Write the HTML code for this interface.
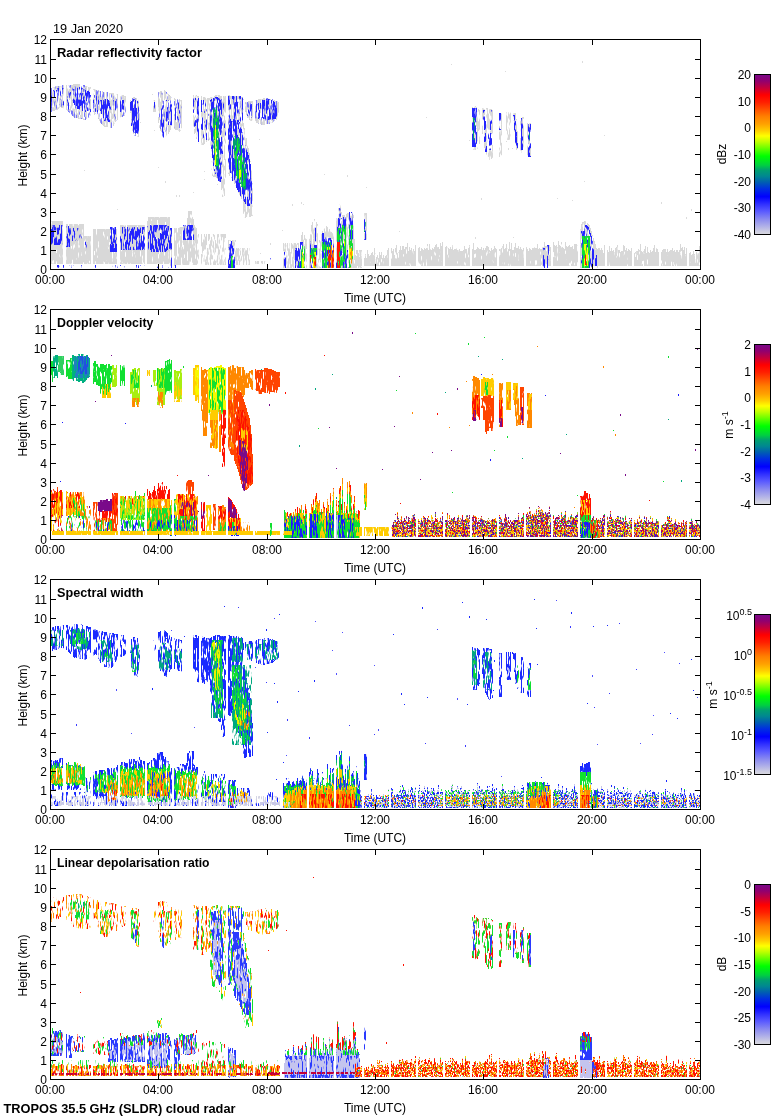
<!DOCTYPE html><html><head><meta charset="utf-8"><style>html,body{margin:0;padding:0;background:#fff;overflow:hidden}svg{display:block}text{shape-rendering:auto}</style></head><body><svg width="780" height="1120" viewBox="0 0 780 1120" shape-rendering="crispEdges">
<defs><linearGradient id="cb" x1="0" y1="0" x2="0" y2="1"><stop offset="0" stop-color="#7a0a8a"/><stop offset="0.04" stop-color="#900070"/><stop offset="0.08" stop-color="#c00040"/><stop offset="0.128" stop-color="#ff0000"/><stop offset="0.174" stop-color="#ff2000"/><stop offset="0.218" stop-color="#ff5000"/><stop offset="0.263" stop-color="#ff8000"/><stop offset="0.308" stop-color="#ffa000"/><stop offset="0.352" stop-color="#ffd000"/><stop offset="0.384" stop-color="#ffff00"/><stop offset="0.42" stop-color="#c0ff00"/><stop offset="0.465" stop-color="#60ff00"/><stop offset="0.51" stop-color="#00ff00"/><stop offset="0.566" stop-color="#00d040"/><stop offset="0.597" stop-color="#00a070"/><stop offset="0.635" stop-color="#008890"/><stop offset="0.672" stop-color="#0060b0"/><stop offset="0.713" stop-color="#0030e0"/><stop offset="0.764" stop-color="#0000ff"/><stop offset="0.81" stop-color="#3030ff"/><stop offset="0.855" stop-color="#5a5aff"/><stop offset="0.902" stop-color="#8888f0"/><stop offset="0.948" stop-color="#b0b0e8"/><stop offset="0.985" stop-color="#d0d0e0"/><stop offset="1.0" stop-color="#d8d8e0"/></linearGradient></defs>
<rect width="780" height="1120" fill="#fff"/>
<defs><filter id="f0_8_2" filterUnits="userSpaceOnUse" x="50" y="39" width="651" height="231" color-interpolation-filters="sRGB"><feTurbulence type="fractalNoise" baseFrequency="0.8 0.1" numOctaves="2" seed="43" result="t"/><feColorMatrix in="t" type="matrix" values="0 0 0 0 0 0 0 0 0 0 0 0 0 0 0 -12 0 0 0 4.464" result="m"/><feComposite in="SourceGraphic" in2="m" operator="in"/></filter><filter id="f0_15_2" filterUnits="userSpaceOnUse" x="50" y="39" width="651" height="231" color-interpolation-filters="sRGB"><feTurbulence type="fractalNoise" baseFrequency="0.8 0.1" numOctaves="2" seed="50" result="t"/><feColorMatrix in="t" type="matrix" values="0 0 0 0 0 0 0 0 0 0 0 0 0 0 0 -12 0 0 0 4.914" result="m"/><feComposite in="SourceGraphic" in2="m" operator="in"/></filter><filter id="f0_18_0" filterUnits="userSpaceOnUse" x="50" y="39" width="651" height="231" color-interpolation-filters="sRGB"><feTurbulence type="fractalNoise" baseFrequency="0.8 0.1" numOctaves="2" seed="19" result="t"/><feColorMatrix in="t" type="matrix" values="0 0 0 0 0 0 0 0 0 0 0 0 0 0 0 -12 0 0 0 5.093" result="m"/><feComposite in="SourceGraphic" in2="m" operator="in"/></filter><filter id="f0_18_2" filterUnits="userSpaceOnUse" x="50" y="39" width="651" height="231" color-interpolation-filters="sRGB"><feTurbulence type="fractalNoise" baseFrequency="0.8 0.1" numOctaves="2" seed="53" result="t"/><feColorMatrix in="t" type="matrix" values="0 0 0 0 0 0 0 0 0 0 0 0 0 0 0 -12 0 0 0 5.093" result="m"/><feComposite in="SourceGraphic" in2="m" operator="in"/></filter><filter id="f0_20_2" filterUnits="userSpaceOnUse" x="50" y="39" width="651" height="231" color-interpolation-filters="sRGB"><feTurbulence type="fractalNoise" baseFrequency="0.8 0.1" numOctaves="2" seed="55" result="t"/><feColorMatrix in="t" type="matrix" values="0 0 0 0 0 0 0 0 0 0 0 0 0 0 0 -12 0 0 0 5.224" result="m"/><feComposite in="SourceGraphic" in2="m" operator="in"/></filter><filter id="f0_22_2" filterUnits="userSpaceOnUse" x="50" y="39" width="651" height="231" color-interpolation-filters="sRGB"><feTurbulence type="fractalNoise" baseFrequency="0.8 0.1" numOctaves="2" seed="57" result="t"/><feColorMatrix in="t" type="matrix" values="0 0 0 0 0 0 0 0 0 0 0 0 0 0 0 -12 0 0 0 5.356" result="m"/><feComposite in="SourceGraphic" in2="m" operator="in"/></filter><filter id="f0_25_2" filterUnits="userSpaceOnUse" x="50" y="39" width="651" height="231" color-interpolation-filters="sRGB"><feTurbulence type="fractalNoise" baseFrequency="0.8 0.1" numOctaves="2" seed="60" result="t"/><feColorMatrix in="t" type="matrix" values="0 0 0 0 0 0 0 0 0 0 0 0 0 0 0 -12 0 0 0 5.542" result="m"/><feComposite in="SourceGraphic" in2="m" operator="in"/></filter><filter id="f0_28_2" filterUnits="userSpaceOnUse" x="50" y="39" width="651" height="231" color-interpolation-filters="sRGB"><feTurbulence type="fractalNoise" baseFrequency="0.8 0.1" numOctaves="2" seed="63" result="t"/><feColorMatrix in="t" type="matrix" values="0 0 0 0 0 0 0 0 0 0 0 0 0 0 0 -12 0 0 0 5.674" result="m"/><feComposite in="SourceGraphic" in2="m" operator="in"/></filter><filter id="f0_30_2" filterUnits="userSpaceOnUse" x="50" y="39" width="651" height="231" color-interpolation-filters="sRGB"><feTurbulence type="fractalNoise" baseFrequency="0.8 0.1" numOctaves="2" seed="65" result="t"/><feColorMatrix in="t" type="matrix" values="0 0 0 0 0 0 0 0 0 0 0 0 0 0 0 -12 0 0 0 5.762" result="m"/><feComposite in="SourceGraphic" in2="m" operator="in"/></filter><filter id="f0_35_2" filterUnits="userSpaceOnUse" x="50" y="39" width="651" height="231" color-interpolation-filters="sRGB"><feTurbulence type="fractalNoise" baseFrequency="0.8 0.1" numOctaves="2" seed="70" result="t"/><feColorMatrix in="t" type="matrix" values="0 0 0 0 0 0 0 0 0 0 0 0 0 0 0 -12 0 0 0 5.982" result="m"/><feComposite in="SourceGraphic" in2="m" operator="in"/></filter><filter id="f0_40_0" filterUnits="userSpaceOnUse" x="50" y="39" width="651" height="231" color-interpolation-filters="sRGB"><feTurbulence type="fractalNoise" baseFrequency="0.8 0.1" numOctaves="2" seed="41" result="t"/><feColorMatrix in="t" type="matrix" values="0 0 0 0 0 0 0 0 0 0 0 0 0 0 0 -12 0 0 0 6.161" result="m"/><feComposite in="SourceGraphic" in2="m" operator="in"/></filter><filter id="f0_40_2" filterUnits="userSpaceOnUse" x="50" y="39" width="651" height="231" color-interpolation-filters="sRGB"><feTurbulence type="fractalNoise" baseFrequency="0.8 0.1" numOctaves="2" seed="75" result="t"/><feColorMatrix in="t" type="matrix" values="0 0 0 0 0 0 0 0 0 0 0 0 0 0 0 -12 0 0 0 6.161" result="m"/><feComposite in="SourceGraphic" in2="m" operator="in"/></filter><filter id="f0_45_0" filterUnits="userSpaceOnUse" x="50" y="39" width="651" height="231" color-interpolation-filters="sRGB"><feTurbulence type="fractalNoise" baseFrequency="0.8 0.1" numOctaves="2" seed="46" result="t"/><feColorMatrix in="t" type="matrix" values="0 0 0 0 0 0 0 0 0 0 0 0 0 0 0 -12 0 0 0 6.336" result="m"/><feComposite in="SourceGraphic" in2="m" operator="in"/></filter><filter id="f0_45_2" filterUnits="userSpaceOnUse" x="50" y="39" width="651" height="231" color-interpolation-filters="sRGB"><feTurbulence type="fractalNoise" baseFrequency="0.8 0.1" numOctaves="2" seed="80" result="t"/><feColorMatrix in="t" type="matrix" values="0 0 0 0 0 0 0 0 0 0 0 0 0 0 0 -12 0 0 0 6.336" result="m"/><feComposite in="SourceGraphic" in2="m" operator="in"/></filter><filter id="f0_50_0" filterUnits="userSpaceOnUse" x="50" y="39" width="651" height="231" color-interpolation-filters="sRGB"><feTurbulence type="fractalNoise" baseFrequency="0.8 0.1" numOctaves="2" seed="51" result="t"/><feColorMatrix in="t" type="matrix" values="0 0 0 0 0 0 0 0 0 0 0 0 0 0 0 -12 0 0 0 6.512" result="m"/><feComposite in="SourceGraphic" in2="m" operator="in"/></filter><filter id="f0_50_2" filterUnits="userSpaceOnUse" x="50" y="39" width="651" height="231" color-interpolation-filters="sRGB"><feTurbulence type="fractalNoise" baseFrequency="0.8 0.1" numOctaves="2" seed="85" result="t"/><feColorMatrix in="t" type="matrix" values="0 0 0 0 0 0 0 0 0 0 0 0 0 0 0 -12 0 0 0 6.512" result="m"/><feComposite in="SourceGraphic" in2="m" operator="in"/></filter><filter id="f0_55_0" filterUnits="userSpaceOnUse" x="50" y="39" width="651" height="231" color-interpolation-filters="sRGB"><feTurbulence type="fractalNoise" baseFrequency="0.8 0.1" numOctaves="2" seed="56" result="t"/><feColorMatrix in="t" type="matrix" values="0 0 0 0 0 0 0 0 0 0 0 0 0 0 0 -12 0 0 0 6.687" result="m"/><feComposite in="SourceGraphic" in2="m" operator="in"/></filter><filter id="f0_55_2" filterUnits="userSpaceOnUse" x="50" y="39" width="651" height="231" color-interpolation-filters="sRGB"><feTurbulence type="fractalNoise" baseFrequency="0.8 0.1" numOctaves="2" seed="90" result="t"/><feColorMatrix in="t" type="matrix" values="0 0 0 0 0 0 0 0 0 0 0 0 0 0 0 -12 0 0 0 6.687" result="m"/><feComposite in="SourceGraphic" in2="m" operator="in"/></filter><filter id="f0_60_0" filterUnits="userSpaceOnUse" x="50" y="39" width="651" height="231" color-interpolation-filters="sRGB"><feTurbulence type="fractalNoise" baseFrequency="0.8 0.1" numOctaves="2" seed="61" result="t"/><feColorMatrix in="t" type="matrix" values="0 0 0 0 0 0 0 0 0 0 0 0 0 0 0 -12 0 0 0 6.862" result="m"/><feComposite in="SourceGraphic" in2="m" operator="in"/></filter><filter id="f0_60_2" filterUnits="userSpaceOnUse" x="50" y="39" width="651" height="231" color-interpolation-filters="sRGB"><feTurbulence type="fractalNoise" baseFrequency="0.8 0.1" numOctaves="2" seed="95" result="t"/><feColorMatrix in="t" type="matrix" values="0 0 0 0 0 0 0 0 0 0 0 0 0 0 0 -12 0 0 0 6.862" result="m"/><feComposite in="SourceGraphic" in2="m" operator="in"/></filter><filter id="f0_65_2" filterUnits="userSpaceOnUse" x="50" y="39" width="651" height="231" color-interpolation-filters="sRGB"><feTurbulence type="fractalNoise" baseFrequency="0.8 0.1" numOctaves="2" seed="100" result="t"/><feColorMatrix in="t" type="matrix" values="0 0 0 0 0 0 0 0 0 0 0 0 0 0 0 -12 0 0 0 7.052" result="m"/><feComposite in="SourceGraphic" in2="m" operator="in"/></filter><filter id="f0_70_0" filterUnits="userSpaceOnUse" x="50" y="39" width="651" height="231" color-interpolation-filters="sRGB"><feTurbulence type="fractalNoise" baseFrequency="0.8 0.1" numOctaves="2" seed="71" result="t"/><feColorMatrix in="t" type="matrix" values="0 0 0 0 0 0 0 0 0 0 0 0 0 0 0 -12 0 0 0 7.261" result="m"/><feComposite in="SourceGraphic" in2="m" operator="in"/></filter><filter id="f0_70_2" filterUnits="userSpaceOnUse" x="50" y="39" width="651" height="231" color-interpolation-filters="sRGB"><feTurbulence type="fractalNoise" baseFrequency="0.8 0.1" numOctaves="2" seed="105" result="t"/><feColorMatrix in="t" type="matrix" values="0 0 0 0 0 0 0 0 0 0 0 0 0 0 0 -12 0 0 0 7.261" result="m"/><feComposite in="SourceGraphic" in2="m" operator="in"/></filter><filter id="f0_72_2" filterUnits="userSpaceOnUse" x="50" y="39" width="651" height="231" color-interpolation-filters="sRGB"><feTurbulence type="fractalNoise" baseFrequency="0.8 0.1" numOctaves="2" seed="107" result="t"/><feColorMatrix in="t" type="matrix" values="0 0 0 0 0 0 0 0 0 0 0 0 0 0 0 -12 0 0 0 7.344" result="m"/><feComposite in="SourceGraphic" in2="m" operator="in"/></filter><filter id="f0_75_0" filterUnits="userSpaceOnUse" x="50" y="39" width="651" height="231" color-interpolation-filters="sRGB"><feTurbulence type="fractalNoise" baseFrequency="0.8 0.1" numOctaves="2" seed="76" result="t"/><feColorMatrix in="t" type="matrix" values="0 0 0 0 0 0 0 0 0 0 0 0 0 0 0 -12 0 0 0 7.480" result="m"/><feComposite in="SourceGraphic" in2="m" operator="in"/></filter><filter id="f0_75_2" filterUnits="userSpaceOnUse" x="50" y="39" width="651" height="231" color-interpolation-filters="sRGB"><feTurbulence type="fractalNoise" baseFrequency="0.8 0.1" numOctaves="2" seed="110" result="t"/><feColorMatrix in="t" type="matrix" values="0 0 0 0 0 0 0 0 0 0 0 0 0 0 0 -12 0 0 0 7.480" result="m"/><feComposite in="SourceGraphic" in2="m" operator="in"/></filter><filter id="f0_80_0" filterUnits="userSpaceOnUse" x="50" y="39" width="651" height="231" color-interpolation-filters="sRGB"><feTurbulence type="fractalNoise" baseFrequency="0.8 0.1" numOctaves="2" seed="81" result="t"/><feColorMatrix in="t" type="matrix" values="0 0 0 0 0 0 0 0 0 0 0 0 0 0 0 -12 0 0 0 7.766" result="m"/><feComposite in="SourceGraphic" in2="m" operator="in"/></filter><filter id="f0_80_2" filterUnits="userSpaceOnUse" x="50" y="39" width="651" height="231" color-interpolation-filters="sRGB"><feTurbulence type="fractalNoise" baseFrequency="0.8 0.1" numOctaves="2" seed="115" result="t"/><feColorMatrix in="t" type="matrix" values="0 0 0 0 0 0 0 0 0 0 0 0 0 0 0 -12 0 0 0 7.766" result="m"/><feComposite in="SourceGraphic" in2="m" operator="in"/></filter><filter id="f0_82_2" filterUnits="userSpaceOnUse" x="50" y="39" width="651" height="231" color-interpolation-filters="sRGB"><feTurbulence type="fractalNoise" baseFrequency="0.8 0.1" numOctaves="2" seed="117" result="t"/><feColorMatrix in="t" type="matrix" values="0 0 0 0 0 0 0 0 0 0 0 0 0 0 0 -12 0 0 0 7.880" result="m"/><feComposite in="SourceGraphic" in2="m" operator="in"/></filter><filter id="f0_92_2" filterUnits="userSpaceOnUse" x="50" y="39" width="651" height="231" color-interpolation-filters="sRGB"><feTurbulence type="fractalNoise" baseFrequency="0.8 0.1" numOctaves="2" seed="127" result="t"/><feColorMatrix in="t" type="matrix" values="0 0 0 0 0 0 0 0 0 0 0 0 0 0 0 -12 0 0 0 8.611" result="m"/><feComposite in="SourceGraphic" in2="m" operator="in"/></filter><filter id="f0_94_2" filterUnits="userSpaceOnUse" x="50" y="39" width="651" height="231" color-interpolation-filters="sRGB"><feTurbulence type="fractalNoise" baseFrequency="0.8 0.1" numOctaves="2" seed="129" result="t"/><feColorMatrix in="t" type="matrix" values="0 0 0 0 0 0 0 0 0 0 0 0 0 0 0 -12 0 0 0 8.833" result="m"/><feComposite in="SourceGraphic" in2="m" operator="in"/></filter><filter id="f1_10_0" filterUnits="userSpaceOnUse" x="50" y="309" width="651" height="231" color-interpolation-filters="sRGB"><feTurbulence type="fractalNoise" baseFrequency="0.8 0.1" numOctaves="2" seed="111" result="t"/><feColorMatrix in="t" type="matrix" values="0 0 0 0 0 0 0 0 0 0 0 0 0 0 0 -12 0 0 0 4.629" result="m"/><feComposite in="SourceGraphic" in2="m" operator="in"/></filter><filter id="f1_15_0" filterUnits="userSpaceOnUse" x="50" y="309" width="651" height="231" color-interpolation-filters="sRGB"><feTurbulence type="fractalNoise" baseFrequency="0.8 0.1" numOctaves="2" seed="116" result="t"/><feColorMatrix in="t" type="matrix" values="0 0 0 0 0 0 0 0 0 0 0 0 0 0 0 -12 0 0 0 4.914" result="m"/><feComposite in="SourceGraphic" in2="m" operator="in"/></filter><filter id="f1_20_0" filterUnits="userSpaceOnUse" x="50" y="309" width="651" height="231" color-interpolation-filters="sRGB"><feTurbulence type="fractalNoise" baseFrequency="0.8 0.1" numOctaves="2" seed="121" result="t"/><feColorMatrix in="t" type="matrix" values="0 0 0 0 0 0 0 0 0 0 0 0 0 0 0 -12 0 0 0 5.224" result="m"/><feComposite in="SourceGraphic" in2="m" operator="in"/></filter><filter id="f1_20_2" filterUnits="userSpaceOnUse" x="50" y="309" width="651" height="231" color-interpolation-filters="sRGB"><feTurbulence type="fractalNoise" baseFrequency="0.8 0.1" numOctaves="2" seed="155" result="t"/><feColorMatrix in="t" type="matrix" values="0 0 0 0 0 0 0 0 0 0 0 0 0 0 0 -12 0 0 0 5.224" result="m"/><feComposite in="SourceGraphic" in2="m" operator="in"/></filter><filter id="f1_21_15" filterUnits="userSpaceOnUse" x="50" y="309" width="651" height="231" color-interpolation-filters="sRGB"><feTurbulence type="fractalNoise" baseFrequency="0.9 0.4" numOctaves="2" seed="377" result="t"/><feColorMatrix in="t" type="matrix" values="0 0 0 0 0 0 0 0 0 0 0 0 0 0 0 -12 0 0 0 5.290" result="m"/><feComposite in="SourceGraphic" in2="m" operator="in"/></filter><filter id="f1_22_12" filterUnits="userSpaceOnUse" x="50" y="309" width="651" height="231" color-interpolation-filters="sRGB"><feTurbulence type="fractalNoise" baseFrequency="0.9 0.4" numOctaves="2" seed="327" result="t"/><feColorMatrix in="t" type="matrix" values="0 0 0 0 0 0 0 0 0 0 0 0 0 0 0 -12 0 0 0 5.356" result="m"/><feComposite in="SourceGraphic" in2="m" operator="in"/></filter><filter id="f1_25_0" filterUnits="userSpaceOnUse" x="50" y="309" width="651" height="231" color-interpolation-filters="sRGB"><feTurbulence type="fractalNoise" baseFrequency="0.8 0.1" numOctaves="2" seed="126" result="t"/><feColorMatrix in="t" type="matrix" values="0 0 0 0 0 0 0 0 0 0 0 0 0 0 0 -12 0 0 0 5.542" result="m"/><feComposite in="SourceGraphic" in2="m" operator="in"/></filter><filter id="f1_25_2" filterUnits="userSpaceOnUse" x="50" y="309" width="651" height="231" color-interpolation-filters="sRGB"><feTurbulence type="fractalNoise" baseFrequency="0.8 0.1" numOctaves="2" seed="160" result="t"/><feColorMatrix in="t" type="matrix" values="0 0 0 0 0 0 0 0 0 0 0 0 0 0 0 -12 0 0 0 5.542" result="m"/><feComposite in="SourceGraphic" in2="m" operator="in"/></filter><filter id="f1_28_0" filterUnits="userSpaceOnUse" x="50" y="309" width="651" height="231" color-interpolation-filters="sRGB"><feTurbulence type="fractalNoise" baseFrequency="0.8 0.1" numOctaves="2" seed="129" result="t"/><feColorMatrix in="t" type="matrix" values="0 0 0 0 0 0 0 0 0 0 0 0 0 0 0 -12 0 0 0 5.674" result="m"/><feComposite in="SourceGraphic" in2="m" operator="in"/></filter><filter id="f1_28_11" filterUnits="userSpaceOnUse" x="50" y="309" width="651" height="231" color-interpolation-filters="sRGB"><feTurbulence type="fractalNoise" baseFrequency="0.9 0.4" numOctaves="2" seed="316" result="t"/><feColorMatrix in="t" type="matrix" values="0 0 0 0 0 0 0 0 0 0 0 0 0 0 0 -12 0 0 0 5.674" result="m"/><feComposite in="SourceGraphic" in2="m" operator="in"/></filter><filter id="f1_29_10" filterUnits="userSpaceOnUse" x="50" y="309" width="651" height="231" color-interpolation-filters="sRGB"><feTurbulence type="fractalNoise" baseFrequency="0.9 0.4" numOctaves="2" seed="300" result="t"/><feColorMatrix in="t" type="matrix" values="0 0 0 0 0 0 0 0 0 0 0 0 0 0 0 -12 0 0 0 5.718" result="m"/><feComposite in="SourceGraphic" in2="m" operator="in"/></filter><filter id="f1_30_0" filterUnits="userSpaceOnUse" x="50" y="309" width="651" height="231" color-interpolation-filters="sRGB"><feTurbulence type="fractalNoise" baseFrequency="0.8 0.1" numOctaves="2" seed="131" result="t"/><feColorMatrix in="t" type="matrix" values="0 0 0 0 0 0 0 0 0 0 0 0 0 0 0 -12 0 0 0 5.762" result="m"/><feComposite in="SourceGraphic" in2="m" operator="in"/></filter><filter id="f1_30_2" filterUnits="userSpaceOnUse" x="50" y="309" width="651" height="231" color-interpolation-filters="sRGB"><feTurbulence type="fractalNoise" baseFrequency="0.8 0.1" numOctaves="2" seed="165" result="t"/><feColorMatrix in="t" type="matrix" values="0 0 0 0 0 0 0 0 0 0 0 0 0 0 0 -12 0 0 0 5.762" result="m"/><feComposite in="SourceGraphic" in2="m" operator="in"/></filter><filter id="f1_30_16" filterUnits="userSpaceOnUse" x="50" y="309" width="651" height="231" color-interpolation-filters="sRGB"><feTurbulence type="fractalNoise" baseFrequency="0.9 0.4" numOctaves="2" seed="403" result="t"/><feColorMatrix in="t" type="matrix" values="0 0 0 0 0 0 0 0 0 0 0 0 0 0 0 -12 0 0 0 5.762" result="m"/><feComposite in="SourceGraphic" in2="m" operator="in"/></filter><filter id="f1_33_13" filterUnits="userSpaceOnUse" x="50" y="309" width="651" height="231" color-interpolation-filters="sRGB"><feTurbulence type="fractalNoise" baseFrequency="0.9 0.4" numOctaves="2" seed="355" result="t"/><feColorMatrix in="t" type="matrix" values="0 0 0 0 0 0 0 0 0 0 0 0 0 0 0 -12 0 0 0 5.894" result="m"/><feComposite in="SourceGraphic" in2="m" operator="in"/></filter><filter id="f1_35_0" filterUnits="userSpaceOnUse" x="50" y="309" width="651" height="231" color-interpolation-filters="sRGB"><feTurbulence type="fractalNoise" baseFrequency="0.8 0.1" numOctaves="2" seed="136" result="t"/><feColorMatrix in="t" type="matrix" values="0 0 0 0 0 0 0 0 0 0 0 0 0 0 0 -12 0 0 0 5.982" result="m"/><feComposite in="SourceGraphic" in2="m" operator="in"/></filter><filter id="f1_35_2" filterUnits="userSpaceOnUse" x="50" y="309" width="651" height="231" color-interpolation-filters="sRGB"><feTurbulence type="fractalNoise" baseFrequency="0.8 0.1" numOctaves="2" seed="170" result="t"/><feColorMatrix in="t" type="matrix" values="0 0 0 0 0 0 0 0 0 0 0 0 0 0 0 -12 0 0 0 5.982" result="m"/><feComposite in="SourceGraphic" in2="m" operator="in"/></filter><filter id="f1_40_0" filterUnits="userSpaceOnUse" x="50" y="309" width="651" height="231" color-interpolation-filters="sRGB"><feTurbulence type="fractalNoise" baseFrequency="0.8 0.1" numOctaves="2" seed="141" result="t"/><feColorMatrix in="t" type="matrix" values="0 0 0 0 0 0 0 0 0 0 0 0 0 0 0 -12 0 0 0 6.161" result="m"/><feComposite in="SourceGraphic" in2="m" operator="in"/></filter><filter id="f1_40_2" filterUnits="userSpaceOnUse" x="50" y="309" width="651" height="231" color-interpolation-filters="sRGB"><feTurbulence type="fractalNoise" baseFrequency="0.8 0.1" numOctaves="2" seed="175" result="t"/><feColorMatrix in="t" type="matrix" values="0 0 0 0 0 0 0 0 0 0 0 0 0 0 0 -12 0 0 0 6.161" result="m"/><feComposite in="SourceGraphic" in2="m" operator="in"/></filter><filter id="f1_45_0" filterUnits="userSpaceOnUse" x="50" y="309" width="651" height="231" color-interpolation-filters="sRGB"><feTurbulence type="fractalNoise" baseFrequency="0.8 0.1" numOctaves="2" seed="146" result="t"/><feColorMatrix in="t" type="matrix" values="0 0 0 0 0 0 0 0 0 0 0 0 0 0 0 -12 0 0 0 6.336" result="m"/><feComposite in="SourceGraphic" in2="m" operator="in"/></filter><filter id="f1_45_2" filterUnits="userSpaceOnUse" x="50" y="309" width="651" height="231" color-interpolation-filters="sRGB"><feTurbulence type="fractalNoise" baseFrequency="0.8 0.1" numOctaves="2" seed="180" result="t"/><feColorMatrix in="t" type="matrix" values="0 0 0 0 0 0 0 0 0 0 0 0 0 0 0 -12 0 0 0 6.336" result="m"/><feComposite in="SourceGraphic" in2="m" operator="in"/></filter><filter id="f1_50_0" filterUnits="userSpaceOnUse" x="50" y="309" width="651" height="231" color-interpolation-filters="sRGB"><feTurbulence type="fractalNoise" baseFrequency="0.8 0.1" numOctaves="2" seed="151" result="t"/><feColorMatrix in="t" type="matrix" values="0 0 0 0 0 0 0 0 0 0 0 0 0 0 0 -12 0 0 0 6.512" result="m"/><feComposite in="SourceGraphic" in2="m" operator="in"/></filter><filter id="f1_50_2" filterUnits="userSpaceOnUse" x="50" y="309" width="651" height="231" color-interpolation-filters="sRGB"><feTurbulence type="fractalNoise" baseFrequency="0.8 0.1" numOctaves="2" seed="185" result="t"/><feColorMatrix in="t" type="matrix" values="0 0 0 0 0 0 0 0 0 0 0 0 0 0 0 -12 0 0 0 6.512" result="m"/><feComposite in="SourceGraphic" in2="m" operator="in"/></filter><filter id="f1_50_14" filterUnits="userSpaceOnUse" x="50" y="309" width="651" height="231" color-interpolation-filters="sRGB"><feTurbulence type="fractalNoise" baseFrequency="0.9 0.4" numOctaves="2" seed="389" result="t"/><feColorMatrix in="t" type="matrix" values="0 0 0 0 0 0 0 0 0 0 0 0 0 0 0 -12 0 0 0 6.512" result="m"/><feComposite in="SourceGraphic" in2="m" operator="in"/></filter><filter id="f1_55_0" filterUnits="userSpaceOnUse" x="50" y="309" width="651" height="231" color-interpolation-filters="sRGB"><feTurbulence type="fractalNoise" baseFrequency="0.8 0.1" numOctaves="2" seed="156" result="t"/><feColorMatrix in="t" type="matrix" values="0 0 0 0 0 0 0 0 0 0 0 0 0 0 0 -12 0 0 0 6.687" result="m"/><feComposite in="SourceGraphic" in2="m" operator="in"/></filter><filter id="f1_55_2" filterUnits="userSpaceOnUse" x="50" y="309" width="651" height="231" color-interpolation-filters="sRGB"><feTurbulence type="fractalNoise" baseFrequency="0.8 0.1" numOctaves="2" seed="190" result="t"/><feColorMatrix in="t" type="matrix" values="0 0 0 0 0 0 0 0 0 0 0 0 0 0 0 -12 0 0 0 6.687" result="m"/><feComposite in="SourceGraphic" in2="m" operator="in"/></filter><filter id="f1_60_0" filterUnits="userSpaceOnUse" x="50" y="309" width="651" height="231" color-interpolation-filters="sRGB"><feTurbulence type="fractalNoise" baseFrequency="0.8 0.1" numOctaves="2" seed="161" result="t"/><feColorMatrix in="t" type="matrix" values="0 0 0 0 0 0 0 0 0 0 0 0 0 0 0 -12 0 0 0 6.862" result="m"/><feComposite in="SourceGraphic" in2="m" operator="in"/></filter><filter id="f1_60_2" filterUnits="userSpaceOnUse" x="50" y="309" width="651" height="231" color-interpolation-filters="sRGB"><feTurbulence type="fractalNoise" baseFrequency="0.8 0.1" numOctaves="2" seed="195" result="t"/><feColorMatrix in="t" type="matrix" values="0 0 0 0 0 0 0 0 0 0 0 0 0 0 0 -12 0 0 0 6.862" result="m"/><feComposite in="SourceGraphic" in2="m" operator="in"/></filter><filter id="f1_70_0" filterUnits="userSpaceOnUse" x="50" y="309" width="651" height="231" color-interpolation-filters="sRGB"><feTurbulence type="fractalNoise" baseFrequency="0.8 0.1" numOctaves="2" seed="171" result="t"/><feColorMatrix in="t" type="matrix" values="0 0 0 0 0 0 0 0 0 0 0 0 0 0 0 -12 0 0 0 7.261" result="m"/><feComposite in="SourceGraphic" in2="m" operator="in"/></filter><filter id="f1_70_2" filterUnits="userSpaceOnUse" x="50" y="309" width="651" height="231" color-interpolation-filters="sRGB"><feTurbulence type="fractalNoise" baseFrequency="0.8 0.1" numOctaves="2" seed="205" result="t"/><feColorMatrix in="t" type="matrix" values="0 0 0 0 0 0 0 0 0 0 0 0 0 0 0 -12 0 0 0 7.261" result="m"/><feComposite in="SourceGraphic" in2="m" operator="in"/></filter><filter id="f1_75_0" filterUnits="userSpaceOnUse" x="50" y="309" width="651" height="231" color-interpolation-filters="sRGB"><feTurbulence type="fractalNoise" baseFrequency="0.8 0.1" numOctaves="2" seed="176" result="t"/><feColorMatrix in="t" type="matrix" values="0 0 0 0 0 0 0 0 0 0 0 0 0 0 0 -12 0 0 0 7.480" result="m"/><feComposite in="SourceGraphic" in2="m" operator="in"/></filter><filter id="f1_75_2" filterUnits="userSpaceOnUse" x="50" y="309" width="651" height="231" color-interpolation-filters="sRGB"><feTurbulence type="fractalNoise" baseFrequency="0.8 0.1" numOctaves="2" seed="210" result="t"/><feColorMatrix in="t" type="matrix" values="0 0 0 0 0 0 0 0 0 0 0 0 0 0 0 -12 0 0 0 7.480" result="m"/><feComposite in="SourceGraphic" in2="m" operator="in"/></filter><filter id="f1_78_0" filterUnits="userSpaceOnUse" x="50" y="309" width="651" height="231" color-interpolation-filters="sRGB"><feTurbulence type="fractalNoise" baseFrequency="0.8 0.1" numOctaves="2" seed="179" result="t"/><feColorMatrix in="t" type="matrix" values="0 0 0 0 0 0 0 0 0 0 0 0 0 0 0 -12 0 0 0 7.651" result="m"/><feComposite in="SourceGraphic" in2="m" operator="in"/></filter><filter id="f1_80_0" filterUnits="userSpaceOnUse" x="50" y="309" width="651" height="231" color-interpolation-filters="sRGB"><feTurbulence type="fractalNoise" baseFrequency="0.8 0.1" numOctaves="2" seed="181" result="t"/><feColorMatrix in="t" type="matrix" values="0 0 0 0 0 0 0 0 0 0 0 0 0 0 0 -12 0 0 0 7.766" result="m"/><feComposite in="SourceGraphic" in2="m" operator="in"/></filter><filter id="f1_80_2" filterUnits="userSpaceOnUse" x="50" y="309" width="651" height="231" color-interpolation-filters="sRGB"><feTurbulence type="fractalNoise" baseFrequency="0.8 0.1" numOctaves="2" seed="215" result="t"/><feColorMatrix in="t" type="matrix" values="0 0 0 0 0 0 0 0 0 0 0 0 0 0 0 -12 0 0 0 7.766" result="m"/><feComposite in="SourceGraphic" in2="m" operator="in"/></filter><filter id="f1_82_0" filterUnits="userSpaceOnUse" x="50" y="309" width="651" height="231" color-interpolation-filters="sRGB"><feTurbulence type="fractalNoise" baseFrequency="0.8 0.1" numOctaves="2" seed="183" result="t"/><feColorMatrix in="t" type="matrix" values="0 0 0 0 0 0 0 0 0 0 0 0 0 0 0 -12 0 0 0 7.880" result="m"/><feComposite in="SourceGraphic" in2="m" operator="in"/></filter><filter id="f1_82_2" filterUnits="userSpaceOnUse" x="50" y="309" width="651" height="231" color-interpolation-filters="sRGB"><feTurbulence type="fractalNoise" baseFrequency="0.8 0.1" numOctaves="2" seed="217" result="t"/><feColorMatrix in="t" type="matrix" values="0 0 0 0 0 0 0 0 0 0 0 0 0 0 0 -12 0 0 0 7.880" result="m"/><feComposite in="SourceGraphic" in2="m" operator="in"/></filter><filter id="f1_85_0" filterUnits="userSpaceOnUse" x="50" y="309" width="651" height="231" color-interpolation-filters="sRGB"><feTurbulence type="fractalNoise" baseFrequency="0.8 0.1" numOctaves="2" seed="186" result="t"/><feColorMatrix in="t" type="matrix" values="0 0 0 0 0 0 0 0 0 0 0 0 0 0 0 -12 0 0 0 8.069" result="m"/><feComposite in="SourceGraphic" in2="m" operator="in"/></filter><filter id="f1_85_2" filterUnits="userSpaceOnUse" x="50" y="309" width="651" height="231" color-interpolation-filters="sRGB"><feTurbulence type="fractalNoise" baseFrequency="0.8 0.1" numOctaves="2" seed="220" result="t"/><feColorMatrix in="t" type="matrix" values="0 0 0 0 0 0 0 0 0 0 0 0 0 0 0 -12 0 0 0 8.069" result="m"/><feComposite in="SourceGraphic" in2="m" operator="in"/></filter><filter id="f1_88_0" filterUnits="userSpaceOnUse" x="50" y="309" width="651" height="231" color-interpolation-filters="sRGB"><feTurbulence type="fractalNoise" baseFrequency="0.8 0.1" numOctaves="2" seed="189" result="t"/><feColorMatrix in="t" type="matrix" values="0 0 0 0 0 0 0 0 0 0 0 0 0 0 0 -12 0 0 0 8.264" result="m"/><feComposite in="SourceGraphic" in2="m" operator="in"/></filter><filter id="f1_88_2" filterUnits="userSpaceOnUse" x="50" y="309" width="651" height="231" color-interpolation-filters="sRGB"><feTurbulence type="fractalNoise" baseFrequency="0.8 0.1" numOctaves="2" seed="223" result="t"/><feColorMatrix in="t" type="matrix" values="0 0 0 0 0 0 0 0 0 0 0 0 0 0 0 -12 0 0 0 8.264" result="m"/><feComposite in="SourceGraphic" in2="m" operator="in"/></filter><filter id="f1_90_0" filterUnits="userSpaceOnUse" x="50" y="309" width="651" height="231" color-interpolation-filters="sRGB"><feTurbulence type="fractalNoise" baseFrequency="0.8 0.1" numOctaves="2" seed="191" result="t"/><feColorMatrix in="t" type="matrix" values="0 0 0 0 0 0 0 0 0 0 0 0 0 0 0 -12 0 0 0 8.394" result="m"/><feComposite in="SourceGraphic" in2="m" operator="in"/></filter><filter id="f1_90_2" filterUnits="userSpaceOnUse" x="50" y="309" width="651" height="231" color-interpolation-filters="sRGB"><feTurbulence type="fractalNoise" baseFrequency="0.8 0.1" numOctaves="2" seed="225" result="t"/><feColorMatrix in="t" type="matrix" values="0 0 0 0 0 0 0 0 0 0 0 0 0 0 0 -12 0 0 0 8.394" result="m"/><feComposite in="SourceGraphic" in2="m" operator="in"/></filter><filter id="f1_92_2" filterUnits="userSpaceOnUse" x="50" y="309" width="651" height="231" color-interpolation-filters="sRGB"><feTurbulence type="fractalNoise" baseFrequency="0.8 0.1" numOctaves="2" seed="227" result="t"/><feColorMatrix in="t" type="matrix" values="0 0 0 0 0 0 0 0 0 0 0 0 0 0 0 -12 0 0 0 8.611" result="m"/><feComposite in="SourceGraphic" in2="m" operator="in"/></filter><filter id="f1_96_0" filterUnits="userSpaceOnUse" x="50" y="309" width="651" height="231" color-interpolation-filters="sRGB"><feTurbulence type="fractalNoise" baseFrequency="0.8 0.1" numOctaves="2" seed="197" result="t"/><feColorMatrix in="t" type="matrix" values="0 0 0 0 0 0 0 0 0 0 0 0 0 0 0 -12 0 0 0 9.088" result="m"/><feComposite in="SourceGraphic" in2="m" operator="in"/></filter><filter id="f2_7_16" filterUnits="userSpaceOnUse" x="50" y="579" width="651" height="231" color-interpolation-filters="sRGB"><feTurbulence type="fractalNoise" baseFrequency="0.9 0.4" numOctaves="2" seed="480" result="t"/><feColorMatrix in="t" type="matrix" values="0 0 0 0 0 0 0 0 0 0 0 0 0 0 0 -12 0 0 0 4.344" result="m"/><feComposite in="SourceGraphic" in2="m" operator="in"/></filter><filter id="f2_12_0" filterUnits="userSpaceOnUse" x="50" y="579" width="651" height="231" color-interpolation-filters="sRGB"><feTurbulence type="fractalNoise" baseFrequency="0.8 0.1" numOctaves="2" seed="213" result="t"/><feColorMatrix in="t" type="matrix" values="0 0 0 0 0 0 0 0 0 0 0 0 0 0 0 -12 0 0 0 4.743" result="m"/><feComposite in="SourceGraphic" in2="m" operator="in"/></filter><filter id="f2_12_12" filterUnits="userSpaceOnUse" x="50" y="579" width="651" height="231" color-interpolation-filters="sRGB"><feTurbulence type="fractalNoise" baseFrequency="0.9 0.4" numOctaves="2" seed="417" result="t"/><feColorMatrix in="t" type="matrix" values="0 0 0 0 0 0 0 0 0 0 0 0 0 0 0 -12 0 0 0 4.743" result="m"/><feComposite in="SourceGraphic" in2="m" operator="in"/></filter><filter id="f2_12_13" filterUnits="userSpaceOnUse" x="50" y="579" width="651" height="231" color-interpolation-filters="sRGB"><feTurbulence type="fractalNoise" baseFrequency="0.9 0.4" numOctaves="2" seed="434" result="t"/><feColorMatrix in="t" type="matrix" values="0 0 0 0 0 0 0 0 0 0 0 0 0 0 0 -12 0 0 0 4.743" result="m"/><feComposite in="SourceGraphic" in2="m" operator="in"/></filter><filter id="f2_14_15" filterUnits="userSpaceOnUse" x="50" y="579" width="651" height="231" color-interpolation-filters="sRGB"><feTurbulence type="fractalNoise" baseFrequency="0.9 0.4" numOctaves="2" seed="470" result="t"/><feColorMatrix in="t" type="matrix" values="0 0 0 0 0 0 0 0 0 0 0 0 0 0 0 -12 0 0 0 4.857" result="m"/><feComposite in="SourceGraphic" in2="m" operator="in"/></filter><filter id="f2_14_19" filterUnits="userSpaceOnUse" x="50" y="579" width="651" height="231" color-interpolation-filters="sRGB"><feTurbulence type="fractalNoise" baseFrequency="0.9 0.4" numOctaves="2" seed="538" result="t"/><feColorMatrix in="t" type="matrix" values="0 0 0 0 0 0 0 0 0 0 0 0 0 0 0 -12 0 0 0 4.857" result="m"/><feComposite in="SourceGraphic" in2="m" operator="in"/></filter><filter id="f2_15_0" filterUnits="userSpaceOnUse" x="50" y="579" width="651" height="231" color-interpolation-filters="sRGB"><feTurbulence type="fractalNoise" baseFrequency="0.8 0.1" numOctaves="2" seed="216" result="t"/><feColorMatrix in="t" type="matrix" values="0 0 0 0 0 0 0 0 0 0 0 0 0 0 0 -12 0 0 0 4.914" result="m"/><feComposite in="SourceGraphic" in2="m" operator="in"/></filter><filter id="f2_15_2" filterUnits="userSpaceOnUse" x="50" y="579" width="651" height="231" color-interpolation-filters="sRGB"><feTurbulence type="fractalNoise" baseFrequency="0.8 0.1" numOctaves="2" seed="250" result="t"/><feColorMatrix in="t" type="matrix" values="0 0 0 0 0 0 0 0 0 0 0 0 0 0 0 -12 0 0 0 4.914" result="m"/><feComposite in="SourceGraphic" in2="m" operator="in"/></filter><filter id="f2_18_18" filterUnits="userSpaceOnUse" x="50" y="579" width="651" height="231" color-interpolation-filters="sRGB"><feTurbulence type="fractalNoise" baseFrequency="0.9 0.4" numOctaves="2" seed="525" result="t"/><feColorMatrix in="t" type="matrix" values="0 0 0 0 0 0 0 0 0 0 0 0 0 0 0 -12 0 0 0 5.093" result="m"/><feComposite in="SourceGraphic" in2="m" operator="in"/></filter><filter id="f2_20_0" filterUnits="userSpaceOnUse" x="50" y="579" width="651" height="231" color-interpolation-filters="sRGB"><feTurbulence type="fractalNoise" baseFrequency="0.8 0.1" numOctaves="2" seed="221" result="t"/><feColorMatrix in="t" type="matrix" values="0 0 0 0 0 0 0 0 0 0 0 0 0 0 0 -12 0 0 0 5.224" result="m"/><feComposite in="SourceGraphic" in2="m" operator="in"/></filter><filter id="f2_20_2" filterUnits="userSpaceOnUse" x="50" y="579" width="651" height="231" color-interpolation-filters="sRGB"><feTurbulence type="fractalNoise" baseFrequency="0.8 0.1" numOctaves="2" seed="255" result="t"/><feColorMatrix in="t" type="matrix" values="0 0 0 0 0 0 0 0 0 0 0 0 0 0 0 -12 0 0 0 5.224" result="m"/><feComposite in="SourceGraphic" in2="m" operator="in"/></filter><filter id="f2_20_17" filterUnits="userSpaceOnUse" x="50" y="579" width="651" height="231" color-interpolation-filters="sRGB"><feTurbulence type="fractalNoise" baseFrequency="0.9 0.4" numOctaves="2" seed="510" result="t"/><feColorMatrix in="t" type="matrix" values="0 0 0 0 0 0 0 0 0 0 0 0 0 0 0 -12 0 0 0 5.224" result="m"/><feComposite in="SourceGraphic" in2="m" operator="in"/></filter><filter id="f2_25_2" filterUnits="userSpaceOnUse" x="50" y="579" width="651" height="231" color-interpolation-filters="sRGB"><feTurbulence type="fractalNoise" baseFrequency="0.8 0.1" numOctaves="2" seed="260" result="t"/><feColorMatrix in="t" type="matrix" values="0 0 0 0 0 0 0 0 0 0 0 0 0 0 0 -12 0 0 0 5.542" result="m"/><feComposite in="SourceGraphic" in2="m" operator="in"/></filter><filter id="f2_30_0" filterUnits="userSpaceOnUse" x="50" y="579" width="651" height="231" color-interpolation-filters="sRGB"><feTurbulence type="fractalNoise" baseFrequency="0.8 0.1" numOctaves="2" seed="231" result="t"/><feColorMatrix in="t" type="matrix" values="0 0 0 0 0 0 0 0 0 0 0 0 0 0 0 -12 0 0 0 5.762" result="m"/><feComposite in="SourceGraphic" in2="m" operator="in"/></filter><filter id="f2_30_2" filterUnits="userSpaceOnUse" x="50" y="579" width="651" height="231" color-interpolation-filters="sRGB"><feTurbulence type="fractalNoise" baseFrequency="0.8 0.1" numOctaves="2" seed="265" result="t"/><feColorMatrix in="t" type="matrix" values="0 0 0 0 0 0 0 0 0 0 0 0 0 0 0 -12 0 0 0 5.762" result="m"/><feComposite in="SourceGraphic" in2="m" operator="in"/></filter><filter id="f2_33_14" filterUnits="userSpaceOnUse" x="50" y="579" width="651" height="231" color-interpolation-filters="sRGB"><feTurbulence type="fractalNoise" baseFrequency="0.9 0.4" numOctaves="2" seed="472" result="t"/><feColorMatrix in="t" type="matrix" values="0 0 0 0 0 0 0 0 0 0 0 0 0 0 0 -12 0 0 0 5.894" result="m"/><feComposite in="SourceGraphic" in2="m" operator="in"/></filter><filter id="f2_35_0" filterUnits="userSpaceOnUse" x="50" y="579" width="651" height="231" color-interpolation-filters="sRGB"><feTurbulence type="fractalNoise" baseFrequency="0.8 0.1" numOctaves="2" seed="236" result="t"/><feColorMatrix in="t" type="matrix" values="0 0 0 0 0 0 0 0 0 0 0 0 0 0 0 -12 0 0 0 5.982" result="m"/><feComposite in="SourceGraphic" in2="m" operator="in"/></filter><filter id="f2_35_2" filterUnits="userSpaceOnUse" x="50" y="579" width="651" height="231" color-interpolation-filters="sRGB"><feTurbulence type="fractalNoise" baseFrequency="0.8 0.1" numOctaves="2" seed="270" result="t"/><feColorMatrix in="t" type="matrix" values="0 0 0 0 0 0 0 0 0 0 0 0 0 0 0 -12 0 0 0 5.982" result="m"/><feComposite in="SourceGraphic" in2="m" operator="in"/></filter><filter id="f2_40_0" filterUnits="userSpaceOnUse" x="50" y="579" width="651" height="231" color-interpolation-filters="sRGB"><feTurbulence type="fractalNoise" baseFrequency="0.8 0.1" numOctaves="2" seed="241" result="t"/><feColorMatrix in="t" type="matrix" values="0 0 0 0 0 0 0 0 0 0 0 0 0 0 0 -12 0 0 0 6.161" result="m"/><feComposite in="SourceGraphic" in2="m" operator="in"/></filter><filter id="f2_40_2" filterUnits="userSpaceOnUse" x="50" y="579" width="651" height="231" color-interpolation-filters="sRGB"><feTurbulence type="fractalNoise" baseFrequency="0.8 0.1" numOctaves="2" seed="275" result="t"/><feColorMatrix in="t" type="matrix" values="0 0 0 0 0 0 0 0 0 0 0 0 0 0 0 -12 0 0 0 6.161" result="m"/><feComposite in="SourceGraphic" in2="m" operator="in"/></filter><filter id="f2_40_11" filterUnits="userSpaceOnUse" x="50" y="579" width="651" height="231" color-interpolation-filters="sRGB"><feTurbulence type="fractalNoise" baseFrequency="0.9 0.4" numOctaves="2" seed="428" result="t"/><feColorMatrix in="t" type="matrix" values="0 0 0 0 0 0 0 0 0 0 0 0 0 0 0 -12 0 0 0 6.161" result="m"/><feComposite in="SourceGraphic" in2="m" operator="in"/></filter><filter id="f2_45_0" filterUnits="userSpaceOnUse" x="50" y="579" width="651" height="231" color-interpolation-filters="sRGB"><feTurbulence type="fractalNoise" baseFrequency="0.8 0.1" numOctaves="2" seed="246" result="t"/><feColorMatrix in="t" type="matrix" values="0 0 0 0 0 0 0 0 0 0 0 0 0 0 0 -12 0 0 0 6.336" result="m"/><feComposite in="SourceGraphic" in2="m" operator="in"/></filter><filter id="f2_45_1" filterUnits="userSpaceOnUse" x="50" y="579" width="651" height="231" color-interpolation-filters="sRGB"><feTurbulence type="fractalNoise" baseFrequency="0.8 0.1" numOctaves="2" seed="263" result="t"/><feColorMatrix in="t" type="matrix" values="0 0 0 0 0 0 0 0 0 0 0 0 0 0 0 -12 0 0 0 6.336" result="m"/><feComposite in="SourceGraphic" in2="m" operator="in"/></filter><filter id="f2_45_2" filterUnits="userSpaceOnUse" x="50" y="579" width="651" height="231" color-interpolation-filters="sRGB"><feTurbulence type="fractalNoise" baseFrequency="0.8 0.1" numOctaves="2" seed="280" result="t"/><feColorMatrix in="t" type="matrix" values="0 0 0 0 0 0 0 0 0 0 0 0 0 0 0 -12 0 0 0 6.336" result="m"/><feComposite in="SourceGraphic" in2="m" operator="in"/></filter><filter id="f2_48_0" filterUnits="userSpaceOnUse" x="50" y="579" width="651" height="231" color-interpolation-filters="sRGB"><feTurbulence type="fractalNoise" baseFrequency="0.8 0.1" numOctaves="2" seed="249" result="t"/><feColorMatrix in="t" type="matrix" values="0 0 0 0 0 0 0 0 0 0 0 0 0 0 0 -12 0 0 0 6.441" result="m"/><feComposite in="SourceGraphic" in2="m" operator="in"/></filter><filter id="f2_50_0" filterUnits="userSpaceOnUse" x="50" y="579" width="651" height="231" color-interpolation-filters="sRGB"><feTurbulence type="fractalNoise" baseFrequency="0.8 0.1" numOctaves="2" seed="251" result="t"/><feColorMatrix in="t" type="matrix" values="0 0 0 0 0 0 0 0 0 0 0 0 0 0 0 -12 0 0 0 6.512" result="m"/><feComposite in="SourceGraphic" in2="m" operator="in"/></filter><filter id="f2_50_2" filterUnits="userSpaceOnUse" x="50" y="579" width="651" height="231" color-interpolation-filters="sRGB"><feTurbulence type="fractalNoise" baseFrequency="0.8 0.1" numOctaves="2" seed="285" result="t"/><feColorMatrix in="t" type="matrix" values="0 0 0 0 0 0 0 0 0 0 0 0 0 0 0 -12 0 0 0 6.512" result="m"/><feComposite in="SourceGraphic" in2="m" operator="in"/></filter><filter id="f2_55_0" filterUnits="userSpaceOnUse" x="50" y="579" width="651" height="231" color-interpolation-filters="sRGB"><feTurbulence type="fractalNoise" baseFrequency="0.8 0.1" numOctaves="2" seed="256" result="t"/><feColorMatrix in="t" type="matrix" values="0 0 0 0 0 0 0 0 0 0 0 0 0 0 0 -12 0 0 0 6.687" result="m"/><feComposite in="SourceGraphic" in2="m" operator="in"/></filter><filter id="f2_55_2" filterUnits="userSpaceOnUse" x="50" y="579" width="651" height="231" color-interpolation-filters="sRGB"><feTurbulence type="fractalNoise" baseFrequency="0.8 0.1" numOctaves="2" seed="290" result="t"/><feColorMatrix in="t" type="matrix" values="0 0 0 0 0 0 0 0 0 0 0 0 0 0 0 -12 0 0 0 6.687" result="m"/><feComposite in="SourceGraphic" in2="m" operator="in"/></filter><filter id="f2_60_0" filterUnits="userSpaceOnUse" x="50" y="579" width="651" height="231" color-interpolation-filters="sRGB"><feTurbulence type="fractalNoise" baseFrequency="0.8 0.1" numOctaves="2" seed="261" result="t"/><feColorMatrix in="t" type="matrix" values="0 0 0 0 0 0 0 0 0 0 0 0 0 0 0 -12 0 0 0 6.862" result="m"/><feComposite in="SourceGraphic" in2="m" operator="in"/></filter><filter id="f2_60_2" filterUnits="userSpaceOnUse" x="50" y="579" width="651" height="231" color-interpolation-filters="sRGB"><feTurbulence type="fractalNoise" baseFrequency="0.8 0.1" numOctaves="2" seed="295" result="t"/><feColorMatrix in="t" type="matrix" values="0 0 0 0 0 0 0 0 0 0 0 0 0 0 0 -12 0 0 0 6.862" result="m"/><feComposite in="SourceGraphic" in2="m" operator="in"/></filter><filter id="f2_60_10" filterUnits="userSpaceOnUse" x="50" y="579" width="651" height="231" color-interpolation-filters="sRGB"><feTurbulence type="fractalNoise" baseFrequency="0.9 0.4" numOctaves="2" seed="431" result="t"/><feColorMatrix in="t" type="matrix" values="0 0 0 0 0 0 0 0 0 0 0 0 0 0 0 -12 0 0 0 6.862" result="m"/><feComposite in="SourceGraphic" in2="m" operator="in"/></filter><filter id="f2_65_0" filterUnits="userSpaceOnUse" x="50" y="579" width="651" height="231" color-interpolation-filters="sRGB"><feTurbulence type="fractalNoise" baseFrequency="0.8 0.1" numOctaves="2" seed="266" result="t"/><feColorMatrix in="t" type="matrix" values="0 0 0 0 0 0 0 0 0 0 0 0 0 0 0 -12 0 0 0 7.052" result="m"/><feComposite in="SourceGraphic" in2="m" operator="in"/></filter><filter id="f2_65_2" filterUnits="userSpaceOnUse" x="50" y="579" width="651" height="231" color-interpolation-filters="sRGB"><feTurbulence type="fractalNoise" baseFrequency="0.8 0.1" numOctaves="2" seed="300" result="t"/><feColorMatrix in="t" type="matrix" values="0 0 0 0 0 0 0 0 0 0 0 0 0 0 0 -12 0 0 0 7.052" result="m"/><feComposite in="SourceGraphic" in2="m" operator="in"/></filter><filter id="f2_70_0" filterUnits="userSpaceOnUse" x="50" y="579" width="651" height="231" color-interpolation-filters="sRGB"><feTurbulence type="fractalNoise" baseFrequency="0.8 0.1" numOctaves="2" seed="271" result="t"/><feColorMatrix in="t" type="matrix" values="0 0 0 0 0 0 0 0 0 0 0 0 0 0 0 -12 0 0 0 7.261" result="m"/><feComposite in="SourceGraphic" in2="m" operator="in"/></filter><filter id="f2_70_2" filterUnits="userSpaceOnUse" x="50" y="579" width="651" height="231" color-interpolation-filters="sRGB"><feTurbulence type="fractalNoise" baseFrequency="0.8 0.1" numOctaves="2" seed="305" result="t"/><feColorMatrix in="t" type="matrix" values="0 0 0 0 0 0 0 0 0 0 0 0 0 0 0 -12 0 0 0 7.261" result="m"/><feComposite in="SourceGraphic" in2="m" operator="in"/></filter><filter id="f2_75_0" filterUnits="userSpaceOnUse" x="50" y="579" width="651" height="231" color-interpolation-filters="sRGB"><feTurbulence type="fractalNoise" baseFrequency="0.8 0.1" numOctaves="2" seed="276" result="t"/><feColorMatrix in="t" type="matrix" values="0 0 0 0 0 0 0 0 0 0 0 0 0 0 0 -12 0 0 0 7.480" result="m"/><feComposite in="SourceGraphic" in2="m" operator="in"/></filter><filter id="f2_75_2" filterUnits="userSpaceOnUse" x="50" y="579" width="651" height="231" color-interpolation-filters="sRGB"><feTurbulence type="fractalNoise" baseFrequency="0.8 0.1" numOctaves="2" seed="310" result="t"/><feColorMatrix in="t" type="matrix" values="0 0 0 0 0 0 0 0 0 0 0 0 0 0 0 -12 0 0 0 7.480" result="m"/><feComposite in="SourceGraphic" in2="m" operator="in"/></filter><filter id="f2_80_0" filterUnits="userSpaceOnUse" x="50" y="579" width="651" height="231" color-interpolation-filters="sRGB"><feTurbulence type="fractalNoise" baseFrequency="0.8 0.1" numOctaves="2" seed="281" result="t"/><feColorMatrix in="t" type="matrix" values="0 0 0 0 0 0 0 0 0 0 0 0 0 0 0 -12 0 0 0 7.766" result="m"/><feComposite in="SourceGraphic" in2="m" operator="in"/></filter><filter id="f2_80_2" filterUnits="userSpaceOnUse" x="50" y="579" width="651" height="231" color-interpolation-filters="sRGB"><feTurbulence type="fractalNoise" baseFrequency="0.8 0.1" numOctaves="2" seed="315" result="t"/><feColorMatrix in="t" type="matrix" values="0 0 0 0 0 0 0 0 0 0 0 0 0 0 0 -12 0 0 0 7.766" result="m"/><feComposite in="SourceGraphic" in2="m" operator="in"/></filter><filter id="f2_85_2" filterUnits="userSpaceOnUse" x="50" y="579" width="651" height="231" color-interpolation-filters="sRGB"><feTurbulence type="fractalNoise" baseFrequency="0.8 0.1" numOctaves="2" seed="320" result="t"/><feColorMatrix in="t" type="matrix" values="0 0 0 0 0 0 0 0 0 0 0 0 0 0 0 -12 0 0 0 8.069" result="m"/><feComposite in="SourceGraphic" in2="m" operator="in"/></filter><filter id="f2_88_2" filterUnits="userSpaceOnUse" x="50" y="579" width="651" height="231" color-interpolation-filters="sRGB"><feTurbulence type="fractalNoise" baseFrequency="0.8 0.1" numOctaves="2" seed="323" result="t"/><feColorMatrix in="t" type="matrix" values="0 0 0 0 0 0 0 0 0 0 0 0 0 0 0 -12 0 0 0 8.264" result="m"/><feComposite in="SourceGraphic" in2="m" operator="in"/></filter><filter id="f3_8_0" filterUnits="userSpaceOnUse" x="50" y="849" width="651" height="231" color-interpolation-filters="sRGB"><feTurbulence type="fractalNoise" baseFrequency="0.8 0.1" numOctaves="2" seed="309" result="t"/><feColorMatrix in="t" type="matrix" values="0 0 0 0 0 0 0 0 0 0 0 0 0 0 0 -12 0 0 0 4.464" result="m"/><feComposite in="SourceGraphic" in2="m" operator="in"/></filter><filter id="f3_10_0" filterUnits="userSpaceOnUse" x="50" y="849" width="651" height="231" color-interpolation-filters="sRGB"><feTurbulence type="fractalNoise" baseFrequency="0.8 0.1" numOctaves="2" seed="311" result="t"/><feColorMatrix in="t" type="matrix" values="0 0 0 0 0 0 0 0 0 0 0 0 0 0 0 -12 0 0 0 4.629" result="m"/><feComposite in="SourceGraphic" in2="m" operator="in"/></filter><filter id="f3_10_2" filterUnits="userSpaceOnUse" x="50" y="849" width="651" height="231" color-interpolation-filters="sRGB"><feTurbulence type="fractalNoise" baseFrequency="0.8 0.1" numOctaves="2" seed="345" result="t"/><feColorMatrix in="t" type="matrix" values="0 0 0 0 0 0 0 0 0 0 0 0 0 0 0 -12 0 0 0 4.629" result="m"/><feComposite in="SourceGraphic" in2="m" operator="in"/></filter><filter id="f3_10_10" filterUnits="userSpaceOnUse" x="50" y="849" width="651" height="231" color-interpolation-filters="sRGB"><feTurbulence type="fractalNoise" baseFrequency="0.9 0.4" numOctaves="2" seed="481" result="t"/><feColorMatrix in="t" type="matrix" values="0 0 0 0 0 0 0 0 0 0 0 0 0 0 0 -12 0 0 0 4.629" result="m"/><feComposite in="SourceGraphic" in2="m" operator="in"/></filter><filter id="f3_11_2" filterUnits="userSpaceOnUse" x="50" y="849" width="651" height="231" color-interpolation-filters="sRGB"><feTurbulence type="fractalNoise" baseFrequency="0.8 0.1" numOctaves="2" seed="346" result="t"/><feColorMatrix in="t" type="matrix" values="0 0 0 0 0 0 0 0 0 0 0 0 0 0 0 -12 0 0 0 4.686" result="m"/><feComposite in="SourceGraphic" in2="m" operator="in"/></filter><filter id="f3_12_0" filterUnits="userSpaceOnUse" x="50" y="849" width="651" height="231" color-interpolation-filters="sRGB"><feTurbulence type="fractalNoise" baseFrequency="0.8 0.1" numOctaves="2" seed="313" result="t"/><feColorMatrix in="t" type="matrix" values="0 0 0 0 0 0 0 0 0 0 0 0 0 0 0 -12 0 0 0 4.743" result="m"/><feComposite in="SourceGraphic" in2="m" operator="in"/></filter><filter id="f3_12_2" filterUnits="userSpaceOnUse" x="50" y="849" width="651" height="231" color-interpolation-filters="sRGB"><feTurbulence type="fractalNoise" baseFrequency="0.8 0.1" numOctaves="2" seed="347" result="t"/><feColorMatrix in="t" type="matrix" values="0 0 0 0 0 0 0 0 0 0 0 0 0 0 0 -12 0 0 0 4.743" result="m"/><feComposite in="SourceGraphic" in2="m" operator="in"/></filter><filter id="f3_14_0" filterUnits="userSpaceOnUse" x="50" y="849" width="651" height="231" color-interpolation-filters="sRGB"><feTurbulence type="fractalNoise" baseFrequency="0.8 0.1" numOctaves="2" seed="315" result="t"/><feColorMatrix in="t" type="matrix" values="0 0 0 0 0 0 0 0 0 0 0 0 0 0 0 -12 0 0 0 4.857" result="m"/><feComposite in="SourceGraphic" in2="m" operator="in"/></filter><filter id="f3_14_2" filterUnits="userSpaceOnUse" x="50" y="849" width="651" height="231" color-interpolation-filters="sRGB"><feTurbulence type="fractalNoise" baseFrequency="0.8 0.1" numOctaves="2" seed="349" result="t"/><feColorMatrix in="t" type="matrix" values="0 0 0 0 0 0 0 0 0 0 0 0 0 0 0 -12 0 0 0 4.857" result="m"/><feComposite in="SourceGraphic" in2="m" operator="in"/></filter><filter id="f3_15_0" filterUnits="userSpaceOnUse" x="50" y="849" width="651" height="231" color-interpolation-filters="sRGB"><feTurbulence type="fractalNoise" baseFrequency="0.8 0.1" numOctaves="2" seed="316" result="t"/><feColorMatrix in="t" type="matrix" values="0 0 0 0 0 0 0 0 0 0 0 0 0 0 0 -12 0 0 0 4.914" result="m"/><feComposite in="SourceGraphic" in2="m" operator="in"/></filter><filter id="f3_15_2" filterUnits="userSpaceOnUse" x="50" y="849" width="651" height="231" color-interpolation-filters="sRGB"><feTurbulence type="fractalNoise" baseFrequency="0.8 0.1" numOctaves="2" seed="350" result="t"/><feColorMatrix in="t" type="matrix" values="0 0 0 0 0 0 0 0 0 0 0 0 0 0 0 -12 0 0 0 4.914" result="m"/><feComposite in="SourceGraphic" in2="m" operator="in"/></filter><filter id="f3_18_0" filterUnits="userSpaceOnUse" x="50" y="849" width="651" height="231" color-interpolation-filters="sRGB"><feTurbulence type="fractalNoise" baseFrequency="0.8 0.1" numOctaves="2" seed="319" result="t"/><feColorMatrix in="t" type="matrix" values="0 0 0 0 0 0 0 0 0 0 0 0 0 0 0 -12 0 0 0 5.093" result="m"/><feComposite in="SourceGraphic" in2="m" operator="in"/></filter><filter id="f3_18_2" filterUnits="userSpaceOnUse" x="50" y="849" width="651" height="231" color-interpolation-filters="sRGB"><feTurbulence type="fractalNoise" baseFrequency="0.8 0.1" numOctaves="2" seed="353" result="t"/><feColorMatrix in="t" type="matrix" values="0 0 0 0 0 0 0 0 0 0 0 0 0 0 0 -12 0 0 0 5.093" result="m"/><feComposite in="SourceGraphic" in2="m" operator="in"/></filter><filter id="f3_20_0" filterUnits="userSpaceOnUse" x="50" y="849" width="651" height="231" color-interpolation-filters="sRGB"><feTurbulence type="fractalNoise" baseFrequency="0.8 0.1" numOctaves="2" seed="321" result="t"/><feColorMatrix in="t" type="matrix" values="0 0 0 0 0 0 0 0 0 0 0 0 0 0 0 -12 0 0 0 5.224" result="m"/><feComposite in="SourceGraphic" in2="m" operator="in"/></filter><filter id="f3_20_2" filterUnits="userSpaceOnUse" x="50" y="849" width="651" height="231" color-interpolation-filters="sRGB"><feTurbulence type="fractalNoise" baseFrequency="0.8 0.1" numOctaves="2" seed="355" result="t"/><feColorMatrix in="t" type="matrix" values="0 0 0 0 0 0 0 0 0 0 0 0 0 0 0 -12 0 0 0 5.224" result="m"/><feComposite in="SourceGraphic" in2="m" operator="in"/></filter><filter id="f3_22_0" filterUnits="userSpaceOnUse" x="50" y="849" width="651" height="231" color-interpolation-filters="sRGB"><feTurbulence type="fractalNoise" baseFrequency="0.8 0.1" numOctaves="2" seed="323" result="t"/><feColorMatrix in="t" type="matrix" values="0 0 0 0 0 0 0 0 0 0 0 0 0 0 0 -12 0 0 0 5.356" result="m"/><feComposite in="SourceGraphic" in2="m" operator="in"/></filter><filter id="f3_22_2" filterUnits="userSpaceOnUse" x="50" y="849" width="651" height="231" color-interpolation-filters="sRGB"><feTurbulence type="fractalNoise" baseFrequency="0.8 0.1" numOctaves="2" seed="357" result="t"/><feColorMatrix in="t" type="matrix" values="0 0 0 0 0 0 0 0 0 0 0 0 0 0 0 -12 0 0 0 5.356" result="m"/><feComposite in="SourceGraphic" in2="m" operator="in"/></filter><filter id="f3_25_0" filterUnits="userSpaceOnUse" x="50" y="849" width="651" height="231" color-interpolation-filters="sRGB"><feTurbulence type="fractalNoise" baseFrequency="0.8 0.1" numOctaves="2" seed="326" result="t"/><feColorMatrix in="t" type="matrix" values="0 0 0 0 0 0 0 0 0 0 0 0 0 0 0 -12 0 0 0 5.542" result="m"/><feComposite in="SourceGraphic" in2="m" operator="in"/></filter><filter id="f3_25_2" filterUnits="userSpaceOnUse" x="50" y="849" width="651" height="231" color-interpolation-filters="sRGB"><feTurbulence type="fractalNoise" baseFrequency="0.8 0.1" numOctaves="2" seed="360" result="t"/><feColorMatrix in="t" type="matrix" values="0 0 0 0 0 0 0 0 0 0 0 0 0 0 0 -12 0 0 0 5.542" result="m"/><feComposite in="SourceGraphic" in2="m" operator="in"/></filter><filter id="f3_30_0" filterUnits="userSpaceOnUse" x="50" y="849" width="651" height="231" color-interpolation-filters="sRGB"><feTurbulence type="fractalNoise" baseFrequency="0.8 0.1" numOctaves="2" seed="331" result="t"/><feColorMatrix in="t" type="matrix" values="0 0 0 0 0 0 0 0 0 0 0 0 0 0 0 -12 0 0 0 5.762" result="m"/><feComposite in="SourceGraphic" in2="m" operator="in"/></filter><filter id="f3_30_2" filterUnits="userSpaceOnUse" x="50" y="849" width="651" height="231" color-interpolation-filters="sRGB"><feTurbulence type="fractalNoise" baseFrequency="0.8 0.1" numOctaves="2" seed="365" result="t"/><feColorMatrix in="t" type="matrix" values="0 0 0 0 0 0 0 0 0 0 0 0 0 0 0 -12 0 0 0 5.762" result="m"/><feComposite in="SourceGraphic" in2="m" operator="in"/></filter><filter id="f3_30_11" filterUnits="userSpaceOnUse" x="50" y="849" width="651" height="231" color-interpolation-filters="sRGB"><feTurbulence type="fractalNoise" baseFrequency="0.9 0.4" numOctaves="2" seed="518" result="t"/><feColorMatrix in="t" type="matrix" values="0 0 0 0 0 0 0 0 0 0 0 0 0 0 0 -12 0 0 0 5.762" result="m"/><feComposite in="SourceGraphic" in2="m" operator="in"/></filter><filter id="f3_35_0" filterUnits="userSpaceOnUse" x="50" y="849" width="651" height="231" color-interpolation-filters="sRGB"><feTurbulence type="fractalNoise" baseFrequency="0.8 0.1" numOctaves="2" seed="336" result="t"/><feColorMatrix in="t" type="matrix" values="0 0 0 0 0 0 0 0 0 0 0 0 0 0 0 -12 0 0 0 5.982" result="m"/><feComposite in="SourceGraphic" in2="m" operator="in"/></filter><filter id="f3_35_2" filterUnits="userSpaceOnUse" x="50" y="849" width="651" height="231" color-interpolation-filters="sRGB"><feTurbulence type="fractalNoise" baseFrequency="0.8 0.1" numOctaves="2" seed="370" result="t"/><feColorMatrix in="t" type="matrix" values="0 0 0 0 0 0 0 0 0 0 0 0 0 0 0 -12 0 0 0 5.982" result="m"/><feComposite in="SourceGraphic" in2="m" operator="in"/></filter><filter id="f3_35_12" filterUnits="userSpaceOnUse" x="50" y="849" width="651" height="231" color-interpolation-filters="sRGB"><feTurbulence type="fractalNoise" baseFrequency="0.9 0.4" numOctaves="2" seed="540" result="t"/><feColorMatrix in="t" type="matrix" values="0 0 0 0 0 0 0 0 0 0 0 0 0 0 0 -12 0 0 0 5.982" result="m"/><feComposite in="SourceGraphic" in2="m" operator="in"/></filter><filter id="f3_40_0" filterUnits="userSpaceOnUse" x="50" y="849" width="651" height="231" color-interpolation-filters="sRGB"><feTurbulence type="fractalNoise" baseFrequency="0.8 0.1" numOctaves="2" seed="341" result="t"/><feColorMatrix in="t" type="matrix" values="0 0 0 0 0 0 0 0 0 0 0 0 0 0 0 -12 0 0 0 6.161" result="m"/><feComposite in="SourceGraphic" in2="m" operator="in"/></filter><filter id="f3_40_2" filterUnits="userSpaceOnUse" x="50" y="849" width="651" height="231" color-interpolation-filters="sRGB"><feTurbulence type="fractalNoise" baseFrequency="0.8 0.1" numOctaves="2" seed="375" result="t"/><feColorMatrix in="t" type="matrix" values="0 0 0 0 0 0 0 0 0 0 0 0 0 0 0 -12 0 0 0 6.161" result="m"/><feComposite in="SourceGraphic" in2="m" operator="in"/></filter><filter id="f3_40_13" filterUnits="userSpaceOnUse" x="50" y="849" width="651" height="231" color-interpolation-filters="sRGB"><feTurbulence type="fractalNoise" baseFrequency="0.9 0.4" numOctaves="2" seed="562" result="t"/><feColorMatrix in="t" type="matrix" values="0 0 0 0 0 0 0 0 0 0 0 0 0 0 0 -12 0 0 0 6.161" result="m"/><feComposite in="SourceGraphic" in2="m" operator="in"/></filter><filter id="f3_45_0" filterUnits="userSpaceOnUse" x="50" y="849" width="651" height="231" color-interpolation-filters="sRGB"><feTurbulence type="fractalNoise" baseFrequency="0.8 0.1" numOctaves="2" seed="346" result="t"/><feColorMatrix in="t" type="matrix" values="0 0 0 0 0 0 0 0 0 0 0 0 0 0 0 -12 0 0 0 6.336" result="m"/><feComposite in="SourceGraphic" in2="m" operator="in"/></filter><filter id="f3_45_2" filterUnits="userSpaceOnUse" x="50" y="849" width="651" height="231" color-interpolation-filters="sRGB"><feTurbulence type="fractalNoise" baseFrequency="0.8 0.1" numOctaves="2" seed="380" result="t"/><feColorMatrix in="t" type="matrix" values="0 0 0 0 0 0 0 0 0 0 0 0 0 0 0 -12 0 0 0 6.336" result="m"/><feComposite in="SourceGraphic" in2="m" operator="in"/></filter><filter id="f3_50_0" filterUnits="userSpaceOnUse" x="50" y="849" width="651" height="231" color-interpolation-filters="sRGB"><feTurbulence type="fractalNoise" baseFrequency="0.8 0.1" numOctaves="2" seed="351" result="t"/><feColorMatrix in="t" type="matrix" values="0 0 0 0 0 0 0 0 0 0 0 0 0 0 0 -12 0 0 0 6.512" result="m"/><feComposite in="SourceGraphic" in2="m" operator="in"/></filter><filter id="f3_50_2" filterUnits="userSpaceOnUse" x="50" y="849" width="651" height="231" color-interpolation-filters="sRGB"><feTurbulence type="fractalNoise" baseFrequency="0.8 0.1" numOctaves="2" seed="385" result="t"/><feColorMatrix in="t" type="matrix" values="0 0 0 0 0 0 0 0 0 0 0 0 0 0 0 -12 0 0 0 6.512" result="m"/><feComposite in="SourceGraphic" in2="m" operator="in"/></filter><filter id="f3_55_0" filterUnits="userSpaceOnUse" x="50" y="849" width="651" height="231" color-interpolation-filters="sRGB"><feTurbulence type="fractalNoise" baseFrequency="0.8 0.1" numOctaves="2" seed="356" result="t"/><feColorMatrix in="t" type="matrix" values="0 0 0 0 0 0 0 0 0 0 0 0 0 0 0 -12 0 0 0 6.687" result="m"/><feComposite in="SourceGraphic" in2="m" operator="in"/></filter><filter id="f3_55_2" filterUnits="userSpaceOnUse" x="50" y="849" width="651" height="231" color-interpolation-filters="sRGB"><feTurbulence type="fractalNoise" baseFrequency="0.8 0.1" numOctaves="2" seed="390" result="t"/><feColorMatrix in="t" type="matrix" values="0 0 0 0 0 0 0 0 0 0 0 0 0 0 0 -12 0 0 0 6.687" result="m"/><feComposite in="SourceGraphic" in2="m" operator="in"/></filter><filter id="f3_60_0" filterUnits="userSpaceOnUse" x="50" y="849" width="651" height="231" color-interpolation-filters="sRGB"><feTurbulence type="fractalNoise" baseFrequency="0.8 0.1" numOctaves="2" seed="361" result="t"/><feColorMatrix in="t" type="matrix" values="0 0 0 0 0 0 0 0 0 0 0 0 0 0 0 -12 0 0 0 6.862" result="m"/><feComposite in="SourceGraphic" in2="m" operator="in"/></filter><filter id="f3_60_1" filterUnits="userSpaceOnUse" x="50" y="849" width="651" height="231" color-interpolation-filters="sRGB"><feTurbulence type="fractalNoise" baseFrequency="0.8 0.1" numOctaves="2" seed="378" result="t"/><feColorMatrix in="t" type="matrix" values="0 0 0 0 0 0 0 0 0 0 0 0 0 0 0 -12 0 0 0 6.862" result="m"/><feComposite in="SourceGraphic" in2="m" operator="in"/></filter><filter id="f3_60_2" filterUnits="userSpaceOnUse" x="50" y="849" width="651" height="231" color-interpolation-filters="sRGB"><feTurbulence type="fractalNoise" baseFrequency="0.8 0.1" numOctaves="2" seed="395" result="t"/><feColorMatrix in="t" type="matrix" values="0 0 0 0 0 0 0 0 0 0 0 0 0 0 0 -12 0 0 0 6.862" result="m"/><feComposite in="SourceGraphic" in2="m" operator="in"/></filter><filter id="f3_65_2" filterUnits="userSpaceOnUse" x="50" y="849" width="651" height="231" color-interpolation-filters="sRGB"><feTurbulence type="fractalNoise" baseFrequency="0.8 0.1" numOctaves="2" seed="400" result="t"/><feColorMatrix in="t" type="matrix" values="0 0 0 0 0 0 0 0 0 0 0 0 0 0 0 -12 0 0 0 7.052" result="m"/><feComposite in="SourceGraphic" in2="m" operator="in"/></filter><filter id="f3_68_2" filterUnits="userSpaceOnUse" x="50" y="849" width="651" height="231" color-interpolation-filters="sRGB"><feTurbulence type="fractalNoise" baseFrequency="0.8 0.1" numOctaves="2" seed="403" result="t"/><feColorMatrix in="t" type="matrix" values="0 0 0 0 0 0 0 0 0 0 0 0 0 0 0 -12 0 0 0 7.177" result="m"/><feComposite in="SourceGraphic" in2="m" operator="in"/></filter><filter id="f3_70_0" filterUnits="userSpaceOnUse" x="50" y="849" width="651" height="231" color-interpolation-filters="sRGB"><feTurbulence type="fractalNoise" baseFrequency="0.8 0.1" numOctaves="2" seed="371" result="t"/><feColorMatrix in="t" type="matrix" values="0 0 0 0 0 0 0 0 0 0 0 0 0 0 0 -12 0 0 0 7.261" result="m"/><feComposite in="SourceGraphic" in2="m" operator="in"/></filter><filter id="f3_70_2" filterUnits="userSpaceOnUse" x="50" y="849" width="651" height="231" color-interpolation-filters="sRGB"><feTurbulence type="fractalNoise" baseFrequency="0.8 0.1" numOctaves="2" seed="405" result="t"/><feColorMatrix in="t" type="matrix" values="0 0 0 0 0 0 0 0 0 0 0 0 0 0 0 -12 0 0 0 7.261" result="m"/><feComposite in="SourceGraphic" in2="m" operator="in"/></filter><filter id="f3_75_2" filterUnits="userSpaceOnUse" x="50" y="849" width="651" height="231" color-interpolation-filters="sRGB"><feTurbulence type="fractalNoise" baseFrequency="0.8 0.1" numOctaves="2" seed="410" result="t"/><feColorMatrix in="t" type="matrix" values="0 0 0 0 0 0 0 0 0 0 0 0 0 0 0 -12 0 0 0 7.480" result="m"/><feComposite in="SourceGraphic" in2="m" operator="in"/></filter><filter id="f3_80_0" filterUnits="userSpaceOnUse" x="50" y="849" width="651" height="231" color-interpolation-filters="sRGB"><feTurbulence type="fractalNoise" baseFrequency="0.8 0.1" numOctaves="2" seed="381" result="t"/><feColorMatrix in="t" type="matrix" values="0 0 0 0 0 0 0 0 0 0 0 0 0 0 0 -12 0 0 0 7.766" result="m"/><feComposite in="SourceGraphic" in2="m" operator="in"/></filter><filter id="f3_80_1" filterUnits="userSpaceOnUse" x="50" y="849" width="651" height="231" color-interpolation-filters="sRGB"><feTurbulence type="fractalNoise" baseFrequency="0.8 0.1" numOctaves="2" seed="398" result="t"/><feColorMatrix in="t" type="matrix" values="0 0 0 0 0 0 0 0 0 0 0 0 0 0 0 -12 0 0 0 7.766" result="m"/><feComposite in="SourceGraphic" in2="m" operator="in"/></filter><filter id="f3_85_0" filterUnits="userSpaceOnUse" x="50" y="849" width="651" height="231" color-interpolation-filters="sRGB"><feTurbulence type="fractalNoise" baseFrequency="0.8 0.1" numOctaves="2" seed="386" result="t"/><feColorMatrix in="t" type="matrix" values="0 0 0 0 0 0 0 0 0 0 0 0 0 0 0 -12 0 0 0 8.069" result="m"/><feComposite in="SourceGraphic" in2="m" operator="in"/></filter><filter id="f3_90_2" filterUnits="userSpaceOnUse" x="50" y="849" width="651" height="231" color-interpolation-filters="sRGB"><feTurbulence type="fractalNoise" baseFrequency="0.8 0.1" numOctaves="2" seed="425" result="t"/><feColorMatrix in="t" type="matrix" values="0 0 0 0 0 0 0 0 0 0 0 0 0 0 0 -12 0 0 0 8.394" result="m"/><feComposite in="SourceGraphic" in2="m" operator="in"/></filter><filter id="f3_92_0" filterUnits="userSpaceOnUse" x="50" y="849" width="651" height="231" color-interpolation-filters="sRGB"><feTurbulence type="fractalNoise" baseFrequency="0.8 0.1" numOctaves="2" seed="393" result="t"/><feColorMatrix in="t" type="matrix" values="0 0 0 0 0 0 0 0 0 0 0 0 0 0 0 -12 0 0 0 8.611" result="m"/><feComposite in="SourceGraphic" in2="m" operator="in"/></filter><path id="s0" d="M50 88L57 86L66 85L80 84L92 88L100 91L117 94L126 96V115L117 120L112 128L104 127L100 122L96 114L92 117L85 120L75 118L66 110L60 107L57 110L50 112Z"/><path id="s1" d="M130 100L134 97L139 99L140 120L139 137L134 136L131 125Z"/><path id="s2" d="M158 92L165 90L172 98L182 100V132L176 130L172 128L166 138L160 130L158 120Z"/><path id="s3" d="M245 102L255 100L265 98L272 99L279 102V118L272 123L262 125L255 122L248 120L245 110Z"/><path id="s4" d="M392 525H393V522H394V520H395H396V522H397V512H398V518H399V520.5H400V519H401V515.5H402V521H403H404V518H405V519.5H406V516H407V520.5H408V517H409V517.5H410V521H411V518H412V514.5H413H414V513.5H415V519H416V520.5H417V518.5H418H419V520.5H420V522H421V518H422V520.5H423V516H424V516.5H425V518H426V519.5H427V518H428V516H429V519H430V520.5H431V515H432V515.5H433V519.5H434V520.5H435V511.5H436V519H437V518H438V522H439V521H440V517H441V520.5H442V511.5H443V520H444V520.5H445V519.5H446H447V513H448V520.5H449V513.5H450V520H451V518H452V518.5H453V517.5H454V517H455V520.5H456V521H457V517.5H458V515H459V520H460V517.5H461V518.5H462V514.5H463V519.5H464H465V518.5H466V515H467H468V518H469V515H470V519H471V519.5H472V516.5H473V515H474H475V516H476V516.5H477V521.5H478V517.5H479V519H480V517.5H481V515.5H482V518.5H483V519.5H484H485V521H486H487V520H488V518H489V520H490V521H491V519.5H492V518.5H493V519H494V518.5H495V517.5H496V520.5H497V517.5H498V518.5H499V514H500V517H501V518.5H502V522.5H503V522H504V517.5H505V514H506V517H507V520.5H508V516H509V521.5H510V520H511V522H512V520H513H514V519.5H515V518H516V520H517H518V513H519V518.5H520V521.5H521V518H522V517H523V513H524V509H525V516H526V514H527V511.5H528V514H529V505.5H530V511H531V515H532V514H533V514.5H534V513H535V515H536V509H537V515H538V506H539V507H540V510H541V509H542V509.5H543V512.5H544V513.5H545V512H546V513H547V512.5H548V511.5H549V505.5H550V514H551V513.5H552V508H553V515H554V519.5H555V518H556V517H557H558V515H559V515.5H560V518.5H561V511.5H562V516.5H563V515.5H564V516H565V511H566V520.5H567V520H568V517H569V518.5H570V515.5H571V513.5H572V516.5H573H574V518H575V516H576V515H577V512H578V517H579V518.5H580V513H581H582V511.5H583V518H584V512.5H585V517H586V515H587V510H588V513.5H589V519.5H590V515.5H591V519.5H592V518H593V516H594V520H595V521H596V517.5H597V520H598V518.5H599V520.5H600V518H601V521H602V518H603V514.5H604V513.5H605V511.5H606V519H607V516H608V521H609V517H610V511H611V516.5H612V517.5H613V518.5H614V520.5H615V519H616V517.5H617V514.5H618V516H619V520H620V516.5H621V520.5H622V517H623V518H624V522H625V514.5H626V521H627V522.5H628V521.5H629V518H630V519.5H631V518H632V522.5H633V521H634V520H635V523H636H637V519H638V521.5H639V514.5H640V519.5H641V518.5H642V520.5H643V521.5H644V516H645V521H646V516.5H647V523H648V519.5H649V522H650V515.5H651V521.5H652V517.5H653V522.5H654H655V521.5H656V518.5H657V520.5H658H659H660V518H661V525H662V524.5H663V524H664V523H665V522H666V523.5H667V516H668V516.5H669V516H670V520.5H671V517.5H672V524H673H674V522.5H675V518.5H676V524H677V523.5H678V522H679V523H680V525.5H681V521.5H682V522.5H683V519.5H684V525H685V521.5H686V520.5H687V518H688V521H689V521.5H690V521H691V517.5H692V521H693V525H694V523.5H695V525H696V519.5H697V522.5H698V524H699V524.5H700V537H699H698H697H696H695H694H693H692H691H690H689H688H687H686H685H684H683H682H681H680H679H678H677H676H675H674H673H672H671H670H669H668H667H666H665H664H663H662H661H660H659H658H657H656H655H654H653H652H651H650H649H648H647H646H645H644H643H642H641H640H639H638H637H636H635H634H633H632H631H630H629H628H627H626H625H624H623H622H621H620H619H618H617H616H615H614H613H612H611H610H609H608H607H606H605H604H603H602H601H600H599H598H597H596H595H594H593H592H591H590H589H588H587H586H585H584H583H582H581H580H579H578H577H576H575H574H573H572H571H570H569H568H567H566H565H564H563H562H561H560H559H558H557H556H555H554H553H552H551H550H549H548H547H546H545H544H543H542H541H540H539H538H537H536H535H534H533H532H531H530H529H528H527H526H525H524H523H522H521H520H519H518H517H516H515H514H513H512H511H510H509H508H507H506H505H504H503H502H501H500H499H498H497H496H495H494H493H492H491H490H489H488H487H486H485H484H483H482H481H480H479H478H477H476H475H474H473H472H471H470H469H468H467H466H465H464H463H462H461H460H459H458H457H456H455H454H453H452H451H450H449H448H447H446H445H444H443H442H441H440H439H438H437H436H435H434H433H432H431H430H429H428H427H426H425H424H423H422H421H420H419H418H417H416H415H414H413H412H411H410H409H408H407H406H405H404H403H402H401H400H399H398H397H396H395H394H393H392Z"/><path id="s5" d="M284 794.5H285V794H286V789H287V794H288V785.5H289V787H290V788H291V791H292V786.5H293V793H294V789H295V791.5H296V790H297V783H298V793H299V785.5H300V785H301V794.5H302V776.5H303V787.5H304V785.5H305V790.5H306V785H307V773H308V788.5H309V776.5H310V773H311V769.5H312V776H313V784.5H314V787H315V786.5H316V787.5H317V774H318V778H319V792H320V791.5H321V794.5H322V777H323V794.5H324V788H325V792H326V791.5H327V769H328V785.5H329V779.5H330V773H331V783H332V773.5H333V772.5H334V777H335H336V759.5H337V768H338V784H339V756H340V760H341V753H342V769H343V780H344V784.5H345V773.5H346V790.5H347V768.5H348V769.5H349V761H350V789.5H351V776H352V777.5H353V776H354V783.5H355V795H356V770.5H357V777.5H358V794H359V786H360V808H284Z"/><path id="s6" d="M360 791.5H361V796H362V796.5H363V792H364V797H365V797.5H366V796H367H368V794H369V797H370V797.5H371V788.5H372V797.5H373V795H374V798H375V799H376V795H377V796H378V797H379V796H380H381V797.5H382V794.5H383V792H384V798.5H385V795.5H386H387V796.5H388V789H389V792H390V789H391V787.5H392V788.5H393V796H394V793.5H395V796H396V793.5H397V789.5H398V795H399V790.5H400V785.5H401V792.5H402V785H403H404V789.5H405H406V794H407V792.5H408V789H409V794H410V790H411V786.5H412V788H413V791.5H414V791H415V786.5H416V784H417V794.5H418V790H419V784H420V793.5H421V790.5H422V790H423V791H424V786H425V789.5H426V794H427V784.5H428V791H429V790H430H431V788H432V790.5H433V787.5H434V790H435V793.5H436V792.5H437V789.5H438V785H439V793H440V791.5H441V789H442V792H443V789H444V790H445H446V792.5H447V791.5H448V793.5H449V793H450H451V785.5H452V784H453V793H454V793.5H455V794H456V789H457V785.5H458V787.5H459V791H460V788H461V786H462V792H463V791.5H464V790H465V791H466V792.5H467V790.5H468H469V791.5H470V789.5H471V787.5H472V790.5H473V789H474V792H475V791.5H476V790.5H477V782.5H478V789.5H479V787.5H480V791H481V786.5H482V789H483V792.5H484V791.5H485V791H486V794.5H487V785.5H488V789.5H489V785.5H490V791H491H492V783.5H493V786.5H494V789H495V793H496V792H497V793H498V789.5H499V791.5H500H501H502V784H503V787H504V790.5H505H506V794.5H507V792H508V793H509H510V789.5H511V792H512V789.5H513V789H514V786H515V791H516V792H517V787.5H518V790.5H519V791.5H520V792H521V788H522V785H523V786.5H524V791H525V785H526V790.5H527V784.5H528V789.5H529V784.5H530V788H531V785.5H532V788.5H533V787.5H534V786.5H535V781H536V786H537V784.5H538V785.5H539V783H540V790.5H541V788H542V787H543V783.5H544V789H545V789.5H546V785H547V782H548V788H549V784.5H550V789.5H551V787.5H552H553V791H554H555V789H556V791H557V790.5H558V784H559V791.5H560V788H561V792H562V785.5H563V793H564H565V790.5H566V788H567V789H568V791.5H569V792H570V791.5H571V791H572V789H573H574V783.5H575V789.5H576V792H577V793H578V794H579V789.5H580V789H581V792.5H582V790H583V785.5H584V793H585V791.5H586V792.5H587V791.5H588V791H589V793.5H590V784.5H591V782.5H592V791.5H593V788H594V791.5H595V793H596V790H597V787.5H598V789.5H599V790H600V790.5H601V785H602V787.5H603V789.5H604V792H605V790.5H606V789.5H607V789H608V790H609V794.5H610V788.5H611V791H612V793.5H613V791.5H614V786H615V791H616V792H617V788H618V788.5H619V791.5H620V790H621V792H622V790.5H623V792H624V790H625V793H626V791.5H627V785H628V792.5H629V793H630V790H631V793H632V790.5H633V791.5H634V794.5H635H636V794H637V793H638V792H639V791H640V790H641V794.5H642V793H643V795.5H644V793.5H645V788H646V794H647V792H648V793H649V790.5H650V788.5H651V793.5H652V789.5H653V789H654V791.5H655V792.5H656V794H657V793.5H658V791.5H659V795H660V794.5H661V792.5H662V794.5H663V791.5H664V795H665V789H666V795H667V790.5H668V793.5H669V790H670V793.5H671V796.5H672V793.5H673V792H674V796H675V794H676V795.5H677V794.5H678V793H679V797H680V793H681V787.5H682V790H683V793H684V789H685V794.5H686V789.5H687V795H688V793.5H689V792H690V792.5H691V793.5H692V796.5H693V793H694V789H695V796.5H696V797.5H697V795H698V797.5H699V793.5H700V808H699H698H697H696H695H694H693H692H691H690H689H688H687H686H685H684H683H682H681H680H679H678H677H676H675H674H673H672H671H670H669H668H667H666H665H664H663H662H661H660H659H658H657H656H655H654H653H652H651H650H649H648H647H646H645H644H643H642H641H640H639H638H637H636H635H634H633H632H631H630H629H628H627H626H625H624H623H622H621H620H619H618H617H616H615H614H613H612H611H610H609H608H607H606H605H604H603H602H601H600H599H598H597H596H595H594H593H592H591H590H589H588H587H586H585H584H583H582H581H580H579H578H577H576H575H574H573H572H571H570H569H568H567H566H565H564H563H562H561H560H559H558H557H556H555H554H553H552H551H550H549H548H547H546H545H544H543H542H541H540H539H538H537H536H535H534H533H532H531H530H529H528H527H526H525H524H523H522H521H520H519H518H517H516H515H514H513H512H511H510H509H508H507H506H505H504H503H502H501H500H499H498H497H496H495H494H493H492H491H490H489H488H487H486H485H484H483H482H481H480H479H478H477H476H475H474H473H472H471H470H469H468H467H466H465H464H463H462H461H460H459H458H457H456H455H454H453H452H451H450H449H448H447H446H445H444H443H442H441H440H439H438H437H436H435H434H433H432H431H430H429H428H427H426H425H424H423H422H421H420H419H418H417H416H415H414H413H412H411H410H409H408H407H406H405H404H403H402H401H400H399H398H397H396H395H394H393H392H391H390H389H388H387H386H385H384H383H382H381H380H379H378H377H376H375H374H373H372H371H370H369H368H367H366H365H364H363H362H361H360Z"/><path id="s7" d="M360 795.5H362V797H364V796H366H368V797.5H370V795H372V795.5H374V796.5H376V796H378V794.5H380V795.5H382V797.5H384V795H386H388V795.5H390V796.5H392V795H394V796H396V797H398V795H400V797.5H402V795.5H404H406V795H408H410H412V796.5H414V795.5H416H418H420V796.5H422V794.5H424V796.5H426H428V797H430H432H434V795H436H438V796.5H440V797H442V795.5H444V796.5H446H448V797H450V795H452V797.5H454V796.5H456V797.5H458V796H460H462V797H464V797.5H466V797H468V797.5H470V796.5H472V795.5H474V795H476V796H478V797H480H482V796.5H484V795.5H486V797.5H488V795.5H490V795H492V796H494H496V797H498V796.5H500V797H502H504V795H506V797H508V795.5H510V796.5H512V796H514V798H516V797H518V795.5H520V797H522V795H524V796.5H526V795.5H528V795H530V796.5H532H534V798H536V795.5H538V797H540V797.5H542H544H546V795.5H548V798H550V795.5H552V796H554V797H556V796.5H558V798H560V796.5H562V795.5H564V798H566V795H568V798H570V796.5H572V795H574V797.5H576V797H578V795.5H580V797.5H582V795.5H584V796.5H586V797.5H588V797H590V798H592V797H594V795.5H596V796.5H598V797.5H600V796H602H604V795.5H606V796.5H608V796H610V798H612H614H616H618V795.5H620H622H624V798H626V796H628V797.5H630H632V798H634V795.5H636V796H638H640V797.5H642V796H644V795.5H646V798.5H648V797.5H650V796.5H652V795.5H654V798H656V797H658H660V798H662V797H664V798H666V796H668V797H670H672V798H674H676V797.5H678V798.5H680V797H682V796.5H684V798H686V796.5H688V795.5H690V797H692V797.5H694H696V798.5H698V796H700V806H698H696H694H692H690H688H686H684H682H680H678H676H674H672H670H668H666H664H662H660H658H656H654H652H650H648H646H644H642H640H638H636H634H632H630H628H626H624H622H620H618H616H614H612H610H608H606H604H602H600H598H596H594H592H590H588H586H584H582H580H578H576H574H572H570H568H566H564H562H560H558H556H554H552H550H548H546H544H542H540H538H536H534H532H530H528H526H524H522H520H518H516H514H512H510H508H506H504H502H500H498H496H494H492H490H488H486H484H482H480H478H476H474H472H470H468H466H464H462H460H458H456H454H452H450H448H446H444H442H440H438H436H434H432H430H428H426H424H422H420H418H416H414H412H410H408H406H404H402H400H398H396H394H392H390H388H386H384H382H380H378H376H374H372H370H368H366H364H362H360Z"/><path id="s8" d="M50 898L57 896L66 895L80 894L92 898L100 901L117 904L126 906V925L117 930L112 938L104 937L100 932L96 924L92 927L85 930L75 928L66 920L60 917L57 920L50 922Z"/><path id="s9" d="M130 910L134 907L139 909L140 930L139 947L134 946L131 935Z"/><path id="s10" d="M158 902L165 900L172 908L182 910V942L176 940L172 938L166 948L160 940L158 930Z"/><path id="s11" d="M193 905L201 906L210 909V950L203 955H199L193 940Z"/><path id="s12" d="M245 912L255 910L265 908L272 909L279 912V928L272 933L262 935L255 932L248 930L245 920Z"/><path id="s13" d="M209 908L216 905L224 906L228 905L232 906V985L229 986L226 975L225 1006L222 1007L221 992H219L217 988L212 986L210 960L209 930Z"/><path id="s14" d="M232 906H240L244 910L243 930L247 950L252 975L253 1010V1026L244 1028L242 1010L235 995L230 980L232 940Z"/><path id="s15" d="M51 1064.5H53V1064H55V1065.5H57H59V1065H61V1064H63V1064.5H65V1063.5H67H69V1065.5H71V1063.5H73V1066H75V1065H77V1065.5H79V1064H81V1066H83V1064.5H85V1065.5H87V1064.5H89V1065H91V1063.5H93V1065.5H95V1066H97V1065H99H101H103V1064H105V1064.5H107H109V1064H111V1066H113V1064H115V1065.5H117V1064H119V1066H121V1064H123V1064.5H125V1064H127V1065H129V1065.5H131V1065H133V1064H135V1066H137V1065.5H139V1065H141V1064.5H143V1065.5H145V1066H147V1064H149V1063.5H151V1065H153V1065.5H155H157H159V1066H161V1065.5H163V1066.5H165V1065.5H167V1065H169V1065.5H171V1063.5H173V1064H175V1063.5H177V1065H179V1064H181V1066H183V1063.5H185V1065.5H187V1064H189V1064.5H191V1064H193H195V1065H197V1066H199V1064.5H201V1065.5H203H205V1066H207V1066.5H209V1063.5H211V1066.5H213V1066H215V1064.5H217V1064H219V1064.5H221V1066H223V1064.5H225H227V1066.5H229V1064.5H231V1065.5H233V1064H235V1064.5H237V1065H239V1064H241V1063.5H243V1066H245V1064H247V1065.5H249H251V1065H253V1063.5H255V1065H257V1065.5H259V1063.5H261V1066H263H265V1064.5H267V1064H269V1066H271H273V1064H275V1066H277V1064.5H279V1065.5H281H282V1076H281H279H277H275H273H271H269H267H265H263H261H259H257H255H253H251H249H247H245H243H241H239H237H235H233H231H229H227H225H223H221H219H217H215H213H211H209H207H205H203H201H199H197H195H193H191H189H187H185H183H181H179H177H175H173H171H169H167H165H163H161H159H157H155H153H151H149H147H145H143H141H139H137H135H133H131H129H127H125H123H121H119H117H115H113H111H109H107H105H103H101H99H97H95H93H91H89H87H85H83H81H79H77H75H73H71H69H67H65H63H61H59H57H55H53H51Z"/><path id="s16" d="M355 1063H356V1067.5H357V1067H358V1066.5H359V1065.5H360V1067H361V1066H362V1067.5H363V1070H364V1067.5H365V1070H366V1066.5H367V1068H368V1065H369V1070.5H370V1068.5H371V1063.5H372V1065.5H373V1065H374V1067H375V1066.5H376H377V1060H378V1063H379V1059.5H380V1064.5H381V1060.5H382V1064.5H383V1067H384V1066.5H385V1063.5H386V1066.5H387V1062.5H388V1066H389V1061H390V1064.5H391V1061H392V1062.5H393H394V1064.5H395V1067H396V1065H397V1064H398V1061.5H399V1059H400V1059.5H401V1061H402V1058.5H403V1061H404V1063H405V1061H406V1060H407H408V1063H409H410V1061.5H411V1059H412V1062.5H413V1064H414V1060.5H415V1055.5H416V1059.5H417V1061.5H418V1059H419V1056.5H420V1064H421V1061H422V1060H423V1063.5H424V1060H425V1058H426V1061.5H427V1063H428V1059.5H429V1058H430V1060.5H431H432V1063.5H433V1062H434V1057.5H435V1062H436V1064.5H437V1063H438V1065H439V1064H440V1057H441V1061H442V1061.5H443V1060.5H444V1064.5H445V1061H446V1063.5H447V1063H448V1060.5H449V1064.5H450V1058H451V1062.5H452V1057.5H453V1059H454V1061H455V1062H456V1060.5H457V1064H458V1063.5H459V1064.5H460V1062.5H461V1064.5H462V1057.5H463V1064.5H464V1062.5H465V1055.5H466V1061H467H468H469V1060.5H470V1064H471V1062.5H472V1064.5H473V1062H474V1061.5H475V1061H476V1064H477V1062.5H478V1065H479V1060.5H480V1061.5H481V1063.5H482V1063H483H484V1062H485V1060.5H486V1062H487V1059H488V1062.5H489V1055H490V1061.5H491V1054H492V1061.5H493H494H495V1062H496V1059.5H497V1065H498V1057H499V1058H500V1061.5H501V1064H502V1063.5H503V1060H504H505V1061H506V1061.5H507V1061H508V1058.5H509V1062.5H510V1063H511V1061H512V1062.5H513V1063H514V1061H515V1062H516V1063.5H517V1062.5H518V1056.5H519V1059H520V1061.5H521V1063H522V1059H523V1061H524V1060H525V1056.5H526V1061.5H527V1061H528V1060.5H529V1057.5H530V1052H531V1055.5H532V1060H533H534V1052H535V1060H536V1057H537V1059H538V1057H539V1052.5H540V1060H541V1061.5H542V1051H543V1054H544V1057.5H545V1050.5H546V1061.5H547V1056H548V1057H549V1056H550V1059.5H551V1057.5H552V1061H553H554V1060.5H555V1056H556V1053H557V1058.5H558V1061.5H559V1063.5H560V1061H561V1060H562H563V1058H564H565V1060H566V1060.5H567V1062H568V1062.5H569V1057H570V1063.5H571V1061.5H572V1062.5H573H574V1061H575V1055H576V1059.5H577V1062H578V1064H579V1061H580V1058H581V1061H582V1057.5H583V1058.5H584V1061.5H585V1062.5H586H587V1060.5H588V1056.5H589V1060.5H590V1056H591V1064.5H592V1061H593V1056.5H594V1057H595V1061.5H596V1062.5H597V1060H598V1063H599V1055.5H600V1063H601V1064H602V1062H603V1060.5H604H605V1061H606V1060.5H607H608V1063H609V1063.5H610V1061H611V1063H612V1062.5H613V1062H614V1056.5H615V1059H616V1056.5H617V1064.5H618V1062H619V1063.5H620V1064H621V1062H622V1060.5H623V1055H624V1057H625V1058.5H626V1063H627H628V1056.5H629V1058.5H630V1060.5H631V1064.5H632V1059.5H633V1062.5H634H635V1061H636V1060H637V1056H638V1061.5H639V1055.5H640V1063H641V1060.5H642V1061.5H643V1063H644V1062.5H645V1060H646V1059H647V1060.5H648V1064.5H649V1062.5H650V1062H651H652V1064H653V1062H654V1063H655V1064H656V1061H657V1063.5H658H659V1062.5H660V1065H661V1058.5H662V1062.5H663V1064H664V1063.5H665V1062H666V1054.5H667V1063H668V1066.5H669V1066H670V1063H671V1066.5H672V1066H673V1061H674V1067.5H675V1063.5H676V1065H677V1066H678V1058.5H679V1065H680V1066H681V1063.5H682V1059H683V1062.5H684V1065H685V1068H686V1059.5H687V1068H688V1061.5H689V1063.5H690V1058H691V1065H692V1065.5H693V1061H694V1057.5H695V1066H696V1063.5H697V1062.5H698V1061.5H699V1061H700V1077H699H698H697H696H695H694H693H692H691H690H689H688H687H686H685H684H683H682H681H680H679H678H677H676H675H674H673H672H671H670H669H668H667H666H665H664H663H662H661H660H659H658H657H656H655H654H653H652H651H650H649H648H647H646H645H644H643H642H641H640H639H638H637H636H635H634H633H632H631H630H629H628H627H626H625H624H623H622H621H620H619H618H617H616H615H614H613H612H611H610H609H608H607H606H605H604H603H602H601H600H599H598H597H596H595H594H593H592H591H590H589H588H587H586H585H584H583H582H581H580H579H578H577H576H575H574H573H572H571H570H569H568H567H566H565H564H563H562H561H560H559H558H557H556H555H554H553H552H551H550H549H548H547H546H545H544H543H542H541H540H539H538H537H536H535H534H533H532H531H530H529H528H527H526H525H524H523H522H521H520H519H518H517H516H515H514H513H512H511H510H509H508H507H506H505H504H503H502H501H500H499H498H497H496H495H494H493H492H491H490H489H488H487H486H485H484H483H482H481H480H479H478H477H476H475H474H473H472H471H470H469H468H467H466H465H464H463H462H461H460H459H458H457H456H455H454H453H452H451H450H449H448H447H446H445H444H443H442H441H440H439H438H437H436H435H434H433H432H431H430H429H428H427H426H425H424H423H422H421H420H419H418H417H416H415H414H413H412H411H410H409H408H407H406H405H404H403H402H401H400H399H398H397H396H395H394H393H392H391H390H389H388H387H386H385H384H383H382H381H380H379H378H377H376H375H374H373H372H371H370H369H368H367H366H365H364H363H362H361H360H359H358H357H356H355Z"/><path id="s17" d="M471 918L474 915L480 920V953L477 960H473L471 950Z"/><path id="s18" d="M482 918H487L493 920V968L489 970L485 962L482 940Z"/></defs>
<g><rect x="686" y="217" width="1" height="2" fill="#dcdcdc"/><rect x="524" y="172" width="1" height="1" fill="#dcdcdc"/><rect x="481" y="198" width="1" height="2" fill="#dcdcdc"/><rect x="145" y="176" width="1" height="1" fill="#dcdcdc"/><rect x="471" y="230" width="1" height="2" fill="#dcdcdc"/><rect x="204" y="179" width="1" height="1" fill="#dcdcdc"/><rect x="217" y="184" width="1" height="1" fill="#dcdcdc"/><rect x="505" y="71" width="1" height="1" fill="#dcdcdc"/><rect x="176" y="195" width="1" height="2" fill="#dcdcdc"/><rect x="321" y="251" width="1" height="1" fill="#dcdcdc"/><rect x="604" y="135" width="1" height="1" fill="#dcdcdc"/><rect x="366" y="187" width="1" height="1" fill="#dcdcdc"/><rect x="579" y="69" width="1" height="2" fill="#dcdcdc"/><rect x="303" y="204" width="1" height="1" fill="#dcdcdc"/><rect x="183" y="244" width="1" height="1" fill="#dcdcdc"/><rect x="687" y="133" width="1" height="2" fill="#dcdcdc"/><rect x="512" y="148" width="1" height="1" fill="#dcdcdc"/><rect x="292" y="204" width="1" height="2" fill="#dcdcdc"/><rect x="606" y="187" width="1" height="2" fill="#dcdcdc"/><rect x="152" y="94" width="1" height="1" fill="#dcdcdc"/><rect x="301" y="202" width="1" height="2" fill="#dcdcdc"/><rect x="158" y="167" width="1" height="1" fill="#dcdcdc"/><rect x="399" y="231" width="1" height="1" fill="#dcdcdc"/><rect x="259" y="139" width="1" height="1" fill="#dcdcdc"/><rect x="584" y="181" width="1" height="1" fill="#dcdcdc"/><rect x="311" y="229" width="1" height="1" fill="#dcdcdc"/><rect x="165" y="181" width="1" height="2" fill="#dcdcdc"/><rect x="426" y="117" width="1" height="1" fill="#dcdcdc"/><rect x="179" y="130" width="1" height="2" fill="#dcdcdc"/><rect x="508" y="148" width="1" height="2" fill="#dcdcdc"/><rect x="183" y="243" width="1" height="1" fill="#dcdcdc"/><rect x="65" y="186" width="1" height="2" fill="#dcdcdc"/><rect x="451" y="64" width="1" height="1" fill="#dcdcdc"/><rect x="154" y="130" width="1" height="1" fill="#dcdcdc"/><rect x="221" y="167" width="1" height="1" fill="#dcdcdc"/><rect x="513" y="237" width="1" height="1" fill="#dcdcdc"/><rect x="691" y="209" width="1" height="2" fill="#dcdcdc"/><rect x="501" y="253" width="1" height="1" fill="#dcdcdc"/><rect x="250" y="161" width="1" height="1" fill="#dcdcdc"/><rect x="282" y="230" width="1" height="1" fill="#dcdcdc"/><rect x="117" y="209" width="1" height="1" fill="#dcdcdc"/><rect x="557" y="198" width="1" height="1" fill="#dcdcdc"/><rect x="124" y="245" width="1" height="2" fill="#dcdcdc"/><rect x="506" y="141" width="1" height="1" fill="#dcdcdc"/><rect x="204" y="171" width="1" height="1" fill="#dcdcdc"/><rect x="469" y="140" width="1" height="1" fill="#dcdcdc"/><rect x="347" y="175" width="1" height="2" fill="#dcdcdc"/><rect x="270" y="243" width="1" height="2" fill="#dcdcdc"/><rect x="572" y="200" width="1" height="1" fill="#dcdcdc"/><rect x="140" y="122" width="1" height="1" fill="#dcdcdc"/><rect x="475" y="237" width="1" height="2" fill="#dcdcdc"/><rect x="324" y="174" width="1" height="1" fill="#dcdcdc"/><rect x="193" y="192" width="1" height="1" fill="#dcdcdc"/><rect x="582" y="61" width="1" height="2" fill="#dcdcdc"/><rect x="239" y="119" width="1" height="1" fill="#dcdcdc"/><rect x="194" y="225" width="1" height="1" fill="#dcdcdc"/><rect x="661" y="202" width="1" height="2" fill="#dcdcdc"/><rect x="260" y="253" width="1" height="1" fill="#dcdcdc"/><rect x="84" y="170" width="1" height="1" fill="#dcdcdc"/><rect x="179" y="195" width="1" height="2" fill="#dcdcdc"/><rect x="492" y="374" width="1" height="1" fill="#ff8800"/><rect x="469" y="425" width="1" height="1" fill="#ff8800"/><rect x="332" y="374" width="1" height="1" fill="#00a880"/><rect x="336" y="468" width="1" height="1" fill="#7a0a8a"/><rect x="620" y="414" width="1" height="2" fill="#7a0a8a"/><rect x="478" y="356" width="1" height="1" fill="#00a880"/><rect x="65" y="484" width="1" height="1" fill="#1a1aff"/><rect x="659" y="393" width="1" height="2" fill="#ff8800"/><rect x="216" y="438" width="1" height="1" fill="#ff8800"/><rect x="145" y="433" width="1" height="1" fill="#00a880"/><rect x="299" y="445" width="1" height="2" fill="#00a880"/><rect x="603" y="366" width="1" height="2" fill="#ff8800"/><rect x="668" y="419" width="1" height="1" fill="#00a880"/><rect x="545" y="395" width="1" height="1" fill="#1a1aff"/><rect x="574" y="507" width="1" height="1" fill="#ff8800"/><rect x="269" y="404" width="1" height="2" fill="#7a0a8a"/><rect x="318" y="428" width="1" height="1" fill="#10e030"/><rect x="663" y="481" width="1" height="1" fill="#10e030"/><rect x="452" y="492" width="1" height="1" fill="#10e030"/><rect x="229" y="420" width="1" height="1" fill="#10e030"/><rect x="346" y="506" width="1" height="2" fill="#ff8800"/><rect x="349" y="499" width="1" height="2" fill="#00a880"/><rect x="363" y="329" width="1" height="1" fill="#ff8800"/><rect x="329" y="427" width="1" height="1" fill="#7a0a8a"/><rect x="125" y="423" width="1" height="1" fill="#1a1aff"/><rect x="177" y="475" width="1" height="1" fill="#ff1000"/><rect x="53" y="386" width="1" height="1" fill="#ff8800"/><rect x="649" y="500" width="1" height="1" fill="#ff1000"/><rect x="60" y="372" width="1" height="1" fill="#10e030"/><rect x="93" y="375" width="1" height="1" fill="#10e030"/><rect x="352" y="332" width="1" height="2" fill="#7a0a8a"/><rect x="245" y="415" width="1" height="2" fill="#00a880"/><rect x="395" y="514" width="1" height="1" fill="#7a0a8a"/><rect x="62" y="422" width="1" height="1" fill="#1a1aff"/><rect x="336" y="497" width="1" height="2" fill="#00a880"/><rect x="451" y="450" width="1" height="1" fill="#7a0a8a"/><rect x="399" y="376" width="1" height="1" fill="#7a0a8a"/><rect x="60" y="481" width="1" height="1" fill="#1a1aff"/><rect x="494" y="450" width="1" height="1" fill="#10e030"/><rect x="415" y="333" width="1" height="1" fill="#10e030"/><rect x="435" y="520" width="1" height="1" fill="#7a0a8a"/><rect x="315" y="388" width="1" height="2" fill="#00a880"/><rect x="285" y="392" width="1" height="2" fill="#ff1000"/><rect x="396" y="390" width="1" height="1" fill="#10e030"/><rect x="420" y="479" width="1" height="1" fill="#7a0a8a"/><rect x="668" y="356" width="1" height="2" fill="#10e030"/><rect x="142" y="518" width="1" height="1" fill="#1a1aff"/><rect x="507" y="436" width="1" height="2" fill="#10e030"/><rect x="613" y="430" width="1" height="1" fill="#10e030"/><rect x="80" y="519" width="1" height="1" fill="#ff8800"/><rect x="564" y="515" width="1" height="2" fill="#00a880"/><rect x="481" y="374" width="1" height="1" fill="#1a1aff"/><rect x="382" y="469" width="1" height="1" fill="#7a0a8a"/><rect x="151" y="385" width="1" height="2" fill="#00a880"/><rect x="111" y="355" width="1" height="1" fill="#7a0a8a"/><rect x="502" y="359" width="1" height="1" fill="#00a880"/><rect x="400" y="503" width="1" height="1" fill="#ff1000"/><rect x="695" y="449" width="1" height="2" fill="#7a0a8a"/><rect x="490" y="459" width="1" height="2" fill="#1a1aff"/><rect x="449" y="427" width="1" height="1" fill="#ff8800"/><rect x="97" y="380" width="1" height="2" fill="#ff8800"/><rect x="118" y="474" width="1" height="2" fill="#1a1aff"/><rect x="457" y="388" width="1" height="2" fill="#7a0a8a"/><rect x="183" y="366" width="1" height="2" fill="#10e030"/><rect x="445" y="392" width="1" height="1" fill="#00a880"/><rect x="432" y="452" width="1" height="1" fill="#7a0a8a"/><rect x="261" y="369" width="1" height="2" fill="#00a880"/><rect x="412" y="412" width="1" height="2" fill="#ff8800"/><rect x="466" y="381" width="1" height="1" fill="#ff8800"/><rect x="625" y="474" width="1" height="2" fill="#7a0a8a"/><rect x="537" y="346" width="1" height="1" fill="#ff8800"/><rect x="560" y="453" width="1" height="1" fill="#7a0a8a"/><rect x="324" y="355" width="1" height="1" fill="#ff1000"/><rect x="208" y="475" width="1" height="1" fill="#7a0a8a"/><rect x="577" y="495" width="1" height="1" fill="#10e030"/><rect x="394" y="426" width="1" height="1" fill="#7a0a8a"/><rect x="95" y="401" width="1" height="1" fill="#7a0a8a"/><rect x="697" y="349" width="1" height="1" fill="#7a0a8a"/><rect x="615" y="434" width="1" height="2" fill="#ff8800"/><rect x="198" y="511" width="1" height="1" fill="#7a0a8a"/><rect x="437" y="413" width="1" height="2" fill="#ff1000"/><rect x="471" y="500" width="1" height="1" fill="#00a880"/><rect x="681" y="480" width="1" height="2" fill="#00a880"/><rect x="468" y="343" width="1" height="2" fill="#10e030"/><rect x="135" y="370" width="1" height="2" fill="#7a0a8a"/><rect x="89" y="506" width="1" height="2" fill="#7a0a8a"/><rect x="678" y="394" width="1" height="2" fill="#1a1aff"/><rect x="566" y="434" width="1" height="1" fill="#00a880"/><rect x="484" y="337" width="1" height="1" fill="#10e030"/><rect x="522" y="458" width="1" height="1" fill="#00a880"/><rect x="593" y="626" width="1" height="1" fill="#1a2aff"/><rect x="96" y="772" width="1" height="2" fill="#5050ff"/><rect x="551" y="617" width="1" height="2" fill="#3a3aff"/><rect x="652" y="734" width="1" height="1" fill="#3a3aff"/><rect x="247" y="791" width="1" height="2" fill="#1a2aff"/><rect x="465" y="745" width="1" height="2" fill="#3a3aff"/><rect x="571" y="612" width="1" height="2" fill="#1a2aff"/><rect x="597" y="744" width="1" height="1" fill="#5050ff"/><rect x="194" y="727" width="1" height="1" fill="#5050ff"/><rect x="274" y="618" width="1" height="1" fill="#3a3aff"/><rect x="266" y="629" width="1" height="2" fill="#1a2aff"/><rect x="277" y="701" width="1" height="2" fill="#1a2aff"/><rect x="76" y="724" width="1" height="2" fill="#3a3aff"/><rect x="587" y="703" width="1" height="1" fill="#1a2aff"/><rect x="688" y="756" width="1" height="2" fill="#5050ff"/><rect x="298" y="691" width="1" height="1" fill="#1a2aff"/><rect x="570" y="626" width="1" height="2" fill="#3a3aff"/><rect x="679" y="663" width="1" height="1" fill="#3a3aff"/><rect x="475" y="662" width="1" height="1" fill="#3a3aff"/><rect x="166" y="638" width="1" height="1" fill="#1a2aff"/><rect x="196" y="669" width="1" height="1" fill="#1a2aff"/><rect x="556" y="600" width="1" height="1" fill="#5050ff"/><rect x="404" y="704" width="1" height="1" fill="#1a2aff"/><rect x="640" y="743" width="1" height="1" fill="#5050ff"/><rect x="525" y="790" width="1" height="1" fill="#5050ff"/><rect x="84" y="792" width="1" height="1" fill="#3a3aff"/><rect x="315" y="621" width="1" height="1" fill="#5050ff"/><rect x="133" y="771" width="1" height="2" fill="#5050ff"/><rect x="276" y="779" width="1" height="1" fill="#1a2aff"/><rect x="332" y="650" width="1" height="1" fill="#5050ff"/><rect x="374" y="665" width="1" height="1" fill="#5050ff"/><rect x="633" y="777" width="1" height="1" fill="#1a2aff"/><rect x="274" y="683" width="1" height="1" fill="#1a2aff"/><rect x="217" y="687" width="1" height="1" fill="#1a2aff"/><rect x="592" y="675" width="1" height="2" fill="#5050ff"/><rect x="314" y="680" width="1" height="2" fill="#1a2aff"/><rect x="501" y="776" width="1" height="1" fill="#5050ff"/><rect x="56" y="761" width="1" height="1" fill="#5050ff"/><rect x="196" y="646" width="1" height="2" fill="#1a2aff"/><rect x="279" y="614" width="1" height="1" fill="#1a2aff"/><rect x="238" y="681" width="1" height="1" fill="#5050ff"/><rect x="659" y="622" width="1" height="2" fill="#5050ff"/><rect x="255" y="667" width="1" height="1" fill="#5050ff"/><rect x="666" y="780" width="1" height="2" fill="#1a2aff"/><rect x="469" y="616" width="1" height="2" fill="#1a2aff"/><rect x="670" y="713" width="1" height="1" fill="#1a2aff"/><rect x="116" y="689" width="1" height="2" fill="#5050ff"/><rect x="266" y="682" width="1" height="1" fill="#3a3aff"/><rect x="594" y="707" width="1" height="1" fill="#3a3aff"/><rect x="349" y="725" width="1" height="1" fill="#3a3aff"/><rect x="273" y="659" width="1" height="1" fill="#1a2aff"/><rect x="536" y="628" width="1" height="1" fill="#1a2aff"/><rect x="194" y="663" width="1" height="1" fill="#3a3aff"/><rect x="664" y="652" width="1" height="1" fill="#5050ff"/><rect x="401" y="693" width="1" height="2" fill="#1a2aff"/><rect x="204" y="771" width="1" height="2" fill="#3a3aff"/><rect x="176" y="659" width="1" height="1" fill="#3a3aff"/><rect x="691" y="659" width="1" height="1" fill="#1a2aff"/><rect x="457" y="698" width="1" height="2" fill="#5050ff"/><rect x="425" y="743" width="1" height="1" fill="#3a3aff"/><rect x="171" y="630" width="1" height="1" fill="#5050ff"/><rect x="283" y="762" width="1" height="1" fill="#1a2aff"/><rect x="697" y="697" width="1" height="1" fill="#5050ff"/><rect x="238" y="607" width="1" height="1" fill="#3a3aff"/><rect x="119" y="686" width="1" height="1" fill="#1a2aff"/><rect x="462" y="602" width="1" height="1" fill="#1a2aff"/><rect x="427" y="697" width="1" height="1" fill="#1a2aff"/><rect x="611" y="785" width="1" height="2" fill="#1a2aff"/><rect x="693" y="690" width="1" height="1" fill="#1a2aff"/><rect x="374" y="734" width="1" height="1" fill="#3a3aff"/><rect x="486" y="619" width="1" height="1" fill="#1a2aff"/><rect x="541" y="777" width="1" height="1" fill="#1a2aff"/><rect x="623" y="787" width="1" height="2" fill="#1a2aff"/><rect x="494" y="660" width="1" height="2" fill="#1a2aff"/><rect x="309" y="737" width="1" height="2" fill="#3a3aff"/><rect x="286" y="755" width="1" height="1" fill="#5050ff"/><rect x="534" y="599" width="1" height="1" fill="#1a2aff"/><rect x="619" y="623" width="1" height="1" fill="#3a3aff"/><rect x="281" y="682" width="1" height="2" fill="#1a2aff"/><rect x="293" y="792" width="1" height="1" fill="#1a2aff"/><rect x="55" y="645" width="1" height="1" fill="#3a3aff"/><rect x="609" y="693" width="1" height="1" fill="#3a3aff"/><rect x="73" y="778" width="1" height="2" fill="#1a2aff"/><rect x="607" y="625" width="1" height="1" fill="#1a2aff"/><rect x="499" y="677" width="1" height="2" fill="#1a2aff"/><rect x="422" y="607" width="1" height="2" fill="#1a2aff"/><rect x="131" y="733" width="1" height="1" fill="#5050ff"/><rect x="653" y="715" width="1" height="1" fill="#5050ff"/><rect x="224" y="606" width="1" height="1" fill="#1a2aff"/><rect x="342" y="632" width="1" height="1" fill="#5050ff"/><rect x="336" y="673" width="1" height="2" fill="#5050ff"/><rect x="393" y="634" width="1" height="1" fill="#1a2aff"/><rect x="378" y="729" width="1" height="2" fill="#5050ff"/><rect x="636" y="669" width="1" height="1" fill="#3a3aff"/><rect x="496" y="788" width="1" height="2" fill="#1a2aff"/><rect x="493" y="690" width="1" height="1" fill="#1a2aff"/><rect x="437" y="629" width="1" height="1" fill="#3a3aff"/><rect x="267" y="732" width="1" height="1" fill="#1a2aff"/><rect x="512" y="652" width="1" height="2" fill="#1a2aff"/><rect x="633" y="717" width="1" height="2" fill="#1a2aff"/><rect x="184" y="636" width="1" height="1" fill="#1a2aff"/><rect x="467" y="704" width="1" height="1" fill="#1a2aff"/><rect x="308" y="677" width="1" height="1" fill="#3a3aff"/><rect x="287" y="719" width="1" height="2" fill="#3a3aff"/><rect x="152" y="688" width="1" height="2" fill="#1a2aff"/><rect x="217" y="786" width="1" height="2" fill="#1a2aff"/><rect x="677" y="718" width="1" height="1" fill="#1a2aff"/><rect x="59" y="761" width="1" height="2" fill="#5050ff"/><rect x="537" y="664" width="1" height="1" fill="#1a2aff"/><rect x="479" y="786" width="1" height="2" fill="#1a2aff"/><rect x="286" y="930" width="1" height="1" fill="#ff1000"/><rect x="386" y="1042" width="1" height="2" fill="#ff1000"/><rect x="268" y="950" width="1" height="1" fill="#ff1000"/><rect x="313" y="877" width="1" height="1" fill="#ff1000"/><rect x="80" y="992" width="1" height="1" fill="#ff1000"/><rect x="403" y="964" width="1" height="2" fill="#ff1000"/></g>
<g fill="#d8d8d8" filter="url(#f0_65_2)"><use href="#s0"/><use href="#s1"/><path d="M153 100H156V112H153Z"/><use href="#s2"/><path d="M193 95L201 96L210 99V140L203 145H199L193 130Z"/><path d="M209 98L216 95L224 96L228 95L232 96V175L229 176L226 165L225 196L222 197L221 182H219L217 178L212 176L210 150L209 120Z"/><path d="M232 96H240L244 100L243 120L247 140L252 165L253 200V216L244 218L242 200L235 185L230 170L232 130Z"/><use href="#s3"/></g>
<g fill="#7474ff" filter="url(#f0_18_0)"><use href="#s0"/><use href="#s1"/><use href="#s2"/><use href="#s3"/></g>
<g fill="#d8d8d8" filter="url(#f0_92_2)"><path d="M51 221H63V264H51Z"/><path d="M65 224H84V264H65Z"/><path d="M92 229H117V264H92Z"/><path d="M119 225H145V264H119Z"/><path d="M147 217H170V264H147Z"/></g>
<g fill="#d8d8d8" filter="url(#f0_82_2)"><path d="M84 236H92V264H84Z"/><path d="M170 228H176V266H170Z"/><path d="M176 228L187 226L188 211H193L194 226L197 228V265H176Z"/></g>
<g fill="#d8d8d8" filter="url(#f0_50_2)"><path d="M197 234H228V265H197Z"/><path d="M236 248H250V265H236Z"/><path d="M255 261H266V264H255Z"/></g>
<g fill="#d8d8d8" filter="url(#f0_65_2)"><path d="M228 240H236V268H228Z"/><path d="M283 243H300V268H283Z"/><path d="M300 240L303 230L306 240L310 230L314 218L318 225V268H300Z"/><path d="M318 245L322 232L326 225L330 230L334 235L337 215L340 202L342 215H345L350 212L354 215L355 250H362V268H318Z"/><path d="M363 213H367V240H363Z"/><path d="M580 232L582 222L586 221L590 226L594 240L598 250V268H580Z"/></g>
<g fill="#d8d8d8" filter="url(#f0_94_2)"><path d="M355 254.5H356V256H357V254.5H358V252.5H359V256.5H360V257H361V250.5H362V252H363V257H364V258H365V254H366V257.5H367V249.5H368V253.5H369V256H370V254.5H371V252.5H372V252H373V255H374V248H375V253H376V257H377V254.5H378V258H379V252H380V254.5H381V252H382V257.5H383V254.5H384V257.5H385V256H386V255H387V250H388V247.5H389V255.5H390V256.5H391V248H392V250.5H393V249H394V254.5H395V247.5H396V245H397V253H398V251.5H399V250H400V246H401V249.5H402V245.5H403V246H404V248.5H405V247H406V246.5H407V243H408V250.5H409V247H410V249.5H411V247.5H412V251H413V249H414V251H415V244.5H416V247.5H417V251H418V248H419V247H420V250.5H421V247.5H422V249H423V249.5H424V248H425V248.5H426V247.5H427V243.5H428V249.5H429V244H430V246.5H431V249.5H432V248H433V249H434V247H435V245H436V244H437V247H438V246.5H439V248.5H440V242.5H441V246H442V242H443V249H444V249.5H445V246.5H446V245.5H447V246.5H448V248H449V248.5H450V247H451V248.5H452V245H453V249.5H454V249H455H456V248H457V250H458H459V248.5H460V251H461H462H463V250H464V245.5H465V248.5H466V249H467V251H468V247.5H469V245H470V249H471V251H472V249H473V243H474V249.5H475V250H476V249H477V247H478V247.5H479V249H480H481V246.5H482V250H483V247.5H484V249.5H485V248H486V245.5H487H488V246.5H489V250H490V250.5H491V247.5H492V250H493V249H494V246H495V248H496V248.5H497H498V244.5H499V248.5H500V249H501V248H502V246H503V244H504V248.5H505V248H506V244H507V248H508V248.5H509V242H510V248.5H511V243H512V249.5H513V250H514V247H515V242.5H516V247.5H517H518V246H519V249H520V247H521V249H522V250H523V247.5H524V243.5H525V248H526V247H527V248.5H528V251H529V247.5H530V248.5H531V249.5H532V248H533V247.5H534V247H535V247.5H536V248H537V244H538V248.5H539V248H540V249H541H542V246.5H543H544V242H545V245.5H546H547V244.5H548V247H549V244.5H550V246.5H551V246H552V244.5H553V241.5H554V244.5H555V245.5H556V245H557V246.5H558V240.5H559V244.5H560V245.5H561V242H562V247H563V247.5H564V248.5H565V241.5H566V245.5H567V246.5H568V245.5H569V244.5H570V246.5H571V247H572V245.5H573V248.5H574V244H575H576H577V245H578H579V244.5H580V245H581V246H582V248.5H583V247.5H584V246H585V245.5H586V242H587V249.5H588V243H589V245.5H590V249.5H591V250.5H592V249H593H594V246H595V249.5H596V248H597V252H598V248H599V247.5H600V250H601V247.5H602V250H603V252.5H604V245H605V249H606V251.5H607V249.5H608V252H609V246H610V250.5H611V247.5H612V251H613V249.5H614V251.5H615V248H616V246.5H617V245H618V249.5H619V250H620V252H621V251H622H623V244.5H624V246H625V250H626V247.5H627V250.5H628V248.5H629V250H630V251H631V248H632V250H633V252H634V252.5H635V252H636V250.5H637H638V249H639V250H640V244H641V251H642V251.5H643V250.5H644V249H645V246H646V252.5H647V247H648V251.5H649V253H650V249.5H651V251.5H652V251H653V247.5H654V245H655V251.5H656V247H657V249H658V251.5H659V248.5H660V252H661V251.5H662V249.5H663V249H664V248.5H665H666V252H667V248.5H668V251.5H669V251H670V249.5H671V250H672V247.5H673V251H674V249.5H675V251.5H676V250H677H678V252H679V250H680V244H681V248H682V247H683V250H684V246.5H685V254H686V247.5H687V250.5H688V247.5H689V253H690V251.5H691V254.5H692V253.5H693V250.5H694V253.5H695V254H696V251.5H697V253H698V252.5H699V246H700V266H699H698H697H696H695H694H693H692H691H690H689H688H687H686H685H684H683H682H681H680H679H678H677H676H675H674H673H672H671H670H669H668H667H666H665H664H663H662H661H660H659H658H657H656H655H654H653H652H651H650H649H648H647H646H645H644H643H642H641H640H639H638H637H636H635H634H633H632H631H630H629H628H627H626H625H624H623H622H621H620H619H618H617H616H615H614H613H612H611H610H609H608H607H606H605H604H603H602H601H600H599H598H597H596H595H594H593H592H591H590H589H588H587H586H585H584H583H582H581H580H579H578H577H576H575H574H573H572H571H570H569H568H567H566H565H564H563H562H561H560H559H558H557H556H555H554H553H552H551H550H549H548H547H546H545H544H543H542H541H540H539H538H537H536H535H534H533H532H531H530H529H528H527H526H525H524H523H522H521H520H519H518H517H516H515H514H513H512H511H510H509H508H507H506H505H504H503H502H501H500H499H498H497H496H495H494H493H492H491H490H489H488H487H486H485H484H483H482H481H480H479H478H477H476H475H474H473H472H471H470H469H468H467H466H465H464H463H462H461H460H459H458H457H456H455H454H453H452H451H450H449H448H447H446H445H444H443H442H441H440H439H438H437H436H435H434H433H432H431H430H429H428H427H426H425H424H423H422H421H420H419H418H417H416H415H414H413H412H411H410H409H408H407H406H405H404H403H402H401H400H399H398H397H396H395H394H393H392H391H390H389H388H387H386H385H384H383H382H381H380H379H378H377H376H375H374H373H372H371H370H369H368H367H366H365H364H363H362H361H360H359H358H357H356H355Z"/></g>
<g fill="#d8d8d8" filter="url(#f0_55_2)"><path d="M471 108L474 105L480 110V143L477 150H473L471 140Z"/><path d="M482 108H487L493 110V158L489 160L485 152L482 130Z"/><path d="M499 113H502V157H499Z"/><path d="M506 112H511V140H506Z"/><path d="M513 113H516L519 148L516 150Z"/><path d="M520 117H524V153H520Z"/><path d="M527 123H531V157H527Z"/></g>
<g fill="#2424ff" filter="url(#f0_20_2)"><path d="M50 90H57V108H50Z"/></g>
<g fill="#2424ff" filter="url(#f0_25_2)"><path d="M57 88H66V105H57Z"/></g>
<g fill="#2424ff" filter="url(#f0_20_2)"><path d="M66 92H72V110H66Z"/></g>
<g fill="#2424ff" filter="url(#f0_45_2)"><path d="M72 90L80 87L90 92V110L84 112L76 108L72 100Z"/></g>
<g fill="#2424ff" filter="url(#f0_35_2)"><path d="M75 93H86V106H75Z"/></g>
<g fill="#2424ff" filter="url(#f0_22_2)"><path d="M90 95H100V112H90Z"/></g>
<g fill="#2424ff" filter="url(#f0_45_2)"><path d="M100 100L108 99L112 110L111 122L104 121L100 110Z"/></g>
<g fill="#2424ff" filter="url(#f0_35_2)"><path d="M103 104H108V118H103Z"/></g>
<g fill="#2424ff" filter="url(#f0_20_2)"><path d="M112 100H118V118H112Z"/></g>
<g fill="#2424ff" filter="url(#f0_30_2)"><path d="M119 100H124V112H119Z"/></g>
<g fill="#2424ff" filter="url(#f0_55_2)"><path d="M130 102L134 99L139 102V134L135 136L131 125Z"/></g>
<g fill="#2424ff" filter="url(#f0_40_2)"><path d="M132 108H137V133H132Z"/></g>
<g fill="#2424ff" filter="url(#f0_30_2)"><path d="M153 102H155V110H153Z"/></g>
<g fill="#2424ff" filter="url(#f0_60_2)"><path d="M161 105H164V138H161Z"/></g>
<g fill="#2424ff" filter="url(#f0_28_2)"><path d="M166 100H172V125H166Z"/></g>
<g fill="#2424ff" filter="url(#f0_30_2)"><path d="M172 100H180V120H172Z"/></g>
<g fill="#2424ff" filter="url(#f0_20_2)"><path d="M193 98H197V128H193Z"/></g>
<g fill="#2424ff" filter="url(#f0_60_2)"><path d="M197 98H200V142H197Z"/></g>
<g fill="#2424ff" filter="url(#f0_30_2)"><path d="M200 100H203V135H200Z"/></g>
<g fill="#2424ff" filter="url(#f0_18_2)"><path d="M203 100H210V140H203Z"/></g>
<g fill="#2424ff" filter="url(#f0_60_2)"><path d="M210 100L216 97L222 99L223 130L222 178L220 184L214 170L211 145L210 120Z"/></g>
<g fill="#00a070" filter="url(#f0_55_0)"><path d="M213 108L217 106L219 115V172H217L214 160L213 140Z"/></g>
<g fill="#10dd30" filter="url(#f0_45_0)"><path d="M213 112L217 110L218 120V165L216 168L214 150Z"/></g>
<g fill="#f0ff00" filter="url(#f0_45_2)"><path d="M215 125H216V165H215Z"/></g>
<g fill="#2424ff" filter="url(#f0_18_2)"><path d="M223 96H227V140H223Z"/></g>
<g fill="#2424ff" filter="url(#f0_50_2)"><path d="M227 96H231V175H227Z"/></g>
<g fill="#2424ff" filter="url(#f0_40_2)"><path d="M232 96H243V122H232Z"/></g>
<g fill="#2424ff" filter="url(#f0_60_2)"><path d="M229 122L236 118L241 124L244 140L250 160L252 175V205L247 206L240 195L232 180L229 165Z"/></g>
<g fill="#00a070" filter="url(#f0_55_0)"><path d="M233 138L237 133L241 143L245 160L248 186L244 190L237 178L234 160Z"/></g>
<g fill="#10dd30" filter="url(#f0_50_0)"><path d="M234 140L237 136L240 145L243 165L245 185L242 188L236 175L235 160Z"/></g>
<g fill="#f0ff00" filter="url(#f0_45_2)"><path d="M239 168H241V182H239Z"/></g>
<g fill="#2424ff" filter="url(#f0_35_2)"><path d="M245 105L262 103V120L248 118Z"/></g>
<g fill="#2424ff" filter="url(#f0_55_2)"><path d="M262 100L270 99L277 103V118L270 121L262 118Z"/></g>
<g fill="#2424ff" filter="url(#f0_65_2)"><path d="M51 225H63V245H51Z"/></g>
<g fill="#2424ff" filter="url(#f0_60_2)"><path d="M65 226H70V247H65Z"/></g>
<g fill="#2424ff" filter="url(#f0_25_2)"><path d="M70 228H82V241H70Z"/></g>
<g fill="#2424ff" filter="url(#f0_15_2)"><path d="M85 238H91V250H85Z"/></g>
<g fill="#2424ff" filter="url(#f0_55_2)"><path d="M110 227H117V244H110Z"/></g>
<g fill="#2424ff" filter="url(#f0_80_2)"><path d="M110 244H117V252H110Z"/></g>
<g fill="#2424ff" filter="url(#f0_50_2)"><path d="M119 227H145V250H119Z"/></g>
<g fill="#2424ff" filter="url(#f0_30_2)"><path d="M147 226H150V250H147Z"/></g>
<g fill="#2424ff" filter="url(#f0_60_2)"><path d="M150 225H167V252H150Z"/></g>
<g fill="#2424ff" filter="url(#f0_30_2)"><path d="M167 226H170V250H167Z"/></g>
<g fill="#2424ff" filter="url(#f0_60_2)"><path d="M170 228H172V268H170Z"/><path d="M183 225H194V240H183Z"/><path d="M228 248L231 240L234 245L235 268H228Z"/></g>
<g fill="#10dd30" filter="url(#f0_50_0)"><path d="M231 256H233V268H231Z"/></g>
<g fill="#2424ff" filter="url(#f0_8_2)"><path d="M51 265H180V268H51Z"/></g>
<g fill="#2424ff" filter="url(#f0_60_2)"><path d="M284 253H286V268H284Z"/><path d="M295 250H297V268H295Z"/></g>
<g fill="#2424ff" filter="url(#f0_50_2)"><path d="M298 248H300V268H298Z"/></g>
<g fill="#10dd30" filter="url(#f0_40_0)"><path d="M298 255H300V268H298Z"/></g>
<g fill="#2424ff" filter="url(#f0_60_2)"><path d="M300 242H305V268H300Z"/></g>
<g fill="#10dd30" filter="url(#f0_60_0)"><path d="M301 246H305V268H301Z"/></g>
<g fill="#f0ff00" filter="url(#f0_40_2)"><path d="M302 252H304V268H302Z"/></g>
<g fill="#2424ff" filter="url(#f0_60_2)"><path d="M310 241H312V268H310Z"/></g>
<g fill="#10dd30" filter="url(#f0_50_0)"><path d="M310 248H312V262H310Z"/></g>
<g fill="#ff1500" filter="url(#f0_60_0)"><path d="M310 255H312V268H310Z"/></g>
<g fill="#2424ff" filter="url(#f0_60_2)"><path d="M312 245H317V268H312Z"/></g>
<g fill="#10dd30" filter="url(#f0_60_0)"><path d="M312 248H317V268H312Z"/></g>
<g fill="#f0ff00" filter="url(#f0_50_2)"><path d="M313 252H316V268H313Z"/></g>
<g fill="#ff1500" filter="url(#f0_40_0)"><path d="M314 257H316V268H314Z"/></g>
<g fill="#2424ff" filter="url(#f0_50_2)"><path d="M315 225H316V245H315Z"/></g>
<g fill="#2424ff" filter="url(#f0_60_2)"><path d="M322 233H326V268H322Z"/></g>
<g fill="#10dd30" filter="url(#f0_55_0)"><path d="M322 242H326V268H322Z"/></g>
<g fill="#2424ff" filter="url(#f0_60_2)"><path d="M326 238H331V268H326Z"/></g>
<g fill="#10dd30" filter="url(#f0_60_0)"><path d="M326 242H331V268H326Z"/></g>
<g fill="#f0ff00" filter="url(#f0_50_2)"><path d="M327 247H330V268H327Z"/></g>
<g fill="#ff1500" filter="url(#f0_60_0)"><path d="M328 250H331V268H328Z"/></g>
<g fill="#2424ff" filter="url(#f0_50_2)"><path d="M331 240H335V268H331Z"/></g>
<g fill="#ff8c00" filter="url(#f0_70_0)"><path d="M331 245H335V268H331Z"/></g>
<g fill="#ff1500" filter="url(#f0_55_0)"><path d="M332 250H334V268H332Z"/></g>
<g fill="#2424ff" filter="url(#f0_60_2)"><path d="M335 250H337V268H335Z"/><path d="M337 218H342V268H337Z"/></g>
<g fill="#10dd30" filter="url(#f0_60_0)"><path d="M337 228H342V268H337Z"/></g>
<g fill="#ff1500" filter="url(#f0_80_0)"><path d="M337 242H340V268H337Z"/></g>
<g fill="#2424ff" filter="url(#f0_60_2)"><path d="M339 208H341V222H339Z"/></g>
<g fill="#2424ff" filter="url(#f0_55_2)"><path d="M342 217H346V268H342Z"/></g>
<g fill="#10dd30" filter="url(#f0_55_0)"><path d="M342 225H346V268H342Z"/></g>
<g fill="#f0ff00" filter="url(#f0_40_2)"><path d="M343 232H345V250H343Z"/></g>
<g fill="#2424ff" filter="url(#f0_25_2)"><path d="M346 250H350V268H346Z"/></g>
<g fill="#2424ff" filter="url(#f0_60_2)"><path d="M349 212H353V268H349Z"/></g>
<g fill="#10dd30" filter="url(#f0_60_0)"><path d="M349 225H353V268H349Z"/></g>
<g fill="#f0ff00" filter="url(#f0_60_2)"><path d="M349 245H353V268H349Z"/></g>
<g fill="#ff8c00" filter="url(#f0_55_0)"><path d="M350 248H353V268H350Z"/></g>
<g fill="#2424ff" filter="url(#f0_55_2)"><path d="M363 217H366V240H363Z"/></g>
<g fill="#00a070" filter="url(#f0_40_0)"><path d="M364 222H366V232H364Z"/></g>
<g fill="#2424ff" filter="url(#f0_55_2)"><path d="M543 248H545V268H543Z"/><path d="M547 245H549V268H547Z"/></g>
<g fill="#2424ff" filter="url(#f0_25_2)"><path d="M270 258H271V265H270Z"/></g>
<g fill="#2424ff" filter="url(#f0_40_2)"><path d="M284 252H286V267H284Z"/><path d="M295 248H300V268H295Z"/></g>
<g fill="#2424ff" filter="url(#f0_50_2)"><path d="M581 232L584 224L588 226L593 240L595 268H581Z"/></g>
<g fill="#10dd30" filter="url(#f0_75_0)"><path d="M582 236H590V268H582Z"/></g>
<g fill="#f0ff00" filter="url(#f0_65_2)"><path d="M584 244H588V266H584Z"/></g>
<g fill="#ff1500" filter="url(#f0_55_0)"><path d="M585 255H587V265H585Z"/></g>
<g fill="#2424ff" filter="url(#f0_45_2)"><path d="M595 255H597V266H595Z"/></g>
<g fill="#2424ff" filter="url(#f0_75_2)"><path d="M472 108H477V147H472Z"/></g>
<g fill="#00a070" filter="url(#f0_50_0)"><path d="M473 118H475V140H473Z"/></g>
<g fill="#2424ff" filter="url(#f0_72_2)"><path d="M483 110H485L487 152H485Z"/></g>
<g fill="#2424ff" filter="url(#f0_55_2)"><path d="M488 133H492V150H489Z"/></g>
<g fill="#2424ff" filter="url(#f0_25_2)"><path d="M489 110H492V130H489Z"/></g>
<g fill="#2424ff" filter="url(#f0_70_2)"><path d="M499 113H501V130H499Z"/><path d="M513 115H515L518 148H516Z"/><path d="M521 118H523V150H521Z"/></g>
<g fill="#2424ff" filter="url(#f0_60_2)"><path d="M528 124H531V157H528Z"/></g>
<g fill="#00a070" filter="url(#f0_45_0)"><path d="M529 130H530V145H529Z"/></g>
<g fill="#fff"><rect x="63.5" y="40" width="2" height="229"/><rect x="90.6" y="40" width="2" height="229"/><rect x="117.7" y="40" width="2" height="229"/><rect x="144.8" y="40" width="2" height="229"/><rect x="171.9" y="40" width="2" height="229"/><rect x="199.0" y="40" width="2" height="229"/><rect x="226.0" y="40" width="2" height="229"/><rect x="253.1" y="40" width="2" height="229"/><rect x="280.2" y="40" width="2" height="229"/><rect x="307.3" y="40" width="2" height="229"/><rect x="334.4" y="40" width="2" height="229"/><rect x="361.5" y="40" width="2" height="229"/><rect x="388.5" y="40" width="2" height="229"/><rect x="415.6" y="40" width="2" height="229"/><rect x="442.7" y="40" width="2" height="229"/><rect x="469.8" y="40" width="2" height="229"/><rect x="496.9" y="40" width="2" height="229"/><rect x="524.0" y="40" width="2" height="229"/><rect x="551.0" y="40" width="2" height="229"/><rect x="578.1" y="40" width="2" height="229"/><rect x="605.2" y="40" width="2" height="229"/><rect x="632.3" y="40" width="2" height="229"/><rect x="659.4" y="40" width="2" height="229"/><rect x="686.5" y="40" width="2" height="229"/></g>
<g fill="#10e030" filter="url(#f1_85_2)"><path d="M50 361H52V360.5H53V381.5H52V381H50Z"/></g>
<g fill="#00b080" filter="url(#f1_85_0)"><path d="M53 355.5H55V355H57H58V377.5H57V375.5H55V377.5H53Z"/></g>
<g fill="#30d060" filter="url(#f1_85_0)"><path d="M58 355.5H60V356H62V355.5H64V374.5H62H60V372H58Z"/></g>
<g fill="#10e030" filter="url(#f1_85_2)"><path d="M66 359.5H68H70V358H72V378.5H70V379H68V377H66Z"/></g>
<g fill="#00b080" filter="url(#f1_88_0)"><path d="M72 355H74V355.5H76V356H78V353.5H80H82V354H84V356H86V355H88V357.5H90V377H88V380H86V382H84V383H82V380.5H80V382H78V381H76V378H74V380.5H72Z"/></g>
<g fill="#1e80c0" filter="url(#f1_70_0)"><path d="M74 357H89V378H74Z"/></g>
<g fill="#2050e0" filter="url(#f1_55_2)"><path d="M78 356H88V374H78Z"/></g>
<g fill="#10e030" filter="url(#f1_85_2)"><path d="M92 363H94V361H96V364H98V363.5H100V386H98V385H96V382H94V384H92Z"/><path d="M100 364H102H104V365H106V364H108H110V365.5H112V390H110V392.5H108V394.5H106V393H104V394.5H102V393.5H100Z"/></g>
<g fill="#ffcc00" filter="url(#f1_55_0)"><path d="M102 384H111V398H102Z"/></g>
<g fill="#a8ee10" filter="url(#f1_85_2)"><path d="M112 365H114V367.5H116V364.5H117V385.5H116V387H114H112Z"/></g>
<g fill="#10e030" filter="url(#f1_85_2)"><path d="M119 365H121V365.5H123V364.5H125V386H123V385.5H121V386H119Z"/></g>
<g fill="#a8ee10" filter="url(#f1_88_2)"><path d="M130 371.5H132V369H134V368H136V368.5H138V367.5H140V402H138V404.5H136V401.5H134V400.5H132V394H130Z"/></g>
<g fill="#10e030" filter="url(#f1_50_2)"><path d="M131 370H139V388H131Z"/></g>
<g fill="#ff8800" filter="url(#f1_70_2)"><path d="M132 398H139V407H132Z"/></g>
<g fill="#ffcc00" filter="url(#f1_80_0)"><path d="M146 370H150V376H146Z"/></g>
<g fill="#a8ee10" filter="url(#f1_85_2)"><path d="M153 369.5H155H157V386H155V385.5H153Z"/><path d="M157 368H159V368.5H161V367.5H163V369H165V405H163V406H161V403H159V405H157Z"/></g>
<g fill="#10e030" filter="url(#f1_50_2)"><path d="M157 368H165V388H157Z"/></g>
<g fill="#ff8800" filter="url(#f1_75_2)"><path d="M158 392H163V408H158Z"/></g>
<g fill="#10e030" filter="url(#f1_85_2)"><path d="M165 360.5H167V359.5H169V359H171V360H172V392.5H171V393H169V390.5H167V394.5H165Z"/></g>
<g fill="#a8ee10" filter="url(#f1_85_2)"><path d="M172 371.5H174V370H176V370.5H178H180V369H182V398.5H180V401H178V398.5H176H174V396H172Z"/></g>
<g fill="#ffcc00" filter="url(#f1_50_0)"><path d="M172 382H182V402H172Z"/></g>
<g fill="#ffcc00" filter="url(#f1_88_0)"><path d="M193 368H195V365H197V364.5H199V364H200V405H199V402.5H197V401H195V394.5H193Z"/></g>
<g fill="#f8f800" filter="url(#f1_70_0)"><path d="M195 367H199V395H195Z"/></g>
<g fill="#ff8800" filter="url(#f1_88_2)"><path d="M200 367H202V370H204V369H206V370H208V423H206V435H204V420.5H202V410.5H200Z"/></g>
<g fill="#f8f800" filter="url(#f1_88_0)"><path d="M208 368.5H210V367H212V368H214V366.5H216V366H218V365.5H220V365H222V367H224V367.5H226V414H224V413.5H222H220V412H218V413H216V414.5H214V411.5H212H210V412.5H208Z"/></g>
<g fill="#10e030" filter="url(#f1_45_2)"><path d="M209 368H225V415H209Z"/></g>
<g fill="#ffcc00" filter="url(#f1_85_0)"><path d="M210 410H218V448L216 449L212 446L210 420Z"/></g>
<g fill="#ff8800" filter="url(#f1_60_2)"><path d="M210 420H218V448H210Z"/></g>
<g fill="#ff8800" filter="url(#f1_85_2)"><path d="M219 410H221V452H219Z"/></g>
<g fill="#ff1000" filter="url(#f1_80_0)"><path d="M221 410H226L225 467H222Z"/></g>
<g fill="#ff8800" filter="url(#f1_80_2)"><path d="M203 410H207V436H203Z"/></g>
<g fill="#ff8800" filter="url(#f1_90_2)"><path d="M228 366.5H230V366H232V365H234V453H232V446.5H230V447H228Z"/></g>
<g fill="#ff4400" filter="url(#f1_60_2)"><path d="M228 400H234V455H228Z"/></g>
<g fill="#ff8800" filter="url(#f1_90_2)"><path d="M234 367.5H236V365.5H238V366.5H240H242H244V369.5H245V394.5H244V396.5H242V396H240V395H238H236V394H234Z"/></g>
<g fill="#ff4400" filter="url(#f1_92_2)"><path d="M234 390L241 392L245 403L250 420L252 438L253 470V484L246 490H243L238 470L234 460Z"/></g>
<g fill="#ff1000" filter="url(#f1_60_0)"><path d="M236 410H244L252 440L253 482L246 485L236 455Z"/></g>
<g fill="#ffcc00" filter="url(#f1_45_0)"><path d="M241 425H248V455H241Z"/></g>
<g fill="#7a0a8a" filter="url(#f1_75_0)"><path d="M239 440L245 442L248 460L247 480L245 491H243L240 470Z"/></g>
<g fill="#ff8800" filter="url(#f1_85_2)"><path d="M245 373H247V372.5H249V371H251V370H253V372H254V387H253V389.5H251V387H249V388H247V387.5H245Z"/></g>
<g fill="#ff4400" filter="url(#f1_90_2)"><path d="M254 368.5H256V370H258V369.5H260V370H262V369.5H264V368H266H268V368.5H270H272V370H274V370.5H276V371.5H278H280V386.5H278V392.5H276V393.5H274V391.5H272V392H270V394H268V392.5H266H264V391.5H262V393.5H260H258V390.5H256V389.5H254Z"/></g>
<g fill="#ff4400" filter="url(#f1_85_2)"><path d="M51 490.5H52V494.5H53V489H54V491H55H56V492H57V487H58V492.5H59V490.5H60V492H61V489.5H62V491H63V514.5H62V515H61V515.5H60V516H59V515.5H58V515H57V515.5H56H55V515H54H53H52H51Z"/></g>
<g fill="#ffcc00" filter="url(#f1_45_0)"><path d="M51 492H63V516H51Z"/></g>
<g fill="#ff1000" filter="url(#f1_35_0)"><path d="M51 490H63V508H51Z"/></g>
<g fill="#1a1aff" filter="url(#f1_25_0)"><path d="M51 515H63V531H51Z"/></g>
<g fill="#ff1000" filter="url(#f1_25_0)"><path d="M51 515H63V531H51Z"/></g>
<g fill="#ffcc00" filter="url(#f1_30_0)"><path d="M51 515H63V531H51Z"/></g>
<g fill="#ffcc00" filter="url(#f1_82_0)"><path d="M65 494.5H66V491H67V495.5H68V496.5H69V493H70V494.5H71V495.5H72V496.5H73V496H74V494.5H75V496.5H76V497.5H77V495.5H78V499.5H79H80V497H81V494H82V497H83V502H84V500H85V514.5H84H83H82V515H81V514H80V516H79V515H78V515.5H77V514.5H76H75H74V515.5H73V514H72V515H71V514.5H70V515.5H69V515H68V515.5H67V515H66V515.5H65Z"/></g>
<g fill="#ff8800" filter="url(#f1_50_2)"><path d="M65 492H85V516H65Z"/></g>
<g fill="#ff1000" filter="url(#f1_25_0)"><path d="M65 492H80V508H65Z"/></g>
<g fill="#10e030" filter="url(#f1_25_2)"><path d="M72 498H85V516H72Z"/></g>
<g fill="#ff8800" filter="url(#f1_25_2)"><path d="M65 516H85V531H65Z"/></g>
<g fill="#10e030" filter="url(#f1_20_2)"><path d="M65 516H85V531H65Z"/></g>
<g fill="#1a1aff" filter="url(#f1_10_0)"><path d="M65 516H85V531H65Z"/></g>
<g fill="#ff8800" filter="url(#f1_30_2)"><path d="M85 506H92V531H85Z"/></g>
<g fill="#10e030" filter="url(#f1_20_2)"><path d="M85 516H92V531H85Z"/></g>
<g fill="#ff4400" filter="url(#f1_50_2)"><path d="M93 502H98V531H93Z"/></g>
<g fill="#7a0a8a" filter="url(#f1_90_0)"><path d="M98 501.5H100V500H102H104H106V498.5H108V500.5H110V499H112V511.5H110V511H108H106V511.5H104H102V512H100V511H98Z"/></g>
<g fill="#ff1000" filter="url(#f1_70_0)"><path d="M98 511H112V522H98Z"/></g>
<g fill="#ff8800" filter="url(#f1_50_2)"><path d="M98 518H112V531H98Z"/></g>
<g fill="#10e030" filter="url(#f1_35_2)"><path d="M95 520H112V531H95Z"/></g>
<g fill="#1a1aff" filter="url(#f1_20_0)"><path d="M95 522H112V531H95Z"/></g>
<g fill="#ff4400" filter="url(#f1_85_2)"><path d="M112 493.5H114V492.5H116V493H118V531H116H114H112Z"/></g>
<g fill="#ff1000" filter="url(#f1_40_0)"><path d="M112 493H118V515H112Z"/></g>
<g fill="#10e030" filter="url(#f1_82_2)"><path d="M119 498.5H120V500.5H121V497H122H123V496.5H124V497H125V498H126V500.5H127V499H128V500.5H129V500H130V498H131V499H132V497H133V498H134V496H135V491H136V501H137V499H138V497.5H139V495H140V497H141V499H142V500.5H143V497H144V493H145V497H146V520H145V518.5H144V519.5H143V519H142V520H141V519H140V520H139V518.5H138H137V519H136V519.5H135V519H134V519.5H133V518.5H132V519.5H131V519H130V519.5H129H128V520H127V518H126V519H125V518H124V519.5H123V518.5H122V519.5H121V518H120V518.5H119Z"/></g>
<g fill="#a8ee10" filter="url(#f1_55_2)"><path d="M119 496H146V520H119Z"/></g>
<g fill="#ffcc00" filter="url(#f1_35_0)"><path d="M119 496H146V515H119Z"/></g>
<g fill="#ff1000" filter="url(#f1_20_0)"><path d="M119 496H146V505H119Z"/></g>
<g fill="#1a1aff" filter="url(#f1_30_0)"><path d="M119 520H146V531H119Z"/></g>
<g fill="#10e030" filter="url(#f1_35_2)"><path d="M119 520H146V531H119Z"/></g>
<g fill="#ff1000" filter="url(#f1_80_0)"><path d="M147 488.5H148V495.5H149V491H150V493H151V494H152V492H153V490H154V486H155V490.5H156V487.5H157V489H158V482.5H159V481.5H160V480.5H161V482.5H162V482H163V486H164H165V490H166V486H167V491.5H168V490H169V488.5H170V500H169H168H167H166H165H164H163H162H161H160H159H158H157H156H155H154H153H152H151H150H149H148H147Z"/></g>
<g fill="#ffcc00" filter="url(#f1_85_0)"><path d="M147 499H170V532H147Z"/></g>
<g fill="#ff8800" filter="url(#f1_45_2)"><path d="M147 499H170V532H147Z"/></g>
<g fill="#10e030" filter="url(#f1_60_2)"><path d="M147 508H170V532H147Z"/></g>
<g fill="#1a1aff" filter="url(#f1_15_0)"><path d="M147 520H170V532H147Z"/></g>
<g fill="#10e030" filter="url(#f1_85_2)"><path d="M170 501.5H172V500.5H174V499H176V536H174H172H170Z"/></g>
<g fill="#ffcc00" filter="url(#f1_35_0)"><path d="M170 500H176V520H170Z"/></g>
<g fill="#1a1aff" filter="url(#f1_30_0)"><path d="M170 515H176V536H170Z"/></g>
<g fill="#ff8800" filter="url(#f1_82_2)"><path d="M176 499.5H177V496.5H178V499.5H179V495H180H181V496H182V493.5H183V494.5H184V495H185V496H186V493.5H187V495.5H188H189H190V497.5H191V498H192V495H193V497H194V499H195V498H196V496.5H197V495.5H198V532H197H196H195H194H193H192H191H190H189H188H187H186H185H184H183H182H181H180H179H178H177H176Z"/></g>
<g fill="#ffcc00" filter="url(#f1_50_0)"><path d="M176 494H197V515H176Z"/></g>
<g fill="#ff1000" filter="url(#f1_45_0)"><path d="M178 494H197V520H178Z"/></g>
<g fill="#7a0a8a" filter="url(#f1_20_0)"><path d="M180 502H195V518H180Z"/></g>
<g fill="#ff4400" filter="url(#f1_85_2)"><path d="M186 480.5H188V480H190V479.5H192V481.5H194V494H192H190H188H186Z"/></g>
<g fill="#10e030" filter="url(#f1_55_2)"><path d="M176 516H197V532H176Z"/></g>
<g fill="#1a1aff" filter="url(#f1_28_0)"><path d="M176 520H197V532H176Z"/></g>
<g fill="#ff1000" filter="url(#f1_70_0)"><path d="M200 502H205V532H200Z"/></g>
<g fill="#7a0a8a" filter="url(#f1_30_0)"><path d="M200 502H205V520H200Z"/></g>
<g fill="#ffcc00" filter="url(#f1_75_0)"><path d="M206 505H212V532H206Z"/></g>
<g fill="#ff4400" filter="url(#f1_70_2)"><path d="M213 504H216V530H213Z"/></g>
<g fill="#ff8800" filter="url(#f1_80_2)"><path d="M218 507H220V506H222V505H224V506.5H226V532H224H222H220H218Z"/></g>
<g fill="#ff1000" filter="url(#f1_40_0)"><path d="M218 506H226V520H218Z"/></g>
<g fill="#10e030" filter="url(#f1_40_2)"><path d="M218 522H226V532H218Z"/></g>
<g fill="#ff1000" filter="url(#f1_90_0)"><path d="M228 497L232 501L236 508L240 518L241 532H228Z"/></g>
<g fill="#7a0a8a" filter="url(#f1_80_0)"><path d="M228 498L232 502L236 510L238 520L228 516Z"/></g>
<g fill="#ffcc00" filter="url(#f1_45_0)"><path d="M228 518H241V532H228Z"/></g>
<g fill="#10e030" filter="url(#f1_50_2)"><path d="M228 522H240V535H228Z"/></g>
<g fill="#1a1aff" filter="url(#f1_40_0)"><path d="M228 526H240V536H228Z"/></g>
<g fill="#ff8800" filter="url(#f1_60_2)"><path d="M240 522H250V534H240Z"/></g>
<g fill="#ffcc00" filter="url(#f1_96_0)"><path d="M52 531H282V535H52Z"/></g>
<g fill="#10e030" filter="url(#f1_80_2)"><path d="M270 523H272V536H270Z"/></g>
<g fill="#ff8800" filter="url(#f1_88_2)"><path d="M284 511.5H285V514.5H286V515H287V511.5H288V515.5H289V513.5H290V513H291V512.5H292V515.5H293V511.5H294V512.5H295V508.5H296V516H297V506.5H298V515H299V507.5H300V511H301V505H302V514.5H303V512H304V515.5H305V503.5H306V508.5H307V513.5H308H309V515H310V513H311V504H312V507H313V499H314V515H315V495.5H316V492.5H317V501H318V502.5H319V500H320V515H321V509H322V515.5H323V502H324V506.5H325V515H326V507.5H327V498.5H328V504.5H329V514.5H330V492.5H331V515.5H332V495H333V488H334V494H335V483.5H336V499.5H337V510.5H338V500.5H339V487.5H340V486H341V503.5H342V478H343V515.5H344V501.5H345V515.5H346V507H347V481.5H348V514H349V481H350V484.5H351V494.5H352V515H353V503.5H354V496H355V514.5H356V511H357V515.5H358V509.5H359V510.5H360V538H284Z"/></g>
<g fill="#ff1000" filter="url(#f1_45_0)"><path d="M284 511.5H285V514.5H286V515H287V511.5H288V515.5H289V513.5H290V513H291V512.5H292V515.5H293V511.5H294V512.5H295V508.5H296V516H297V506.5H298V515H299V507.5H300V511H301V505H302V514.5H303V512H304V515.5H305V503.5H306V508.5H307V513.5H308H309V515H310V513H311V504H312V507H313V499H314V515H315V495.5H316V492.5H317V501H318V502.5H319V500H320V515H321V509H322V515.5H323V502H324V506.5H325V515H326V507.5H327V498.5H328V504.5H329V514.5H330V492.5H331V515.5H332V495H333V488H334V494H335V483.5H336V499.5H337V510.5H338V500.5H339V487.5H340V486H341V503.5H342V478H343V515.5H344V501.5H345V515.5H346V507H347V481.5H348V514H349V481H350V484.5H351V494.5H352V515H353V503.5H354V496H355V514.5H356V511H357V515.5H358V509.5H359V510.5H360V520H284Z"/></g>
<g fill="#ffcc00" filter="url(#f1_80_0)"><path d="M284 517.5H285V520.5H286V521H287V517.5H288V521.5H289V519.5H290V519H291V518.5H292V521.5H293V517.5H294V518.5H295V514.5H296V522H297V512.5H298V521H299V513.5H300V517H301V511H302V520.5H303V518H304V521.5H305V509.5H306V514.5H307V519.5H308H309V521H310V519H311V510H312V513H313V505H314V521H315V501.5H316V498.5H317V507H318V508.5H319V506H320V521H321V515H322V521.5H323V508H324V512.5H325V521H326V513.5H327V504.5H328V510.5H329V520.5H330V498.5H331V521.5H332V501H333V494H334V500H335V489.5H336V505.5H337V516.5H338V506.5H339V493.5H340V492H341V509.5H342V484H343V521.5H344V507.5H345V521.5H346V513H347V487.5H348V520H349V487H350V490.5H351V500.5H352V521H353V509.5H354V502H355V520.5H356V517H357V521.5H358V515.5H359V516.5H360V538H284Z"/></g>
<g fill="#10e030" filter="url(#f1_88_2)"><path d="M284 523.5H285V526.5H286V527H287V523.5H288V527.5H289V525.5H290V525H291V524.5H292V527.5H293V523.5H294V524.5H295V520.5H296V528H297V518.5H298V527H299V519.5H300V523H301V517H302V526.5H303V524H304V527.5H305V515.5H306V520.5H307V525.5H308H309V527H310V525H311V516H312V519H313V511H314V527H315V507.5H316V504.5H317V513H318V514.5H319V512H320V527H321V521H322V527.5H323V514H324V518.5H325V527H326V519.5H327V510.5H328V516.5H329V526.5H330V504.5H331V527.5H332V507H333V500H334V506H335V495.5H336V511.5H337V522.5H338V512.5H339V499.5H340V498H341V515.5H342V490H343V527.5H344V513.5H345V527.5H346V519H347V493.5H348V526H349V493H350V496.5H351V506.5H352V527H353V515.5H354V508H355V526.5H356V523H357V527.5H358V521.5H359V522.5H360V538H284Z"/></g>
<g fill="#10e030" filter="url(#f1_70_2)"><path d="M284 509.5H285V511.5H286V513H287V516H288V516.5H289V516H290H291V515H292V513.5H293V516.5H294V514H295V516H296V512.5H297V514.5H298V513H299V513.5H300V508.5H301V515H302V513.5H303V509H304V513.5H305V513H306V514H307V515.5H308H309V513.5H310H311V517H312V513.5H313V516H314V510H315V515.5H316V513.5H317V514H318V515.5H319V513H320V512H321H322V511.5H323V511H324V517H325V515.5H326V510H327V514H328V513H329V515H330V513.5H331V514.5H332H333H334V513.5H335V514H336V516.5H337V516H338V514.5H339V513H340H341V514H342V515H343V514H344V510.5H345V513.5H346V514.5H347V513H348V513.5H349V515.5H350H351V514.5H352V514H353H354V511.5H355V514.5H356V514H357V513.5H358V538H357H356H355H354H353H352H351H350H349H348H347H346H345H344H343H342H341H340H339H338H337H336H335H334H333H332H331H330H329H328H327H326H325H324H323H322H321H320H319H318H317H316H315H314H313H312H311H310H309H308H307H306H305H304H303H302H301H300H299H298H297H296H295H294H293H292H291H290H289H288H287H286H285H284Z"/></g>
<g fill="#ffcc00" filter="url(#f1_30_0)"><path d="M284 513H358V522H284Z"/></g>
<g fill="#1a1aff" filter="url(#f1_35_0)"><path d="M284 516H290V532H284Z"/></g>
<g fill="#1a1aff" filter="url(#f1_55_0)"><path d="M291 516H300V538H291Z"/></g>
<g fill="#1a1aff" filter="url(#f1_25_0)"><path d="M300 520H307V538H300Z"/></g>
<g fill="#1a1aff" filter="url(#f1_60_0)"><path d="M310 514H318V538H310Z"/></g>
<g fill="#ffcc00" filter="url(#f1_50_0)"><path d="M320 515H326V538H320Z"/></g>
<g fill="#1a1aff" filter="url(#f1_55_0)"><path d="M326 513H336V538H326Z"/></g>
<g fill="#c4c4ee" filter="url(#f1_90_0)"><path d="M336 515H338V538H336Z"/></g>
<g fill="#1a1aff" filter="url(#f1_50_0)"><path d="M338 515H345V538H338Z"/></g>
<g fill="#1a1aff" filter="url(#f1_40_0)"><path d="M348 518H354V538H348Z"/></g>
<g fill="#ffcc00" filter="url(#f1_90_0)"><path d="M283 531H292V535H283Z"/></g>
<g fill="#10e030" filter="url(#f1_40_2)"><path d="M355 520H362V536H355Z"/></g>
<g fill="#ffcc00" filter="url(#f1_85_0)"><path d="M362 484.5H364V484H366V483.5H367V507H366V510H364V508.5H362Z"/></g>
<g fill="#ff8800" filter="url(#f1_45_2)"><path d="M362 483H367V498H362Z"/></g>
<g fill="#10e030" filter="url(#f1_40_2)"><path d="M362 495H367V510H362Z"/></g>
<g fill="#ffcc00" filter="url(#f1_78_0)"><path d="M355 527H392V536H355Z"/></g>
<g fill="#1a1aff" filter="url(#f1_29_10)"><use href="#s4"/></g>
<g fill="#10e030" filter="url(#f1_28_11)"><use href="#s4"/></g>
<g fill="#ff8800" filter="url(#f1_22_12)"><use href="#s4"/></g>
<g fill="#ffcc00" filter="url(#f1_33_13)"><use href="#s4"/></g>
<g fill="#ffcc00" filter="url(#f1_50_14)"><path d="M392 528H700V536H392Z"/></g>
<g fill="#ff1000" filter="url(#f1_21_15)"><use href="#s4"/></g>
<g fill="#7a0a8a" filter="url(#f1_30_16)"><use href="#s4"/></g>
<g fill="#ff1000" filter="url(#f1_90_0)"><path d="M580 496H582V494H584V491H586V493H588V494H590V498H591V520H590H588H586H584H582H580Z"/></g>
<g fill="#ffcc00" filter="url(#f1_60_0)"><path d="M581 500H590V515H581Z"/></g>
<g fill="#10e030" filter="url(#f1_75_2)"><path d="M580 515H592V538H580Z"/></g>
<g fill="#1a1aff" filter="url(#f1_50_0)"><path d="M580 522H592V538H580Z"/></g>
<g fill="#10e030" filter="url(#f1_55_2)"><path d="M590 520H598V538H590Z"/></g>
<g fill="#ff8800" filter="url(#f1_40_2)"><path d="M590 520H600V538H590Z"/></g>
<g fill="#ff1000" filter="url(#f1_30_0)"><path d="M590 520H600V538H590Z"/></g>
<g fill="#ff8800" filter="url(#f1_90_2)"><path d="M471 378.5H473V375.5H475V376.5H477V377.5H479V380H480V414.5H479V416H477V419.5H475V415.5H473V413.5H471Z"/></g>
<g fill="#ff1000" filter="url(#f1_60_0)"><path d="M471 395H480V420H471Z"/></g>
<g fill="#7a0a8a" filter="url(#f1_80_0)"><path d="M473 410H476V421H473Z"/></g>
<g fill="#ffcc00" filter="url(#f1_90_0)"><path d="M481 379H483V376.5H485V378H487H489V379H491V378H493H494V396H493H491H489H487H485H483H481Z"/></g>
<g fill="#10e030" filter="url(#f1_45_2)"><path d="M484 382H488V395H484Z"/></g>
<g fill="#ff4400" filter="url(#f1_90_2)"><path d="M481 397.5H483V396H485V395.5H487V394.5H489V395H491V397.5H493V396H494V423.5H493V430.5H491V428H489V430.5H487V434H485V420H483V408H481Z"/></g>
<g fill="#ff8800" filter="url(#f1_90_2)"><path d="M499 383H503V427H499Z"/></g>
<g fill="#ff1000" filter="url(#f1_60_0)"><path d="M499 400H503V427H499Z"/></g>
<g fill="#7a0a8a" filter="url(#f1_80_0)"><path d="M499 418H502V427H499Z"/></g>
<g fill="#ffcc00" filter="url(#f1_90_0)"><path d="M506 382H511V410H506Z"/></g>
<g fill="#ff8800" filter="url(#f1_60_2)"><path d="M507 390H511V410H507Z"/></g>
<g fill="#ff8800" filter="url(#f1_90_2)"><path d="M513 383H518L520 425L516 426Z"/></g>
<g fill="#ffcc00" filter="url(#f1_60_0)"><path d="M513 383H518V400H513Z"/></g>
<g fill="#ff4400" filter="url(#f1_90_2)"><path d="M520 387H524V425H520Z"/></g>
<g fill="#7a0a8a" filter="url(#f1_70_0)"><path d="M521 407H523V423H521Z"/></g>
<g fill="#ff8800" filter="url(#f1_90_2)"><path d="M527 393H532V428H527Z"/></g>
<g fill="#ffcc00" filter="url(#f1_60_0)"><path d="M528 394H532V410H528Z"/></g>
<g fill="#fff"><rect x="63.5" y="310" width="2" height="229"/><rect x="90.6" y="310" width="2" height="229"/><rect x="117.7" y="310" width="2" height="229"/><rect x="144.8" y="310" width="2" height="229"/><rect x="171.9" y="310" width="2" height="229"/><rect x="199.0" y="310" width="2" height="229"/><rect x="226.0" y="310" width="2" height="229"/><rect x="253.1" y="310" width="2" height="229"/><rect x="280.2" y="310" width="2" height="229"/><rect x="307.3" y="310" width="2" height="229"/><rect x="334.4" y="310" width="2" height="229"/><rect x="361.5" y="310" width="2" height="229"/><rect x="388.5" y="310" width="2" height="229"/><rect x="415.6" y="310" width="2" height="229"/><rect x="442.7" y="310" width="2" height="229"/><rect x="469.8" y="310" width="2" height="229"/><rect x="496.9" y="310" width="2" height="229"/><rect x="524.0" y="310" width="2" height="229"/><rect x="551.0" y="310" width="2" height="229"/><rect x="578.1" y="310" width="2" height="229"/><rect x="605.2" y="310" width="2" height="229"/><rect x="632.3" y="310" width="2" height="229"/><rect x="659.4" y="310" width="2" height="229"/><rect x="686.5" y="310" width="2" height="229"/></g>
<g fill="#1a2aff" filter="url(#f2_48_0)"><path d="M50 628L57 626L66 625L80 624L92 628L100 631L117 634L126 636V655L117 660L112 668L104 667L100 662L96 654L92 657L85 660L75 658L66 650L60 647L57 650L50 652Z"/><path d="M130 640L134 637L139 639L140 660L139 677L134 676L131 665Z"/><path d="M153 640H156V652H153Z"/><path d="M158 632L165 630L172 638L182 640V672L176 670L172 668L166 678L160 670L158 660Z"/><path d="M193 635L201 636L210 639V680L203 685H199L193 670Z"/><path d="M245 642L255 640L265 638L272 639L279 642V658L272 663L262 665L255 662L248 660L245 650Z"/></g>
<g fill="#00a880" filter="url(#f2_50_2)"><path d="M70 630L80 628L90 632V648L80 650L70 644Z"/></g>
<g fill="#10e030" filter="url(#f2_35_2)"><path d="M72 633H86V644H72Z"/></g>
<g fill="#00a880" filter="url(#f2_35_2)"><path d="M100 640H112V662H100Z"/></g>
<g fill="#10e030" filter="url(#f2_15_2)"><path d="M103 644H110V658H103Z"/></g>
<g fill="#00a880" filter="url(#f2_40_2)"><path d="M131 645H139V672H131Z"/></g>
<g fill="#10e030" filter="url(#f2_20_2)"><path d="M132 658H137V672H132Z"/></g>
<g fill="#00a880" filter="url(#f2_35_2)"><path d="M159 643H170V670H159Z"/></g>
<g fill="#00a880" filter="url(#f2_25_2)"><path d="M50 630H66V646H50Z"/><path d="M165 643H182V665H165Z"/></g>
<g fill="#00a880" filter="url(#f2_40_2)"><path d="M262 640H278V660H262Z"/></g>
<g fill="#00a880" filter="url(#f2_25_2)"><path d="M246 644H262V660H246Z"/></g>
<g fill="#1a2aff" filter="url(#f2_55_0)"><path d="M193 638H197V668H193Z"/></g>
<g fill="#1a2aff" filter="url(#f2_70_0)"><path d="M197 638H200V682H197Z"/></g>
<g fill="#1a2aff" filter="url(#f2_50_0)"><path d="M200 638H210V680H200Z"/></g>
<g fill="#1a2aff" filter="url(#f2_65_0)"><path d="M209 638L216 635L224 636L228 635L232 636V715L229 716L226 705L225 736L222 737L221 722H219L217 718L212 716L210 690L209 660Z"/></g>
<g fill="#10e030" filter="url(#f2_70_2)"><path d="M211 640H222L223 690L222 718L217 712L212 680Z"/></g>
<g fill="#00a880" filter="url(#f2_40_2)"><path d="M211 640H223V718H211Z"/></g>
<g fill="#f0f000" filter="url(#f2_45_1)"><path d="M212 642H220V690H215Z"/></g>
<g fill="#1a2aff" filter="url(#f2_70_0)"><path d="M227 636H231V715H227Z"/></g>
<g fill="#1a2aff" filter="url(#f2_65_0)"><path d="M232 636H240L244 640L243 660L247 680L252 705L253 740V756L244 758L242 740L235 725L230 710L232 670Z"/></g>
<g fill="#00a880" filter="url(#f2_55_2)"><path d="M232 638H243V662H232Z"/></g>
<g fill="#10e030" filter="url(#f2_65_2)"><path d="M232 665H240L246 690L251 720L250 745H244L234 725L232 700Z"/></g>
<g fill="#f0f000" filter="url(#f2_45_1)"><path d="M234 700L244 705L247 730L242 732L235 720Z"/></g>
<g fill="#00a880" filter="url(#f2_35_2)"><path d="M232 665H252V745H232Z"/></g>
<g fill="#ff8800" filter="url(#f2_20_2)"><path d="M240 710H250V730H240Z"/></g>
<g fill="#1a2aff" filter="url(#f2_60_0)"><path d="M51 759.5H53V761H55V760H57V759.5H59V758H61H63V768H61H59H57H55H53H51Z"/></g>
<g fill="#1a2aff" filter="url(#f2_45_0)"><path d="M51 783H63V790H51Z"/></g>
<g fill="#10e030" filter="url(#f2_80_2)"><path d="M51 765H52H53V765.5H54V762.5H55V765H56V762.5H57V765.5H58V764H59V762.5H60V764H61V765.5H62V765H63V785.5H62H61V786H60V785.5H59V784H58V785H57V785.5H56H55V784.5H54V785.5H53V784H52V784.5H51Z"/></g>
<g fill="#ffcc00" filter="url(#f2_50_0)"><path d="M51 768.5H52V769.5H53V768H54V766.5H55V768.5H56V767.5H57V768H58V766H59V765.5H60V767H61V768H62V766H63V783H62V782H61V783.5H60V782.5H59V783.5H58V782.5H57V783H56V784H55H54V783H53V784H52V782.5H51Z"/></g>
<g fill="#ff8800" filter="url(#f2_30_2)"><path d="M51 770.5H52V771H53V774H54V772.5H55V771H56V770.5H57V770H58V771H59V769.5H60V770.5H61V772H62V770.5H63V782.5H62V782H61V783.5H60V782.5H59V783H58V782H57V783.5H56V782.5H55V783.5H54H53V783H52H51Z"/></g>
<g fill="#1a2aff" filter="url(#f2_60_0)"><path d="M65 763H67V765H69V764.5H71V765H73V764H75V763.5H77V764H79V766H81V767H83V769H85V770H83H81H79H77H75H73H71H69H67H65Z"/></g>
<g fill="#1a2aff" filter="url(#f2_40_0)"><path d="M65 783H85V790H65Z"/></g>
<g fill="#10e030" filter="url(#f2_80_2)"><path d="M65 767H66V764.5H67H68V762H69V764.5H70H71V768H72V764.5H73V766H74V762H75V761.5H76V764.5H77H78V767H79V764.5H80V767H81V766.5H82V767H83H84V765.5H85V786H84H83V784.5H82V785H81V785.5H80V784.5H79V785H78H77V786H76V784.5H75V784H74V784.5H73V786H72H71V785H70V785.5H69V784.5H68H67V784H66V786H65Z"/></g>
<g fill="#ffcc00" filter="url(#f2_45_0)"><path d="M65 764.5H66V769.5H67V764H68V767.5H69V766H70V767H71V768H72V765H73H74V767H75V770H76V768H77V763H78V769.5H79V767.5H80V764H81V766.5H82V783.5H81H80V783H79V783.5H78V782H77H76V783.5H75V782.5H74V783H73H72H71V783.5H70V783H69H68V782H67H66V783H65Z"/></g>
<g fill="#ff8800" filter="url(#f2_20_2)"><path d="M65 773.5H66V769H67V773H68V767.5H69V772.5H70V769.5H71V772H72V774H73V770H74H75V768H76V771H77V770.5H78V772H79V770H80V784H79H78V783H77H76V783.5H75V783H74V783.5H73V783H72V782H71V783.5H70V782.5H69V783H68H67V783.5H66H65Z"/></g>
<g fill="#1a2aff" filter="url(#f2_30_0)"><path d="M85 778H92V796H85Z"/></g>
<g fill="#10e030" filter="url(#f2_20_2)"><path d="M85 776.5H86V774.5H87V774H88V777.5H89V775H90V777H91V779.5H92V795.5H91V795H90V794.5H89V794H88V795H87V796H86H85Z"/></g>
<g fill="#1a2aff" filter="url(#f2_55_0)"><path d="M93 771.5H95V771H97V771.5H99V769.5H101V770H103V769.5H105V771.5H107V768H109V768.5H111V767.5H113H115V766.5H117V763H118V796H117H115H113H111H109H107H105H103H101H99H97H95H93Z"/></g>
<g fill="#10e030" filter="url(#f2_65_2)"><path d="M95 773.5H96V772.5H97V775H98V773.5H99V774H100V772H101V774.5H102V774H103V772.5H104V769.5H105V770.5H106V772.5H107V775.5H108V771.5H109V774.5H110H111V775H112V773.5H113V771.5H114V768.5H115V772H116V774H117V775H118V792H117V793.5H116H115V793H114V792H113V793H112V792.5H111H110H109V794H108V792.5H107V794H106V793H105H104H103V793.5H102V794H101V793H100H99V792H98V794H97V793H96V794H95Z"/></g>
<g fill="#ffcc00" filter="url(#f2_35_0)"><path d="M100 778.5H101H102V776H103V777H104V775H105V776H106V776.5H107V774.5H108V777H109V777.5H110V775.5H111V780H112V775.5H113V778H114H115V777.5H116V779.5H117H118V793H117V792H116V793.5H115V793H114H113V793.5H112V793H111V794H110H109H108V793H107V792H106V793.5H105V793H104V792.5H103V794H102V793H101V792.5H100Z"/></g>
<g fill="#ff8800" filter="url(#f2_55_2)"><path d="M108 778.5H109V784.5H110V785H111V781.5H112V780H113V782H114V783H115V782H116V785H117V783.5H118V801.5H117V802H116V801H115V801.5H114V800.5H113V801H112H111H110V800.5H109V801.5H108Z"/></g>
<g fill="#ff1000" filter="url(#f2_30_0)"><path d="M110 790H117V802H110Z"/></g>
<g fill="#1a2aff" filter="url(#f2_60_0)"><path d="M119 764.5H121V762H123H125V762.5H127V762H129V759H131H133V758.5H135V760.5H137V759.5H139V757H141V759.5H143V760.5H145V762H146V770H145H143H141H139H137H135H133H131H129H127H125H123H121H119Z"/></g>
<g fill="#10e030" filter="url(#f2_85_2)"><path d="M119 766.5H120V765.5H121V764.5H122V765.5H123V769H124V766.5H125V766H126V766.5H127V767H128V769H129V768H130H131V767H132V768.5H133H134V763.5H135V765H136V767.5H137V770H138H139V766H140V767.5H141V767H142V767.5H143V769.5H144H145V765H146V797H145V796H144H143V797.5H142H141V796.5H140V797.5H139H138V797H137H136V798H135H134V796.5H133V797.5H132V796.5H131V797.5H130V798H129V797H128V797.5H127V797H126H125V796H124V797.5H123H122V797H121V796.5H120V797.5H119Z"/></g>
<g fill="#ffcc00" filter="url(#f2_55_0)"><path d="M119 773.5H120V769.5H121V771H122V769H123V773.5H124V774H125V772H126V771.5H127H128V767.5H129V770.5H130H131V774H132V771H133V773H134V769.5H135V768H136V771H137V770H138V770.5H139V769.5H140V770.5H141H142V771.5H143V771H144V769H145V771H146V795H145H144V794.5H143V796H142H141V795.5H140V796H139V794H138V795.5H137H136V796H135H134V795.5H133V794.5H132V795.5H131H130V795H129H128V796H127V795H126H125V794.5H124V795.5H123V795H122V795.5H121V794.5H120V795.5H119Z"/></g>
<g fill="#ff8800" filter="url(#f2_35_2)"><path d="M119 776H120V778H121V775.5H122H123H124V779H125V776.5H126V779H127V777.5H128V779.5H129V777.5H130V776.5H131V777H132V776.5H133V776H134V778H135V779H136V777.5H137V776.5H138H139H140V779H141V773H142V777H143V777.5H144V776H145V778.5H146V794H145V794.5H144V795.5H143V795H142V795.5H141V794H140H139V795H138V794H137V794.5H136V795H135H134H133V794.5H132V796H131V795H130V796H129V795H128H127V794.5H126V796H125V794.5H124V795.5H123V796H122V794.5H121V796H120V795H119Z"/></g>
<g fill="#1a2aff" filter="url(#f2_60_0)"><path d="M147 763H149V762H151V759.5H153V757.5H155V756.5H157V752.5H159V751.5H161H163V755.5H165V757H167V761H169V765H170V770H169H167H165H163H161H159H157H155H153H151H149H147Z"/></g>
<g fill="#10e030" filter="url(#f2_85_2)"><path d="M147 770H148V765H149V768H150H151V767H152V768H153V766.5H154V765H155V766.5H156V765.5H157V768H158V769.5H159V768H160V769H161V767H162V768.5H163V763.5H164V765H165V767H166V768.5H167V767.5H168V765.5H169V763.5H170V801H169H168V801.5H167H166H165V801H164V802H163V801.5H162V802H161V800.5H160H159V801.5H158V801H157H156V802H155V800.5H154V800H153V800.5H152V802H151V800.5H150V802H149V801.5H148V802H147Z"/></g>
<g fill="#ffcc00" filter="url(#f2_55_0)"><path d="M147 770H148V773.5H149V770H150V768H151V770H152V769H153V773H154V770.5H155H156V773.5H157V772.5H158V771H159V770.5H160V771.5H161V769H162V771H163V768.5H164V769.5H165V770.5H166V769H167V772.5H168V771H169V770H170V797.5H169H168H167V797H166V796H165V797H164V796H163V798H162V796.5H161V797H160V797.5H159V796H158V797.5H157H156V797H155V798H154H153V796.5H152V797H151V796.5H150V797.5H149V796H148H147Z"/></g>
<g fill="#ff8800" filter="url(#f2_40_2)"><path d="M150 777H151V779.5H152V778.5H153H154V779H155V776.5H156H157V777H158V776H159V779H160V775H161V777H162V776.5H163V774.5H164V776H165V775.5H166V777.5H167V778H168V796.5H167V797.5H166V797H165H164H163V798H162V797H161H160H159V797.5H158V796.5H157H156H155V797.5H154V796.5H153V797.5H152V796H151V797.5H150Z"/></g>
<g fill="#ff1000" filter="url(#f2_20_0)"><path d="M150 784H168V798H150Z"/></g>
<g fill="#1a2aff" filter="url(#f2_15_0)"><path d="M147 772H170V802H147Z"/></g>
<g fill="#10e030" filter="url(#f2_80_2)"><path d="M173 769H174V767H175V770H176V800.5H175V801H174H173Z"/></g>
<g fill="#1a2aff" filter="url(#f2_50_0)"><path d="M170 768H176V806H170Z"/></g>
<g fill="#1a2aff" filter="url(#f2_55_0)"><path d="M176 767H178V766.5H180V764H182H184V764.5H186V763H188H190V762.5H192V763H194V765H196V767H198V776H196H194H192H190H188H186H184H182H180H178H176Z"/></g>
<g fill="#10e030" filter="url(#f2_75_2)"><path d="M176 773H177V771H178H179V770H180V771.5H181V774H182V770.5H183H184V772H185V768.5H186V770H187V772.5H188V772H189V771H190V773H191V770H192V773.5H193V770.5H194V771.5H195V773H196V770H197V798.5H196V799.5H195V798H194V800H193V799H192V798H191V799H190V799.5H189H188V799H187V798.5H186H185V798H184V800H183H182V799.5H181H180H179V798H178H177V799.5H176Z"/></g>
<g fill="#ffcc00" filter="url(#f2_45_0)"><path d="M178 770.5H179V775.5H180V773.5H181V775.5H182V772.5H183V774.5H184H185V773.5H186V776H187V776.5H188H189H190V774.5H191V776H192V777H193V771H194V775H195V772H196V776H197V797.5H196V796.5H195V797.5H194V797H193V796.5H192H191V797H190H189H188V796.5H187V796H186H185V797H184V796.5H183V797H182V797.5H181H180V797H179V796.5H178Z"/></g>
<g fill="#ff8800" filter="url(#f2_30_2)"><path d="M180 778H181H182V780H183V778H184V777.5H185V782H186V780.5H187V778H188V779H189H190V780.5H191V779H192V775H193V781H194V781.5H195V796H194V797.5H193V798H192H191V797H190V797.5H189V797H188V797.5H187V797H186H185H184V797.5H183V798H182V796.5H181H180Z"/></g>
<g fill="#1a2aff" filter="url(#f2_60_0)"><path d="M187 752.5H189V751H191H193V750.5H194V766H193H191H189H187Z"/></g>
<g fill="#1a2aff" filter="url(#f2_30_0)"><path d="M197 774H228V802H197Z"/></g>
<g fill="#10e030" filter="url(#f2_40_2)"><path d="M200 779H201V777.5H202V775.5H203V778H204V781.5H205V780.5H206V777H207V780H208V775.5H209V778H210V779.5H211V780H212H213V778H214V782H215V781H216V779H217V778.5H218V778H219V781H220V778H221V779H222V779.5H223V777H224V778.5H225V781H226H227V781.5H228V800.5H227V801.5H226H225V800.5H224V802H223V801.5H222H221V800.5H220V801.5H219H218H217V800.5H216V801H215H214H213V800H212V800.5H211V801H210V802H209V801.5H208V800.5H207V801H206V800.5H205V802H204V801.5H203V800H202H201V801.5H200Z"/></g>
<g fill="#ffcc00" filter="url(#f2_20_0)"><path d="M205 781.5H206V783.5H207H208V785H209V781H210V786H211V782.5H212V784H213V782.5H214V785H215V782H216V783H217V785H218V781.5H219V783.5H220H221V784.5H222H223V785H224H225V801.5H224V802H223V801.5H222H221H220V801H219V802H218V801.5H217H216V800.5H215V801H214V801.5H213V800.5H212V801.5H211V802H210V801H209H208V800.5H207V800H206V801.5H205Z"/></g>
<g fill="#1a2aff" filter="url(#f2_65_0)"><path d="M228 780H236V808H228Z"/></g>
<g fill="#10e030" filter="url(#f2_60_2)"><path d="M228 784H229V785H230V784.5H231V783.5H232V785.5H233V780.5H234V786H235H236V806H235V804H234V805H233V806H232V805.5H231V804.5H230V805.5H229V804.5H228Z"/></g>
<g fill="#ff8800" filter="url(#f2_70_2)"><path d="M229 794H230V794.5H231V796H232V791.5H233V795H234V793.5H235V806H234H233H232H231V805H230V806H229Z"/></g>
<g fill="#ff1000" filter="url(#f2_40_0)"><path d="M230 798H234V807H230Z"/></g>
<g fill="#1a2aff" filter="url(#f2_40_0)"><path d="M236 788H250V804H236Z"/></g>
<g fill="#ffcc00" filter="url(#f2_50_0)"><path d="M236 791.5H237V790.5H238V791.5H239V792H240V790.5H241V788H242V791H243V791.5H244V790.5H245V791.5H246V788.5H247V792.5H248V803.5H247H246V802.5H245H244V803H243H242H241H240V804H239V803.5H238V804H237V803.5H236Z"/></g>
<g fill="#ff8800" filter="url(#f2_30_2)"><path d="M236 793H237V794.5H238V795.5H239V793.5H240H241V792H242V792.5H243V791.5H244V793H245V792.5H246V795.5H247V794H248V802H247V803H246H245H244V803.5H243V803H242V804H241V803.5H240V803H239V802.5H238H237V804H236Z"/></g>
<g fill="#1a2aff" filter="url(#f2_55_0)"><path d="M283 783H300V808H283Z"/></g>
<g fill="#10e030" filter="url(#f2_60_2)"><path d="M283 787.5H284V786H285V789H286V788H287V787H288V786.5H289V787.5H290V785.5H291V789H292H293V785.5H294V788H295V783.5H296V786H297V788.5H298V783H299V785.5H300V805H299V805.5H298V806H297H296V805.5H295H294V804H293V804.5H292H291V805H290V805.5H289V806H288V805.5H287H286V805H285H284V804.5H283Z"/></g>
<g fill="#ffcc00" filter="url(#f2_30_0)"><path d="M283 794H284V787H285V792.5H286V789H287V792.5H288V791.5H289V790H290V789H291V792H292V789.5H293V792H294V790H295V789H296V791H297V794H298V790.5H299V789H300V804.5H299V805H298V805.5H297H296V804.5H295H294V805.5H293V804H292V805.5H291H290V805H289H288H287V804.5H286H285V804H284V805.5H283Z"/></g>
<g fill="#d4d4e4" filter="url(#f2_40_2)"><path d="M51 796H282V806H51Z"/></g>
<g fill="#1a2aff" filter="url(#f2_12_0)"><path d="M51 792H282V806H51Z"/></g>
<g fill="#c8c8e8" filter="url(#f2_45_0)"><path d="M51 802H282V805H51Z"/></g>
<g fill="#1a2aff" filter="url(#f2_70_0)"><path d="M284 789.5H285V789H286V784H287V789H288V780.5H289V782H290V783H291V786H292V781.5H293V788H294V784H295V786.5H296V785H297V778H298V788H299V780.5H300V780H301V789.5H302V771.5H303V782.5H304V780.5H305V785.5H306V780H307V768H308V783.5H309V771.5H310V768H311V764.5H312V771H313V779.5H314V782H315V781.5H316V782.5H317V769H318V773H319V787H320V786.5H321V789.5H322V772H323V789.5H324V783H325V787H326V786.5H327V764H328V780.5H329V774.5H330V768H331V778H332V768.5H333V767.5H334V772H335H336V754.5H337V763H338V779H339V751H340V755H341V748H342V764H343V775H344V779.5H345V768.5H346V785.5H347V763.5H348V764.5H349V756H350V784.5H351V771H352V772.5H353V771H354V778.5H355V790H356V765.5H357V772.5H358V789H359V781H360V808H284Z"/></g>
<g fill="#10e030" filter="url(#f2_88_2)"><use href="#s5"/></g>
<g fill="#00a880" filter="url(#f2_25_2)"><use href="#s5"/></g>
<g fill="#ffcc00" filter="url(#f2_60_0)"><path d="M284 803.5H285V803H286V798H287V803H288V794.5H289V796H290V797H291V800H292V795.5H293V802H294V798H295V800.5H296V799H297V792H298V802H299V794.5H300V794H301V803.5H302V785.5H303V796.5H304V794.5H305V799.5H306V794H307V782H308V797.5H309V785.5H310V782H311V778.5H312V785H313V793.5H314V796H315V795.5H316V796.5H317V783H318V787H319V801H320V800.5H321V803.5H322V786H323V803.5H324V797H325V801H326V800.5H327V778H328V794.5H329V788.5H330V782H331V792H332V782.5H333V781.5H334V786H335H336V768.5H337V777H338V793H339V765H340V769H341V762H342V778H343V789H344V793.5H345V782.5H346V799.5H347V777.5H348V778.5H349V770H350V798.5H351V785H352V786.5H353V785H354V792.5H355V804H356V779.5H357V786.5H358V803H359V795H360V808H284Z"/></g>
<g fill="#10e030" filter="url(#f2_80_2)"><path d="M284 788.5H285V786H286V784H287V785H288V787H289V784.5H290V784H291V787H292V788.5H293V786H294H295V785H296V781H297V786.5H298V787H299V786.5H300V786H301V784.5H302V786H303V787H304V786H305V781H306V785.5H307V784H308V785.5H309V784.5H310V785.5H311V786H312V787H313V786H314V784.5H315V787H316V785.5H317V786.5H318V785H319V787H320V782.5H321V783.5H322V787H323V784.5H324V785H325V788.5H326V783H327V788H328V782.5H329V784.5H330V786H331V788.5H332V786H333V788.5H334V786H335V787H336H337V785.5H338V783.5H339V787H340V788.5H341V784H342V787H343V785H344V785.5H345V783.5H346H347V788H348V784H349V787H350V785.5H351V788H352V783H353V787.5H354V785.5H355V786H356V786.5H357H358V808H357H356H355H354H353H352H351H350H349H348H347H346H345H344H343H342H341H340H339H338H337H336H335H334H333H332H331H330H329H328H327H326H325H324H323H322H321H320H319H318H317H316H315H314H313H312H311H310H309H308H307H306H305H304H303H302H301H300H299H298H297H296H295H294H293H292H291H290H289H288H287H286H285H284Z"/></g>
<g fill="#ffcc00" filter="url(#f2_75_0)"><path d="M284 793H286V792.5H288V789.5H290V790.5H292V789.5H294V787.5H296V787H298V786.5H300H302V786H304V787H306V786H308V785H310H312H314H316V787.5H318V784.5H320V786H322V785H324V786H326V787H328V785H330V786H332H334V787H336V786.5H338V785H340H342H344V786.5H346V785H348H350V786H352V787H354H356V808H354H352H350H348H346H344H342H340H338H336H334H332H330H328H326H324H322H320H318H316H314H312H310H308H306H304H302H300H298H296H294H292H290H288H286H284Z"/></g>
<g fill="#ff8800" filter="url(#f2_65_2)"><path d="M290 794H292V792.5H294V791.5H296H298V790.5H300V789H302V789.5H304H306V789H308V789.5H310V790.5H312V789.5H314V788.5H316H318H320V790H322V790.5H324V788H326V789.5H328V788.5H330V788H332V790.5H334V788H336V788.5H338V788H340V790.5H342V788.5H344V789H346H348V790H350V788.5H352V790H354V789.5H356V808H354H352H350H348H346H344H342H340H338H336H334H332H330H328H326H324H322H320H318H316H314H312H310H308H306H304H302H300H298H296H294H292H290Z"/></g>
<g fill="#ff1000" filter="url(#f2_40_0)"><path d="M300 794H355V808H300Z"/></g>
<g fill="#1a2aff" filter="url(#f2_20_0)"><path d="M284 778H360V790H284Z"/></g>
<g fill="#d4d4e4" filter="url(#f2_40_2)"><path d="M284 802H290V808H284Z"/></g>
<g fill="#1a2aff" filter="url(#f2_70_0)"><path d="M362 752H364V753.5H366V754H367V780H366H364H362Z"/></g>
<g fill="#00a880" filter="url(#f2_40_2)"><path d="M363 758H366V776H363Z"/></g>
<g fill="#1a2aff" filter="url(#f2_30_0)"><path d="M355 790H362V806H355Z"/></g>
<g fill="#d4d4e4" filter="url(#f2_60_10)"><path d="M360 802H700V806H360Z"/></g>
<g fill="#c8c8e8" filter="url(#f2_40_11)"><use href="#s6"/></g>
<g fill="#10e030" filter="url(#f2_12_12)"><use href="#s6"/></g>
<g fill="#ffcc00" filter="url(#f2_14_15)"><use href="#s7"/></g>
<g fill="#ff8800" filter="url(#f2_12_13)"><use href="#s7"/></g>
<g fill="#ff1000" filter="url(#f2_7_16)"><use href="#s7"/></g>
<g fill="#1a2aff" filter="url(#f2_33_14)"><use href="#s6"/></g>
<g fill="#10e030" filter="url(#f2_20_17)"><path d="M440 790H560V806H440Z"/></g>
<g fill="#ffcc00" filter="url(#f2_18_18)"><path d="M440 794H560V806H440Z"/></g>
<g fill="#ff8800" filter="url(#f2_14_19)"><path d="M440 796H560V806H440Z"/></g>
<g fill="#1a2aff" filter="url(#f2_50_0)"><path d="M527 782.5H529V783.5H531V784.5H533V783H535V781.5H537V783.5H539V781.5H541V782.5H543V782H545V784.5H547V785H549V784H551V808H549H547H545H543H541H539H537H535H533H531H529H527Z"/></g>
<g fill="#ffcc00" filter="url(#f2_60_0)"><path d="M527 786H551V808H527Z"/></g>
<g fill="#ff8800" filter="url(#f2_60_2)"><path d="M530 792H551V808H530Z"/></g>
<g fill="#ff1000" filter="url(#f2_40_0)"><path d="M538 795H551V808H538Z"/></g>
<g fill="#10e030" filter="url(#f2_45_2)"><path d="M527 782H545V796H527Z"/></g>
<g fill="#1a2aff" filter="url(#f2_80_0)"><path d="M580 766H582V763H584V763.5H586V762.5H588V761.5H590V767H591V776H590H588H586H584H582H580Z"/></g>
<g fill="#10e030" filter="url(#f2_85_2)"><path d="M580 772H591V790H580Z"/></g>
<g fill="#ffcc00" filter="url(#f2_70_0)"><path d="M580 785H591V800H580Z"/></g>
<g fill="#ff8800" filter="url(#f2_80_2)"><path d="M580 790H590V808H580Z"/></g>
<g fill="#ff1000" filter="url(#f2_50_0)"><path d="M581 795H589V808H581Z"/></g>
<g fill="#1a2aff" filter="url(#f2_55_0)"><path d="M591 790H598V808H591Z"/></g>
<g fill="#10e030" filter="url(#f2_45_2)"><path d="M591 790H598V808H591Z"/></g>
<g fill="#ff8800" filter="url(#f2_30_2)"><path d="M591 796H598V808H591Z"/></g>
<g fill="#1a2aff" filter="url(#f2_55_0)"><path d="M471 648L474 645L480 650V683L477 690H473L471 680Z"/><path d="M482 648H487L493 650V698L489 700L485 692L482 670Z"/><path d="M499 653H502V697H499Z"/><path d="M506 652H511V680H506Z"/><path d="M513 653H516L519 688L516 690Z"/><path d="M520 657H524V693H520Z"/><path d="M527 663H531V697H527Z"/></g>
<g fill="#00a880" filter="url(#f2_50_2)"><path d="M472 650H477V685H472Z"/></g>
<g fill="#10e030" filter="url(#f2_45_2)"><path d="M473 660H476V680H473Z"/></g>
<g fill="#00a880" filter="url(#f2_35_2)"><path d="M483 652H492V690H483Z"/></g>
<g fill="#10e030" filter="url(#f2_40_2)"><path d="M517 665H519V685H517Z"/></g>
<g fill="#10e030" filter="url(#f2_50_2)"><path d="M528 668H531V690H528Z"/></g>
<g fill="#fff"><rect x="63.5" y="580" width="2" height="229"/><rect x="90.6" y="580" width="2" height="229"/><rect x="117.7" y="580" width="2" height="229"/><rect x="144.8" y="580" width="2" height="229"/><rect x="171.9" y="580" width="2" height="229"/><rect x="199.0" y="580" width="2" height="229"/><rect x="226.0" y="580" width="2" height="229"/><rect x="253.1" y="580" width="2" height="229"/><rect x="280.2" y="580" width="2" height="229"/><rect x="307.3" y="580" width="2" height="229"/><rect x="334.4" y="580" width="2" height="229"/><rect x="361.5" y="580" width="2" height="229"/><rect x="388.5" y="580" width="2" height="229"/><rect x="415.6" y="580" width="2" height="229"/><rect x="442.7" y="580" width="2" height="229"/><rect x="469.8" y="580" width="2" height="229"/><rect x="496.9" y="580" width="2" height="229"/><rect x="524.0" y="580" width="2" height="229"/><rect x="551.0" y="580" width="2" height="229"/><rect x="578.1" y="580" width="2" height="229"/><rect x="605.2" y="580" width="2" height="229"/><rect x="632.3" y="580" width="2" height="229"/><rect x="659.4" y="580" width="2" height="229"/><rect x="686.5" y="580" width="2" height="229"/></g>
<g fill="#ff1000" filter="url(#f3_14_0)"><use href="#s8"/></g>
<g fill="#ff8800" filter="url(#f3_11_2)"><use href="#s8"/></g>
<g fill="#ffcc00" filter="url(#f3_8_0)"><use href="#s8"/></g>
<g fill="#ff1000" filter="url(#f3_14_0)"><use href="#s9"/></g>
<g fill="#ff8800" filter="url(#f3_11_2)"><use href="#s9"/></g>
<g fill="#ffcc00" filter="url(#f3_8_0)"><use href="#s9"/></g>
<g fill="#ff1000" filter="url(#f3_14_0)"><path d="M153 910H156V922H153Z"/></g>
<g fill="#ff8800" filter="url(#f3_11_2)"><path d="M153 910H156V922H153Z"/></g>
<g fill="#ffcc00" filter="url(#f3_8_0)"><path d="M153 910H156V922H153Z"/></g>
<g fill="#ff1000" filter="url(#f3_14_0)"><use href="#s10"/></g>
<g fill="#ff8800" filter="url(#f3_11_2)"><use href="#s10"/></g>
<g fill="#ffcc00" filter="url(#f3_8_0)"><use href="#s10"/></g>
<g fill="#ff1000" filter="url(#f3_14_0)"><use href="#s11"/></g>
<g fill="#ff8800" filter="url(#f3_11_2)"><use href="#s11"/></g>
<g fill="#ffcc00" filter="url(#f3_8_0)"><use href="#s11"/></g>
<g fill="#ff1000" filter="url(#f3_14_0)"><use href="#s12"/></g>
<g fill="#ff8800" filter="url(#f3_11_2)"><use href="#s12"/></g>
<g fill="#ffcc00" filter="url(#f3_8_0)"><use href="#s12"/></g>
<g fill="#10e030" filter="url(#f3_25_2)"><path d="M70 900L80 898L90 902V920L80 922L70 914Z"/></g>
<g fill="#00a880" filter="url(#f3_10_2)"><path d="M74 902H86V916H74Z"/></g>
<g fill="#10e030" filter="url(#f3_25_2)"><path d="M100 910H112V934H100Z"/></g>
<g fill="#ffcc00" filter="url(#f3_12_0)"><path d="M100 910H112V934H100Z"/></g>
<g fill="#10e030" filter="url(#f3_35_2)"><path d="M131 910H139V945H131Z"/></g>
<g fill="#2a3aff" filter="url(#f3_30_2)"><path d="M133 918H137V943H133Z"/></g>
<g fill="#10e030" filter="url(#f3_18_2)"><path d="M160 910H172V945H160Z"/></g>
<g fill="#2a3aff" filter="url(#f3_35_2)"><path d="M161 918H164V948H161Z"/></g>
<g fill="#ffcc00" filter="url(#f3_12_0)"><path d="M165 910H182V938H165Z"/></g>
<g fill="#10e030" filter="url(#f3_22_2)"><path d="M262 910H278V930H262Z"/></g>
<g fill="#ffcc00" filter="url(#f3_10_0)"><path d="M245 913H262V930H245Z"/></g>
<g fill="#ff1000" filter="url(#f3_14_0)"><path d="M193 906H210V950H193Z"/></g>
<g fill="#ff8800" filter="url(#f3_14_2)"><path d="M193 906H210V950H193Z"/></g>
<g fill="#10e030" filter="url(#f3_18_2)"><path d="M196 908H204V950H196Z"/></g>
<g fill="#2a3aff" filter="url(#f3_40_2)"><path d="M197 910H200V950H197Z"/></g>
<g fill="#10e030" filter="url(#f3_25_2)"><use href="#s13"/></g>
<g fill="#ff1000" filter="url(#f3_12_0)"><use href="#s13"/></g>
<g fill="#ffcc00" filter="url(#f3_12_0)"><use href="#s13"/></g>
<g fill="#2a3aff" filter="url(#f3_70_2)"><path d="M211 912L222 910L223 960L222 988L217 982L212 950Z"/></g>
<g fill="#c4c4ee" filter="url(#f3_55_0)"><path d="M213 920H220V975H213Z"/></g>
<g fill="#2a3aff" filter="url(#f3_60_2)"><path d="M227 908H231V985H227Z"/></g>
<g fill="#10e030" filter="url(#f3_30_2)"><use href="#s14"/></g>
<g fill="#ff1000" filter="url(#f3_12_0)"><use href="#s14"/></g>
<g fill="#ffcc00" filter="url(#f3_12_0)"><use href="#s14"/></g>
<g fill="#2a3aff" filter="url(#f3_75_2)"><path d="M232 932H240L246 960L251 990V1015H245L234 995L232 970Z"/></g>
<g fill="#c4c4ee" filter="url(#f3_60_0)"><path d="M234 950L241 948L247 975L249 1005L241 1000L235 980Z"/></g>
<g fill="#2a3aff" filter="url(#f3_30_2)"><path d="M232 908H243V932H232Z"/></g>
<g fill="#2a3aff" filter="url(#f3_70_2)"><path d="M51 1032H53V1030.5H55V1031H57H59V1030H61V1031.5H63V1056H61H59H57H55H53H51Z"/></g>
<g fill="#c4c4ee" filter="url(#f3_50_0)"><path d="M51 1036H52V1036.5H53V1036H54V1037H55V1036.5H56V1037H57V1036.5H58V1036H59V1037.5H60V1038H61V1038.5H62V1037.5H63V1052.5H62V1053H61H60V1054H59V1053.5H58V1054H57H56V1053.5H55V1052.5H54V1054H53V1052H52V1053H51Z"/></g>
<g fill="#10e030" filter="url(#f3_15_2)"><path d="M51 1027.5H52V1028H53V1028.5H54V1033H55H56H57V1031.5H58V1034H59V1026.5H60V1028H61V1033H62V1028.5H63V1054H62H61V1054.5H60V1054H59V1055.5H58V1056H57V1055.5H56V1056H55V1055.5H54H53V1054.5H52H51Z"/></g>
<g fill="#ff1000" filter="url(#f3_10_0)"><path d="M51 1031.5H52V1030H53V1028.5H54V1031H55V1032.5H56V1028.5H57V1031.5H58V1030.5H59V1031H60V1030.5H61V1033H62V1030.5H63V1055H62V1054.5H61H60H59V1054H58V1055H57V1054.5H56H55V1055H54V1054.5H53V1055H52V1055.5H51Z"/></g>
<g fill="#2a3aff" filter="url(#f3_65_2)"><path d="M65 1034H67H69V1035H71V1035.5H72V1058H71H69H67H65Z"/></g>
<g fill="#10e030" filter="url(#f3_25_2)"><path d="M72 1035.5H73V1038.5H74V1037H75V1038H76V1039.5H77V1038.5H78V1036H79V1038H80V1037H81V1035.5H82V1038.5H83V1035.5H84V1036H85V1050H84V1052H83V1051.5H82H81V1050.5H80V1051H79V1052H78H77V1051.5H76V1050.5H75V1051.5H74V1050.5H73V1051.5H72Z"/></g>
<g fill="#ff1000" filter="url(#f3_20_0)"><path d="M72 1039H73H74H75V1038.5H76V1037H77V1034H78H79V1037.5H80V1036.5H81V1038H82V1036H83V1039H84V1038.5H85V1052H84V1051.5H83H82V1050.5H81V1051.5H80V1051H79V1051.5H78V1050H77V1050.5H76V1051.5H75V1050.5H74V1051H73V1050H72Z"/></g>
<g fill="#2a3aff" filter="url(#f3_25_2)"><path d="M72 1036H73V1038H74V1037H75V1038.5H76V1039.5H77V1039H78V1036H79H80V1037.5H81V1036.5H82H83V1037.5H84V1038.5H85V1050.5H84V1051H83V1051.5H82V1051H81H80V1051.5H79H78V1050.5H77V1051.5H76H75V1051H74V1050.5H73H72Z"/></g>
<g fill="#10e030" filter="url(#f3_18_2)"><path d="M93 1042H94H95V1042.5H96V1040.5H97V1041.5H98V1041H99V1042.5H100V1038.5H101V1042H102V1042.5H103V1037H104V1042H105V1039.5H106V1042.5H107V1043.5H108V1041H109V1044H110V1055H109V1054H108V1054.5H107V1054H106V1054.5H105V1055H104V1056H103V1054H102H101V1055.5H100V1054.5H99V1054H98V1055.5H97V1055H96V1054H95V1055.5H94V1056H93Z"/></g>
<g fill="#ff1000" filter="url(#f3_18_0)"><path d="M93 1039H94V1043.5H95V1042H96V1041H97V1039H98V1039.5H99V1042H100V1040.5H101V1041H102H103V1042.5H104V1038H105V1040.5H106V1043H107V1040.5H108V1039H109V1042.5H110V1055H109V1055.5H108V1054.5H107H106H105V1055H104V1054.5H103V1055H102H101H100H99V1054H98V1055.5H97V1055H96V1055.5H95H94V1054H93Z"/></g>
<g fill="#2a3aff" filter="url(#f3_70_2)"><path d="M108 1039.5H110V1038H112V1040H114V1038.5H116V1038H118V1062H116H114H112H110H108Z"/></g>
<g fill="#c4c4ee" filter="url(#f3_50_0)"><path d="M110 1049H111V1049.5H112H113V1045H114V1046.5H115H116V1048.5H117V1060H116V1058H115H114V1059H113V1060H112V1059H111H110Z"/></g>
<g fill="#2a3aff" filter="url(#f3_68_2)"><path d="M119 1038.5H121V1039H123V1037H125V1038H127V1036.5H129V1037H131V1036H133H135V1034.5H137V1035H139V1036H141V1034H143V1033H145H146V1062H145H143H141H139H137H135H133H131H129H127H125H123H121H119Z"/></g>
<g fill="#c4c4ee" filter="url(#f3_45_0)"><path d="M122 1045.5H123V1044H124H125V1043H126V1043.5H127V1039.5H128V1041H129V1046H130V1041.5H131V1043H132V1043.5H133V1044H134V1044.5H135V1042.5H136V1044.5H137V1043H138H139V1042H140V1043H141V1044.5H142V1043H143V1045.5H144H145V1061H144H143H142H141V1060.5H140V1060H139H138V1060.5H137H136V1061H135H134V1061.5H133V1060.5H132V1061H131V1060H130V1061H129H128H127V1060H126V1061H125V1061.5H124H123V1062H122Z"/></g>
<g fill="#10e030" filter="url(#f3_20_2)"><path d="M119 1036.5H120V1033H121V1032.5H122V1033H123V1035H124V1034H125V1037H126V1036.5H127V1035H128V1036.5H129H130V1034.5H131V1034H132V1035.5H133V1037.5H134V1034H135V1035.5H136V1033.5H137V1037H138H139V1034.5H140V1036.5H141V1037.5H142V1036.5H143V1035H144H145V1034.5H146V1044H145V1045H144V1045.5H143V1045H142V1045.5H141V1046H140V1045.5H139V1044.5H138V1045.5H137V1045H136H135V1044.5H134V1045H133V1045.5H132H131H130H129V1045H128V1044H127V1045H126V1045.5H125V1046H124V1045H123V1044H122H121V1045.5H120V1045H119Z"/></g>
<g fill="#ff1000" filter="url(#f3_15_0)"><path d="M119 1035H120V1032.5H121V1037H122V1034.5H123V1033.5H124V1035.5H125V1032H126V1035.5H127V1037H128H129V1034.5H130V1035.5H131V1036.5H132V1033H133V1034.5H134V1037.5H135V1033.5H136V1034H137V1035.5H138V1035H139V1034.5H140V1035.5H141V1034H142V1037H143V1034H144V1035H145V1034.5H146V1044.5H145V1046H144V1045.5H143V1045H142V1045.5H141H140V1045H139V1044.5H138H137V1044H136V1045.5H135V1044.5H134V1046H133V1045H132H131H130V1046H129V1044H128H127V1045.5H126V1044.5H125V1045.5H124V1045H123V1045.5H122V1045H121H120H119Z"/></g>
<g fill="#2a3aff" filter="url(#f3_70_2)"><path d="M147 1037.5H149V1035.5H151V1035H153V1034.5H155V1033.5H157V1032.5H159V1033.5H161V1032.5H163H165H167V1035H169V1037H170V1068H169H167H165H163H161H159H157H155H153H151H149H147Z"/></g>
<g fill="#c4c4ee" filter="url(#f3_60_0)"><path d="M150 1037.5H151V1042H152V1041.5H153V1043H154V1040.5H155V1040H156V1040.5H157V1042H158V1043H159V1041.5H160V1043.5H161V1043H162V1042H163V1039.5H164V1039H165V1042.5H166V1039H167V1038H168V1066H167V1065H166V1064.5H165V1065H164H163V1066H162V1064H161V1065.5H160H159V1064.5H158V1064H157V1065H156V1066H155V1065H154V1065.5H153H152V1065H151V1065.5H150Z"/></g>
<g fill="#10e030" filter="url(#f3_20_2)"><path d="M147 1032.5H148V1031H149V1033H150V1032.5H151V1033.5H152V1034.5H153V1030.5H154V1029.5H155V1034H156V1032H157V1032.5H158V1034.5H159V1032.5H160V1031.5H161V1031H162V1033.5H163V1034H164V1031.5H165V1030H166V1036H167V1034.5H168V1034H169H170V1045.5H169V1045H168V1045.5H167V1045H166V1044.5H165H164V1046H163V1044.5H162V1044H161V1046H160V1044H159H158H157V1044.5H156H155V1045H154H153V1044H152V1045.5H151H150V1044.5H149H148V1045H147Z"/></g>
<g fill="#ff1000" filter="url(#f3_12_0)"><path d="M147 1035.5H148V1031H149V1032.5H150V1035H151V1030H152V1035.5H153V1031.5H154V1028.5H155V1035.5H156V1034.5H157V1033.5H158V1030H159V1032.5H160V1035.5H161V1035H162H163V1030H164V1035H165V1031H166H167V1032H168V1035H169V1030H170V1046H169V1045.5H168V1044.5H167H166H165V1044H164V1045.5H163H162V1044.5H161V1045.5H160H159H158V1046H157V1044.5H156H155H154V1046H153H152V1045H151V1044.5H150V1045.5H149V1045H148V1044H147Z"/></g>
<g fill="#10e030" filter="url(#f3_50_2)"><path d="M157 1016H158V1020H159V1021H160V1019.5H161V1018H162V1026H161V1027H160V1026H159V1027.5H158V1026.5H157Z"/></g>
<g fill="#ffcc00" filter="url(#f3_30_0)"><path d="M157 1020H162V1028H157Z"/></g>
<g fill="#2a3aff" filter="url(#f3_55_2)"><path d="M174 1038.5H175V1040H176V1038H177V1039.5H178V1041.5H179V1036H180V1074.5H179V1073.5H178H177H176V1074.5H175H174Z"/></g>
<g fill="#2a3aff" filter="url(#f3_20_2)"><path d="M170 1037H171V1035H172V1036.5H173H174V1073H173V1073.5H172V1074.5H171H170Z"/></g>
<g fill="#10e030" filter="url(#f3_25_2)"><path d="M176 1032H177V1033H178V1032H179V1034H180V1035H181V1032.5H182V1033.5H183V1032.5H184V1035.5H185V1032.5H186V1034.5H187V1035H188V1035.5H189V1033H190V1034H191V1031.5H192V1033H193V1034.5H194V1036H195V1033H196H197V1054.5H196H195V1054H194V1053.5H193H192H191V1055H190H189V1053.5H188H187V1054.5H186H185H184V1053.5H183V1053H182V1054.5H181V1053H180V1054.5H179H178V1053.5H177V1055H176Z"/></g>
<g fill="#ff1000" filter="url(#f3_20_0)"><path d="M176 1029.5H177V1031H178V1033H179V1036H180V1033H181V1033.5H182V1032.5H183V1034.5H184V1032.5H185V1036H186V1034.5H187V1033H188V1035H189V1033H190V1032.5H191V1033H192V1035H193V1032.5H194V1035.5H195V1033H196V1029.5H197V1054H196V1054.5H195V1053.5H194H193V1054.5H192V1053.5H191V1054H190V1054.5H189H188V1053.5H187H186V1054.5H185V1055H184V1054H183V1054.5H182H181H180V1054H179V1055H178H177V1053.5H176Z"/></g>
<g fill="#2a3aff" filter="url(#f3_55_2)"><path d="M183 1034.5H184H185V1034H186V1036.5H187V1036H188V1034.5H189V1036.5H190V1035H191V1036.5H192V1034H193H194V1035H195H196V1053H195V1054H194V1053.5H193V1053H192H191V1053.5H190H189V1054.5H188H187V1053.5H186V1054.5H185V1053.5H184V1054H183Z"/></g>
<g fill="#c4c4ee" filter="url(#f3_35_0)"><path d="M184 1040H185V1040.5H186V1043H187V1042.5H188V1040.5H189V1042H190V1039.5H191V1041.5H192V1037.5H193H194V1040.5H195V1053H194V1054.5H193V1054H192H191V1055H190V1053.5H189H188H187V1054.5H186V1054H185V1054.5H184Z"/></g>
<g fill="#ff1000" filter="url(#f3_15_0)"><path d="M197 1042.5H198V1044.5H199H200V1039.5H201V1042H202V1043H203V1042H204V1041.5H205V1044.5H206V1042.5H207V1045H208V1042H209V1039.5H210V1044H211V1045H212V1045.5H213V1041.5H214H215V1046H216V1042.5H217V1045H218V1040H219V1043.5H220V1044H221V1045H222V1041.5H223V1044.5H224V1044H225V1042.5H226V1043.5H227H228V1066H227V1067.5H226V1066.5H225V1066H224V1068H223V1066.5H222V1066H221V1068H220V1067.5H219V1066.5H218H217V1067H216V1066H215V1068H214V1066.5H213H212V1067H211V1068H210V1066.5H209V1067H208V1067.5H207V1066.5H206V1067H205V1067.5H204H203V1068H202H201V1067.5H200H199H198V1066.5H197Z"/></g>
<g fill="#10e030" filter="url(#f3_12_2)"><path d="M197 1045.5H198V1042.5H199V1045.5H200V1043H201V1043.5H202V1042.5H203V1043H204V1039.5H205V1045.5H206V1043H207V1042H208V1043H209V1042.5H210V1043.5H211V1043H212V1042H213H214V1044H215V1043H216V1045H217V1042H218V1043.5H219V1042H220H221V1044H222H223V1045H224V1043H225V1045H226V1044.5H227V1042.5H228V1067H227V1067.5H226V1066.5H225V1068H224H223V1066.5H222V1068H221V1067.5H220H219V1068H218V1066.5H217H216V1067.5H215H214H213H212V1066.5H211V1067.5H210V1066H209V1066.5H208V1066H207V1066.5H206V1066H205V1067.5H204H203H202V1068H201V1066.5H200H199V1067H198V1067.5H197Z"/></g>
<g fill="#2a3aff" filter="url(#f3_55_2)"><path d="M228 1047H229V1048H230H231V1047H232V1047.5H233V1048.5H234V1049.5H235H236V1076.5H235H234V1077H233V1076.5H232H231H230V1078H229V1077H228Z"/></g>
<g fill="#c4c4ee" filter="url(#f3_70_0)"><path d="M229 1053H230V1051H231V1053.5H232V1053H233V1053.5H234V1055H235V1077H234H233V1076.5H232H231H230H229Z"/></g>
<g fill="#10e030" filter="url(#f3_20_2)"><path d="M228 1047.5H229V1042H230V1049H231V1047H232V1046.5H233V1046H234V1047.5H235V1046.5H236V1060H235H234V1059.5H233V1058.5H232V1060H231H230V1058H229H228Z"/></g>
<g fill="#ff1000" filter="url(#f3_40_0)"><use href="#s15"/></g>
<g fill="#ff8800" filter="url(#f3_30_2)"><use href="#s15"/></g>
<g fill="#ffcc00" filter="url(#f3_22_0)"><use href="#s15"/></g>
<g fill="#10e030" filter="url(#f3_10_2)"><path d="M51 1060H282V1072H51Z"/></g>
<g fill="#c0003a" filter="url(#f3_60_1)"><path d="M51 1073H282V1075H51Z"/></g>
<g fill="#c4c4ee" filter="url(#f3_92_0)"><path d="M284 1062.5H285V1053H286V1061.5H287V1055H288V1053.5H289V1054.5H290V1059.5H291V1058.5H292V1053.5H293V1049.5H294V1053.5H295V1054.5H296V1056.5H297V1056H298V1050.5H299V1055H300V1053H301V1050.5H302V1049.5H303V1060.5H304V1056.5H305V1047H306V1050H307V1043H308V1059.5H309V1055H310V1047.5H311V1040.5H312V1055H313V1038.5H314V1048H315V1052H316V1039.5H317V1058.5H318V1040.5H319V1054H320V1053H321V1056.5H322V1051H323V1041.5H324V1055.5H325V1047H326V1049.5H327V1052.5H328V1057H329V1042H330V1049H331V1047.5H332V1044H333V1056.5H334V1033H335V1028H336V1049H337V1025.5H338V1029.5H339V1045.5H340V1046.5H341V1054H342V1041.5H343H344V1041H345V1042.5H346V1040H347V1054.5H348V1051H349V1039H350V1042H351V1053H352V1049.5H353V1026.5H354V1033.5H355V1036.5H356V1051.5H357V1054H358V1054.5H359V1058H360V1078H284Z"/></g>
<g fill="#2a3aff" filter="url(#f3_55_2)"><path d="M284 1059.5H285V1050H286V1058.5H287V1052H288V1050.5H289V1051.5H290V1056.5H291V1055.5H292V1050.5H293V1046.5H294V1050.5H295V1051.5H296V1053.5H297V1053H298V1047.5H299V1052H300V1050H301V1047.5H302V1046.5H303V1057.5H304V1053.5H305V1044H306V1047H307V1040H308V1056.5H309V1052H310V1044.5H311V1037.5H312V1052H313V1035.5H314V1045H315V1049H316V1036.5H317V1055.5H318V1037.5H319V1051H320V1050H321V1053.5H322V1048H323V1038.5H324V1052.5H325V1044H326V1046.5H327V1049.5H328V1054H329V1039H330V1046H331V1044.5H332V1041H333V1053.5H334V1030H335V1025H336V1046H337V1022.5H338V1026.5H339V1042.5H340V1043.5H341V1051H342V1038.5H343H344V1038H345V1039.5H346V1037H347V1051.5H348V1048H349V1036H350V1039H351V1050H352V1046.5H353V1023.5H354V1030.5H355V1033.5H356V1048.5H357V1051H358V1051.5H359V1055H360V1078H284Z"/></g>
<g fill="#c4c4ee" filter="url(#f3_80_0)"><path d="M284 1066.5H285V1057H286V1065.5H287V1059H288V1057.5H289V1058.5H290V1063.5H291V1062.5H292V1057.5H293V1053.5H294V1057.5H295V1058.5H296V1060.5H297V1060H298V1054.5H299V1059H300V1057H301V1054.5H302V1053.5H303V1064.5H304V1060.5H305V1051H306V1054H307V1047H308V1063.5H309V1059H310V1051.5H311V1044.5H312V1059H313V1042.5H314V1052H315V1056H316V1043.5H317V1062.5H318V1044.5H319V1058H320V1057H321V1060.5H322V1055H323V1045.5H324V1059.5H325V1051H326V1053.5H327V1056.5H328V1061H329V1046H330V1053H331V1051.5H332V1048H333V1060.5H334V1037H335V1032H336V1053H337V1029.5H338V1033.5H339V1049.5H340V1050.5H341V1058H342V1045.5H343H344V1045H345V1046.5H346V1044H347V1058.5H348V1055H349V1043H350V1046H351V1057H352V1053.5H353V1030.5H354V1037.5H355V1040.5H356V1055.5H357V1058H358V1058.5H359V1062H360V1078H284Z"/></g>
<g fill="#10e030" filter="url(#f3_40_2)"><path d="M284 1055H285V1049H286V1055H287V1051H288V1049.5H289V1050.5H290V1055H291V1054.5H292V1049.5H293V1045.5H294V1049.5H295V1050.5H296V1052.5H297V1052H298V1046.5H299V1051H300V1049H301V1046.5H302V1045.5H303V1055H304V1052.5H305V1043H306V1046H307V1039H308V1055H309V1051H310V1043.5H311V1036.5H312V1051H313V1034.5H314V1044H315V1048H316V1035.5H317V1054.5H318V1036.5H319V1050H320V1049H321V1052.5H322V1047H323V1037.5H324V1051.5H325V1043H326V1045.5H327V1048.5H328V1053H329V1038H330V1045H331V1043.5H332V1040H333V1052.5H334V1029H335V1024H336V1045H337V1021.5H338V1025.5H339V1041.5H340V1042.5H341V1050H342V1037.5H343H344V1037H345V1038.5H346V1036H347V1050.5H348V1047H349V1035H350V1038H351V1049H352V1045.5H353V1022.5H354V1029.5H355V1032.5H356V1047.5H357V1050H358V1050.5H359V1054H360V1055H284Z"/></g>
<g fill="#ff1000" filter="url(#f3_30_0)"><path d="M284 1050H285V1048H286V1050H287H288V1048.5H289V1049.5H290V1050H291H292V1048.5H293V1044.5H294V1048.5H295V1049.5H296V1050H297H298V1045.5H299V1050H300V1048H301V1045.5H302V1044.5H303V1050H304H305V1042H306V1045H307V1038H308V1050H309H310V1042.5H311V1035.5H312V1050H313V1033.5H314V1043H315V1047H316V1034.5H317V1050H318V1035.5H319V1049H320V1048H321V1050H322V1046H323V1036.5H324V1050H325V1042H326V1044.5H327V1047.5H328V1050H329V1037H330V1044H331V1042.5H332V1039H333V1050H334V1028H335V1023H336V1044H337V1020.5H338V1024.5H339V1040.5H340V1041.5H341V1049H342V1036.5H343H344V1036H345V1037.5H346V1035H347V1049.5H348V1046H349V1034H350V1037H351V1048H352V1044.5H353V1021.5H354V1028.5H355V1031.5H356V1046.5H357V1049H358V1049.5H359V1050H360H284Z"/></g>
<g fill="#c4c4ee" filter="url(#f3_85_0)"><path d="M284 1062.5H285V1060.5H286V1059.5H287V1063.5H288V1058H289V1061H290V1060.5H291V1060H292V1059H293V1059.5H294V1057.5H295V1062.5H296V1063H297V1059.5H298H299V1061H300V1058.5H301V1062H302V1063H303V1059H304V1060H305V1063.5H306V1059.5H307H308V1059H309V1063.5H310V1055.5H311V1056H312V1063.5H313V1057.5H314V1062H315V1059H316V1062H317V1063.5H318V1061.5H319V1058H320V1056.5H321V1061.5H322V1060H323V1057.5H324H325V1060H326V1062.5H327V1062H328H329V1057.5H330H331V1063H332H333V1062.5H334V1061.5H335H336H337V1056H338V1062.5H339V1060H340H341V1063.5H342V1057H343V1062.5H344V1058H345H346V1058.5H347V1062.5H348V1060.5H349V1063H350V1061.5H351H352V1055.5H353V1063H354V1060.5H355V1062H356V1059.5H357V1063.5H358V1078H357H356H355H354H353H352H351H350H349H348H347H346H345H344H343H342H341H340H339H338H337H336H335H334H333H332H331H330H329H328H327H326H325H324H323H322H321H320H319H318H317H316H315H314H313H312H311H310H309H308H307H306H305H304H303H302H301H300H299H298H297H296H295H294H293H292H291H290H289H288H287H286H285H284Z"/></g>
<g fill="#2a3aff" filter="url(#f3_20_2)"><path d="M284 1056H358V1078H284Z"/></g>
<g fill="#2a3aff" filter="url(#f3_60_2)"><path d="M284 1075H358V1078H284Z"/></g>
<g fill="#2a3aff" filter="url(#f3_50_2)"><path d="M363 1024H366V1050H363Z"/></g>
<g fill="#c0003a" filter="url(#f3_80_1)"><path d="M268 1072H380V1074H268Z"/></g>
<g fill="#10e030" filter="url(#f3_10_10)"><use href="#s16"/></g>
<g fill="#ffcc00" filter="url(#f3_30_11)"><use href="#s16"/></g>
<g fill="#ff8800" filter="url(#f3_35_12)"><use href="#s16"/></g>
<g fill="#ff1000" filter="url(#f3_40_13)"><use href="#s16"/></g>
<g fill="#c4c4ee" filter="url(#f3_55_0)"><path d="M543 1058H549V1078H543Z"/></g>
<g fill="#2a3aff" filter="url(#f3_30_2)"><path d="M543 1058H549V1078H543Z"/></g>
<g fill="#2a3aff" filter="url(#f3_90_2)"><path d="M580 1037H582V1033H584V1032H586V1034H588H590V1037H592V1060H590H588H586H584H582H580Z"/></g>
<g fill="#c4c4ee" filter="url(#f3_92_0)"><path d="M580 1060H592V1078H580Z"/></g>
<g fill="#ff1000" filter="url(#f3_30_0)"><path d="M580 1032H592V1042H580Z"/></g>
<g fill="#10e030" filter="url(#f3_40_2)"><path d="M580 1036H592V1050H580Z"/></g>
<g fill="#2a3aff" filter="url(#f3_45_2)"><path d="M592 1062H597V1078H592Z"/></g>
<g fill="#ff1000" filter="url(#f3_30_0)"><path d="M592 1062H600V1078H592Z"/></g>
<g fill="#ff1000" filter="url(#f3_25_0)"><use href="#s17"/></g>
<g fill="#ff8800" filter="url(#f3_25_2)"><use href="#s17"/></g>
<g fill="#10e030" filter="url(#f3_25_2)"><use href="#s17"/></g>
<g fill="#ff1000" filter="url(#f3_25_0)"><use href="#s18"/></g>
<g fill="#ff8800" filter="url(#f3_25_2)"><use href="#s18"/></g>
<g fill="#10e030" filter="url(#f3_25_2)"><use href="#s18"/></g>
<g fill="#ff1000" filter="url(#f3_25_0)"><path d="M499 923H502V967H499Z"/></g>
<g fill="#ff8800" filter="url(#f3_25_2)"><path d="M499 923H502V967H499Z"/></g>
<g fill="#10e030" filter="url(#f3_25_2)"><path d="M499 923H502V967H499Z"/></g>
<g fill="#ff1000" filter="url(#f3_25_0)"><path d="M506 922H511V950H506Z"/></g>
<g fill="#ff8800" filter="url(#f3_25_2)"><path d="M506 922H511V950H506Z"/></g>
<g fill="#10e030" filter="url(#f3_25_2)"><path d="M506 922H511V950H506Z"/></g>
<g fill="#ff1000" filter="url(#f3_25_0)"><path d="M513 923H516L519 958L516 960Z"/></g>
<g fill="#ff8800" filter="url(#f3_25_2)"><path d="M513 923H516L519 958L516 960Z"/></g>
<g fill="#10e030" filter="url(#f3_25_2)"><path d="M513 923H516L519 958L516 960Z"/></g>
<g fill="#ff1000" filter="url(#f3_25_0)"><path d="M520 927H524V963H520Z"/></g>
<g fill="#ff8800" filter="url(#f3_25_2)"><path d="M520 927H524V963H520Z"/></g>
<g fill="#10e030" filter="url(#f3_25_2)"><path d="M520 927H524V963H520Z"/></g>
<g fill="#ff1000" filter="url(#f3_25_0)"><path d="M527 933H531V967H527Z"/></g>
<g fill="#ff8800" filter="url(#f3_25_2)"><path d="M527 933H531V967H527Z"/></g>
<g fill="#10e030" filter="url(#f3_25_2)"><path d="M527 933H531V967H527Z"/></g>
<g fill="#2a3aff" filter="url(#f3_70_2)"><path d="M473 922H475V955H473Z"/></g>
<g fill="#2a3aff" filter="url(#f3_60_2)"><path d="M490 935H492V960H490Z"/></g>
<g fill="#2a3aff" filter="url(#f3_50_2)"><path d="M513 930H515V958H513Z"/></g>
<g fill="#2a3aff" filter="url(#f3_60_2)"><path d="M521 930H523V960H521Z"/></g>
<g fill="#2a3aff" filter="url(#f3_70_2)"><path d="M529 935H531V965H529Z"/></g>
<g fill="#fff"><rect x="63.5" y="850" width="2" height="229"/><rect x="90.6" y="850" width="2" height="229"/><rect x="117.7" y="850" width="2" height="229"/><rect x="144.8" y="850" width="2" height="229"/><rect x="171.9" y="850" width="2" height="229"/><rect x="199.0" y="850" width="2" height="229"/><rect x="226.0" y="850" width="2" height="229"/><rect x="253.1" y="850" width="2" height="229"/><rect x="280.2" y="850" width="2" height="229"/><rect x="307.3" y="850" width="2" height="229"/><rect x="334.4" y="850" width="2" height="229"/><rect x="361.5" y="850" width="2" height="229"/><rect x="388.5" y="850" width="2" height="229"/><rect x="415.6" y="850" width="2" height="229"/><rect x="442.7" y="850" width="2" height="229"/><rect x="469.8" y="850" width="2" height="229"/><rect x="496.9" y="850" width="2" height="229"/><rect x="524.0" y="850" width="2" height="229"/><rect x="551.0" y="850" width="2" height="229"/><rect x="578.1" y="850" width="2" height="229"/><rect x="605.2" y="850" width="2" height="229"/><rect x="632.3" y="850" width="2" height="229"/><rect x="659.4" y="850" width="2" height="229"/><rect x="686.5" y="850" width="2" height="229"/></g>
<rect x="50" y="39" width="651" height="1"/>
<rect x="50" y="269" width="651" height="1"/>
<rect x="50" y="39" width="1" height="231"/>
<rect x="700" y="39" width="1" height="231"/>
<text x="47" y="274" text-anchor="end" font-family="Liberation Sans, sans-serif" font-size="12">0</text>
<rect x="51" y="250" width="5" height="1"/>
<rect x="695" y="250" width="5" height="1"/>
<text x="47" y="255" text-anchor="end" font-family="Liberation Sans, sans-serif" font-size="12">1</text>
<rect x="51" y="231" width="5" height="1"/>
<rect x="695" y="231" width="5" height="1"/>
<text x="47" y="236" text-anchor="end" font-family="Liberation Sans, sans-serif" font-size="12">2</text>
<rect x="51" y="212" width="5" height="1"/>
<rect x="695" y="212" width="5" height="1"/>
<text x="47" y="217" text-anchor="end" font-family="Liberation Sans, sans-serif" font-size="12">3</text>
<rect x="51" y="193" width="5" height="1"/>
<rect x="695" y="193" width="5" height="1"/>
<text x="47" y="198" text-anchor="end" font-family="Liberation Sans, sans-serif" font-size="12">4</text>
<rect x="51" y="174" width="5" height="1"/>
<rect x="695" y="174" width="5" height="1"/>
<text x="47" y="179" text-anchor="end" font-family="Liberation Sans, sans-serif" font-size="12">5</text>
<rect x="51" y="154" width="5" height="1"/>
<rect x="695" y="154" width="5" height="1"/>
<text x="47" y="159" text-anchor="end" font-family="Liberation Sans, sans-serif" font-size="12">6</text>
<rect x="51" y="135" width="5" height="1"/>
<rect x="695" y="135" width="5" height="1"/>
<text x="47" y="140" text-anchor="end" font-family="Liberation Sans, sans-serif" font-size="12">7</text>
<rect x="51" y="116" width="5" height="1"/>
<rect x="695" y="116" width="5" height="1"/>
<text x="47" y="121" text-anchor="end" font-family="Liberation Sans, sans-serif" font-size="12">8</text>
<rect x="51" y="97" width="5" height="1"/>
<rect x="695" y="97" width="5" height="1"/>
<text x="47" y="102" text-anchor="end" font-family="Liberation Sans, sans-serif" font-size="12">9</text>
<rect x="51" y="78" width="5" height="1"/>
<rect x="695" y="78" width="5" height="1"/>
<text x="47" y="83" text-anchor="end" font-family="Liberation Sans, sans-serif" font-size="12">10</text>
<rect x="51" y="59" width="5" height="1"/>
<rect x="695" y="59" width="5" height="1"/>
<text x="47" y="64" text-anchor="end" font-family="Liberation Sans, sans-serif" font-size="12">11</text>
<text x="47" y="44" text-anchor="end" font-family="Liberation Sans, sans-serif" font-size="12">12</text>
<text x="50" y="284" text-anchor="middle" font-family="Liberation Sans, sans-serif" font-size="12">00:00</text>
<rect x="158" y="40" width="1" height="5"/>
<rect x="158" y="264" width="1" height="5"/>
<text x="158" y="284" text-anchor="middle" font-family="Liberation Sans, sans-serif" font-size="12">04:00</text>
<rect x="267" y="40" width="1" height="5"/>
<rect x="267" y="264" width="1" height="5"/>
<text x="267" y="284" text-anchor="middle" font-family="Liberation Sans, sans-serif" font-size="12">08:00</text>
<rect x="375" y="40" width="1" height="5"/>
<rect x="375" y="264" width="1" height="5"/>
<text x="375" y="284" text-anchor="middle" font-family="Liberation Sans, sans-serif" font-size="12">12:00</text>
<rect x="483" y="40" width="1" height="5"/>
<rect x="483" y="264" width="1" height="5"/>
<text x="483" y="284" text-anchor="middle" font-family="Liberation Sans, sans-serif" font-size="12">16:00</text>
<rect x="592" y="40" width="1" height="5"/>
<rect x="592" y="264" width="1" height="5"/>
<text x="592" y="284" text-anchor="middle" font-family="Liberation Sans, sans-serif" font-size="12">20:00</text>
<text x="700" y="284" text-anchor="middle" font-family="Liberation Sans, sans-serif" font-size="12">00:00</text>
<text x="375" y="302" text-anchor="middle" font-family="Liberation Sans, sans-serif" font-size="12">Time (UTC)</text>
<text transform="translate(27,155.5) rotate(-90)" text-anchor="middle" font-family="Liberation Sans, sans-serif" font-size="12">Height (km)</text>
<text x="57" y="56.5" font-family="Liberation Sans, sans-serif" font-size="13" font-weight="bold" textLength="145" lengthAdjust="spacingAndGlyphs">Radar reflectivity factor</text>
<rect x="754.5" y="74.5" width="16" height="160" fill="url(#cb)" stroke="#000" stroke-width="1"/>
<text x="751" y="79.0" text-anchor="end" font-family="Liberation Sans, sans-serif" font-size="12">20</text>
<text x="751" y="105.66666666666667" text-anchor="end" font-family="Liberation Sans, sans-serif" font-size="12">10</text>
<text x="751" y="132.33333333333334" text-anchor="end" font-family="Liberation Sans, sans-serif" font-size="12">0</text>
<text x="751" y="159.0" text-anchor="end" font-family="Liberation Sans, sans-serif" font-size="12">-10</text>
<text x="751" y="185.66666666666669" text-anchor="end" font-family="Liberation Sans, sans-serif" font-size="12">-20</text>
<text x="751" y="212.33333333333334" text-anchor="end" font-family="Liberation Sans, sans-serif" font-size="12">-30</text>
<text x="751" y="239.0" text-anchor="end" font-family="Liberation Sans, sans-serif" font-size="12">-40</text>
<text transform="translate(726,154) rotate(-90)" text-anchor="middle" font-family="Liberation Sans, sans-serif" font-size="12">dBz</text>
<rect x="50" y="309" width="651" height="1"/>
<rect x="50" y="539" width="651" height="1"/>
<rect x="50" y="309" width="1" height="231"/>
<rect x="700" y="309" width="1" height="231"/>
<text x="47" y="544" text-anchor="end" font-family="Liberation Sans, sans-serif" font-size="12">0</text>
<rect x="51" y="520" width="5" height="1"/>
<rect x="695" y="520" width="5" height="1"/>
<text x="47" y="525" text-anchor="end" font-family="Liberation Sans, sans-serif" font-size="12">1</text>
<rect x="51" y="501" width="5" height="1"/>
<rect x="695" y="501" width="5" height="1"/>
<text x="47" y="506" text-anchor="end" font-family="Liberation Sans, sans-serif" font-size="12">2</text>
<rect x="51" y="482" width="5" height="1"/>
<rect x="695" y="482" width="5" height="1"/>
<text x="47" y="487" text-anchor="end" font-family="Liberation Sans, sans-serif" font-size="12">3</text>
<rect x="51" y="463" width="5" height="1"/>
<rect x="695" y="463" width="5" height="1"/>
<text x="47" y="468" text-anchor="end" font-family="Liberation Sans, sans-serif" font-size="12">4</text>
<rect x="51" y="444" width="5" height="1"/>
<rect x="695" y="444" width="5" height="1"/>
<text x="47" y="449" text-anchor="end" font-family="Liberation Sans, sans-serif" font-size="12">5</text>
<rect x="51" y="424" width="5" height="1"/>
<rect x="695" y="424" width="5" height="1"/>
<text x="47" y="429" text-anchor="end" font-family="Liberation Sans, sans-serif" font-size="12">6</text>
<rect x="51" y="405" width="5" height="1"/>
<rect x="695" y="405" width="5" height="1"/>
<text x="47" y="410" text-anchor="end" font-family="Liberation Sans, sans-serif" font-size="12">7</text>
<rect x="51" y="386" width="5" height="1"/>
<rect x="695" y="386" width="5" height="1"/>
<text x="47" y="391" text-anchor="end" font-family="Liberation Sans, sans-serif" font-size="12">8</text>
<rect x="51" y="367" width="5" height="1"/>
<rect x="695" y="367" width="5" height="1"/>
<text x="47" y="372" text-anchor="end" font-family="Liberation Sans, sans-serif" font-size="12">9</text>
<rect x="51" y="348" width="5" height="1"/>
<rect x="695" y="348" width="5" height="1"/>
<text x="47" y="353" text-anchor="end" font-family="Liberation Sans, sans-serif" font-size="12">10</text>
<rect x="51" y="329" width="5" height="1"/>
<rect x="695" y="329" width="5" height="1"/>
<text x="47" y="334" text-anchor="end" font-family="Liberation Sans, sans-serif" font-size="12">11</text>
<text x="47" y="314" text-anchor="end" font-family="Liberation Sans, sans-serif" font-size="12">12</text>
<text x="50" y="554" text-anchor="middle" font-family="Liberation Sans, sans-serif" font-size="12">00:00</text>
<rect x="158" y="310" width="1" height="5"/>
<rect x="158" y="534" width="1" height="5"/>
<text x="158" y="554" text-anchor="middle" font-family="Liberation Sans, sans-serif" font-size="12">04:00</text>
<rect x="267" y="310" width="1" height="5"/>
<rect x="267" y="534" width="1" height="5"/>
<text x="267" y="554" text-anchor="middle" font-family="Liberation Sans, sans-serif" font-size="12">08:00</text>
<rect x="375" y="310" width="1" height="5"/>
<rect x="375" y="534" width="1" height="5"/>
<text x="375" y="554" text-anchor="middle" font-family="Liberation Sans, sans-serif" font-size="12">12:00</text>
<rect x="483" y="310" width="1" height="5"/>
<rect x="483" y="534" width="1" height="5"/>
<text x="483" y="554" text-anchor="middle" font-family="Liberation Sans, sans-serif" font-size="12">16:00</text>
<rect x="592" y="310" width="1" height="5"/>
<rect x="592" y="534" width="1" height="5"/>
<text x="592" y="554" text-anchor="middle" font-family="Liberation Sans, sans-serif" font-size="12">20:00</text>
<text x="700" y="554" text-anchor="middle" font-family="Liberation Sans, sans-serif" font-size="12">00:00</text>
<text x="375" y="572" text-anchor="middle" font-family="Liberation Sans, sans-serif" font-size="12">Time (UTC)</text>
<text transform="translate(27,425.5) rotate(-90)" text-anchor="middle" font-family="Liberation Sans, sans-serif" font-size="12">Height (km)</text>
<text x="57" y="326.5" font-family="Liberation Sans, sans-serif" font-size="13" font-weight="bold" textLength="96.5" lengthAdjust="spacingAndGlyphs">Doppler velocity</text>
<rect x="754.5" y="344.5" width="16" height="160" fill="url(#cb)" stroke="#000" stroke-width="1"/>
<text x="751" y="349.0" text-anchor="end" font-family="Liberation Sans, sans-serif" font-size="12">2</text>
<text x="751" y="375.6666666666667" text-anchor="end" font-family="Liberation Sans, sans-serif" font-size="12">1</text>
<text x="751" y="402.3333333333333" text-anchor="end" font-family="Liberation Sans, sans-serif" font-size="12">0</text>
<text x="751" y="429.0" text-anchor="end" font-family="Liberation Sans, sans-serif" font-size="12">-1</text>
<text x="751" y="455.6666666666667" text-anchor="end" font-family="Liberation Sans, sans-serif" font-size="12">-2</text>
<text x="751" y="482.33333333333337" text-anchor="end" font-family="Liberation Sans, sans-serif" font-size="12">-3</text>
<text x="751" y="509.0" text-anchor="end" font-family="Liberation Sans, sans-serif" font-size="12">-4</text>
<text transform="translate(733,425) rotate(-90)" text-anchor="middle" font-family="Liberation Sans, sans-serif" font-size="12">m s<tspan dy="-5" font-size="9">-1</tspan></text>
<rect x="50" y="579" width="651" height="1"/>
<rect x="50" y="809" width="651" height="1"/>
<rect x="50" y="579" width="1" height="231"/>
<rect x="700" y="579" width="1" height="231"/>
<text x="47" y="814" text-anchor="end" font-family="Liberation Sans, sans-serif" font-size="12">0</text>
<rect x="51" y="790" width="5" height="1"/>
<rect x="695" y="790" width="5" height="1"/>
<text x="47" y="795" text-anchor="end" font-family="Liberation Sans, sans-serif" font-size="12">1</text>
<rect x="51" y="771" width="5" height="1"/>
<rect x="695" y="771" width="5" height="1"/>
<text x="47" y="776" text-anchor="end" font-family="Liberation Sans, sans-serif" font-size="12">2</text>
<rect x="51" y="752" width="5" height="1"/>
<rect x="695" y="752" width="5" height="1"/>
<text x="47" y="757" text-anchor="end" font-family="Liberation Sans, sans-serif" font-size="12">3</text>
<rect x="51" y="733" width="5" height="1"/>
<rect x="695" y="733" width="5" height="1"/>
<text x="47" y="738" text-anchor="end" font-family="Liberation Sans, sans-serif" font-size="12">4</text>
<rect x="51" y="714" width="5" height="1"/>
<rect x="695" y="714" width="5" height="1"/>
<text x="47" y="719" text-anchor="end" font-family="Liberation Sans, sans-serif" font-size="12">5</text>
<rect x="51" y="694" width="5" height="1"/>
<rect x="695" y="694" width="5" height="1"/>
<text x="47" y="699" text-anchor="end" font-family="Liberation Sans, sans-serif" font-size="12">6</text>
<rect x="51" y="675" width="5" height="1"/>
<rect x="695" y="675" width="5" height="1"/>
<text x="47" y="680" text-anchor="end" font-family="Liberation Sans, sans-serif" font-size="12">7</text>
<rect x="51" y="656" width="5" height="1"/>
<rect x="695" y="656" width="5" height="1"/>
<text x="47" y="661" text-anchor="end" font-family="Liberation Sans, sans-serif" font-size="12">8</text>
<rect x="51" y="637" width="5" height="1"/>
<rect x="695" y="637" width="5" height="1"/>
<text x="47" y="642" text-anchor="end" font-family="Liberation Sans, sans-serif" font-size="12">9</text>
<rect x="51" y="618" width="5" height="1"/>
<rect x="695" y="618" width="5" height="1"/>
<text x="47" y="623" text-anchor="end" font-family="Liberation Sans, sans-serif" font-size="12">10</text>
<rect x="51" y="599" width="5" height="1"/>
<rect x="695" y="599" width="5" height="1"/>
<text x="47" y="604" text-anchor="end" font-family="Liberation Sans, sans-serif" font-size="12">11</text>
<text x="47" y="584" text-anchor="end" font-family="Liberation Sans, sans-serif" font-size="12">12</text>
<text x="50" y="824" text-anchor="middle" font-family="Liberation Sans, sans-serif" font-size="12">00:00</text>
<rect x="158" y="580" width="1" height="5"/>
<rect x="158" y="804" width="1" height="5"/>
<text x="158" y="824" text-anchor="middle" font-family="Liberation Sans, sans-serif" font-size="12">04:00</text>
<rect x="267" y="580" width="1" height="5"/>
<rect x="267" y="804" width="1" height="5"/>
<text x="267" y="824" text-anchor="middle" font-family="Liberation Sans, sans-serif" font-size="12">08:00</text>
<rect x="375" y="580" width="1" height="5"/>
<rect x="375" y="804" width="1" height="5"/>
<text x="375" y="824" text-anchor="middle" font-family="Liberation Sans, sans-serif" font-size="12">12:00</text>
<rect x="483" y="580" width="1" height="5"/>
<rect x="483" y="804" width="1" height="5"/>
<text x="483" y="824" text-anchor="middle" font-family="Liberation Sans, sans-serif" font-size="12">16:00</text>
<rect x="592" y="580" width="1" height="5"/>
<rect x="592" y="804" width="1" height="5"/>
<text x="592" y="824" text-anchor="middle" font-family="Liberation Sans, sans-serif" font-size="12">20:00</text>
<text x="700" y="824" text-anchor="middle" font-family="Liberation Sans, sans-serif" font-size="12">00:00</text>
<text x="375" y="842" text-anchor="middle" font-family="Liberation Sans, sans-serif" font-size="12">Time (UTC)</text>
<text transform="translate(27,695.5) rotate(-90)" text-anchor="middle" font-family="Liberation Sans, sans-serif" font-size="12">Height (km)</text>
<text x="57" y="596.5" font-family="Liberation Sans, sans-serif" font-size="13" font-weight="bold" textLength="86.5" lengthAdjust="spacingAndGlyphs">Spectral width</text>
<rect x="754.5" y="614.5" width="16" height="160" fill="url(#cb)" stroke="#000" stroke-width="1"/>
<text x="752" y="620" text-anchor="end" font-family="Liberation Sans, sans-serif" font-size="12">10<tspan dy="-5" font-size="9">0.5</tspan></text>
<text x="752" y="660" text-anchor="end" font-family="Liberation Sans, sans-serif" font-size="12">10<tspan dy="-5" font-size="9">0</tspan></text>
<text x="752" y="700" text-anchor="end" font-family="Liberation Sans, sans-serif" font-size="12">10<tspan dy="-5" font-size="9">-0.5</tspan></text>
<text x="752" y="740" text-anchor="end" font-family="Liberation Sans, sans-serif" font-size="12">10<tspan dy="-5" font-size="9">-1</tspan></text>
<text x="752" y="780" text-anchor="end" font-family="Liberation Sans, sans-serif" font-size="12">10<tspan dy="-5" font-size="9">-1.5</tspan></text>
<text transform="translate(717,695) rotate(-90)" text-anchor="middle" font-family="Liberation Sans, sans-serif" font-size="12">m s<tspan dy="-5" font-size="9">-1</tspan></text>
<rect x="50" y="849" width="651" height="1"/>
<rect x="50" y="1079" width="651" height="1"/>
<rect x="50" y="849" width="1" height="231"/>
<rect x="700" y="849" width="1" height="231"/>
<text x="47" y="1084" text-anchor="end" font-family="Liberation Sans, sans-serif" font-size="12">0</text>
<rect x="51" y="1060" width="5" height="1"/>
<rect x="695" y="1060" width="5" height="1"/>
<text x="47" y="1065" text-anchor="end" font-family="Liberation Sans, sans-serif" font-size="12">1</text>
<rect x="51" y="1041" width="5" height="1"/>
<rect x="695" y="1041" width="5" height="1"/>
<text x="47" y="1046" text-anchor="end" font-family="Liberation Sans, sans-serif" font-size="12">2</text>
<rect x="51" y="1022" width="5" height="1"/>
<rect x="695" y="1022" width="5" height="1"/>
<text x="47" y="1027" text-anchor="end" font-family="Liberation Sans, sans-serif" font-size="12">3</text>
<rect x="51" y="1003" width="5" height="1"/>
<rect x="695" y="1003" width="5" height="1"/>
<text x="47" y="1008" text-anchor="end" font-family="Liberation Sans, sans-serif" font-size="12">4</text>
<rect x="51" y="984" width="5" height="1"/>
<rect x="695" y="984" width="5" height="1"/>
<text x="47" y="989" text-anchor="end" font-family="Liberation Sans, sans-serif" font-size="12">5</text>
<rect x="51" y="964" width="5" height="1"/>
<rect x="695" y="964" width="5" height="1"/>
<text x="47" y="969" text-anchor="end" font-family="Liberation Sans, sans-serif" font-size="12">6</text>
<rect x="51" y="945" width="5" height="1"/>
<rect x="695" y="945" width="5" height="1"/>
<text x="47" y="950" text-anchor="end" font-family="Liberation Sans, sans-serif" font-size="12">7</text>
<rect x="51" y="926" width="5" height="1"/>
<rect x="695" y="926" width="5" height="1"/>
<text x="47" y="931" text-anchor="end" font-family="Liberation Sans, sans-serif" font-size="12">8</text>
<rect x="51" y="907" width="5" height="1"/>
<rect x="695" y="907" width="5" height="1"/>
<text x="47" y="912" text-anchor="end" font-family="Liberation Sans, sans-serif" font-size="12">9</text>
<rect x="51" y="888" width="5" height="1"/>
<rect x="695" y="888" width="5" height="1"/>
<text x="47" y="893" text-anchor="end" font-family="Liberation Sans, sans-serif" font-size="12">10</text>
<rect x="51" y="869" width="5" height="1"/>
<rect x="695" y="869" width="5" height="1"/>
<text x="47" y="874" text-anchor="end" font-family="Liberation Sans, sans-serif" font-size="12">11</text>
<text x="47" y="854" text-anchor="end" font-family="Liberation Sans, sans-serif" font-size="12">12</text>
<text x="50" y="1094" text-anchor="middle" font-family="Liberation Sans, sans-serif" font-size="12">00:00</text>
<rect x="158" y="850" width="1" height="5"/>
<rect x="158" y="1074" width="1" height="5"/>
<text x="158" y="1094" text-anchor="middle" font-family="Liberation Sans, sans-serif" font-size="12">04:00</text>
<rect x="267" y="850" width="1" height="5"/>
<rect x="267" y="1074" width="1" height="5"/>
<text x="267" y="1094" text-anchor="middle" font-family="Liberation Sans, sans-serif" font-size="12">08:00</text>
<rect x="375" y="850" width="1" height="5"/>
<rect x="375" y="1074" width="1" height="5"/>
<text x="375" y="1094" text-anchor="middle" font-family="Liberation Sans, sans-serif" font-size="12">12:00</text>
<rect x="483" y="850" width="1" height="5"/>
<rect x="483" y="1074" width="1" height="5"/>
<text x="483" y="1094" text-anchor="middle" font-family="Liberation Sans, sans-serif" font-size="12">16:00</text>
<rect x="592" y="850" width="1" height="5"/>
<rect x="592" y="1074" width="1" height="5"/>
<text x="592" y="1094" text-anchor="middle" font-family="Liberation Sans, sans-serif" font-size="12">20:00</text>
<text x="700" y="1094" text-anchor="middle" font-family="Liberation Sans, sans-serif" font-size="12">00:00</text>
<text x="375" y="1112" text-anchor="middle" font-family="Liberation Sans, sans-serif" font-size="12">Time (UTC)</text>
<text transform="translate(27,965.5) rotate(-90)" text-anchor="middle" font-family="Liberation Sans, sans-serif" font-size="12">Height (km)</text>
<text x="57" y="866.5" font-family="Liberation Sans, sans-serif" font-size="13" font-weight="bold" textLength="152.5" lengthAdjust="spacingAndGlyphs">Linear depolarisation ratio</text>
<rect x="754.5" y="884.5" width="16" height="160" fill="url(#cb)" stroke="#000" stroke-width="1"/>
<text x="751" y="889.0" text-anchor="end" font-family="Liberation Sans, sans-serif" font-size="12">0</text>
<text x="751" y="915.6666666666666" text-anchor="end" font-family="Liberation Sans, sans-serif" font-size="12">-5</text>
<text x="751" y="942.3333333333334" text-anchor="end" font-family="Liberation Sans, sans-serif" font-size="12">-10</text>
<text x="751" y="969.0" text-anchor="end" font-family="Liberation Sans, sans-serif" font-size="12">-15</text>
<text x="751" y="995.6666666666666" text-anchor="end" font-family="Liberation Sans, sans-serif" font-size="12">-20</text>
<text x="751" y="1022.3333333333334" text-anchor="end" font-family="Liberation Sans, sans-serif" font-size="12">-25</text>
<text x="751" y="1049.0" text-anchor="end" font-family="Liberation Sans, sans-serif" font-size="12">-30</text>
<text transform="translate(726,964) rotate(-90)" text-anchor="middle" font-family="Liberation Sans, sans-serif" font-size="12">dB</text>
<text x="53" y="33" font-family="Liberation Sans, sans-serif" font-size="12.5" textLength="70" lengthAdjust="spacingAndGlyphs">19 Jan 2020</text>
<text x="3.5" y="1113" font-family="Liberation Sans, sans-serif" font-size="13" font-weight="bold" textLength="232" lengthAdjust="spacingAndGlyphs">TROPOS 35.5 GHz (SLDR) cloud radar</text>
</svg></body></html>
